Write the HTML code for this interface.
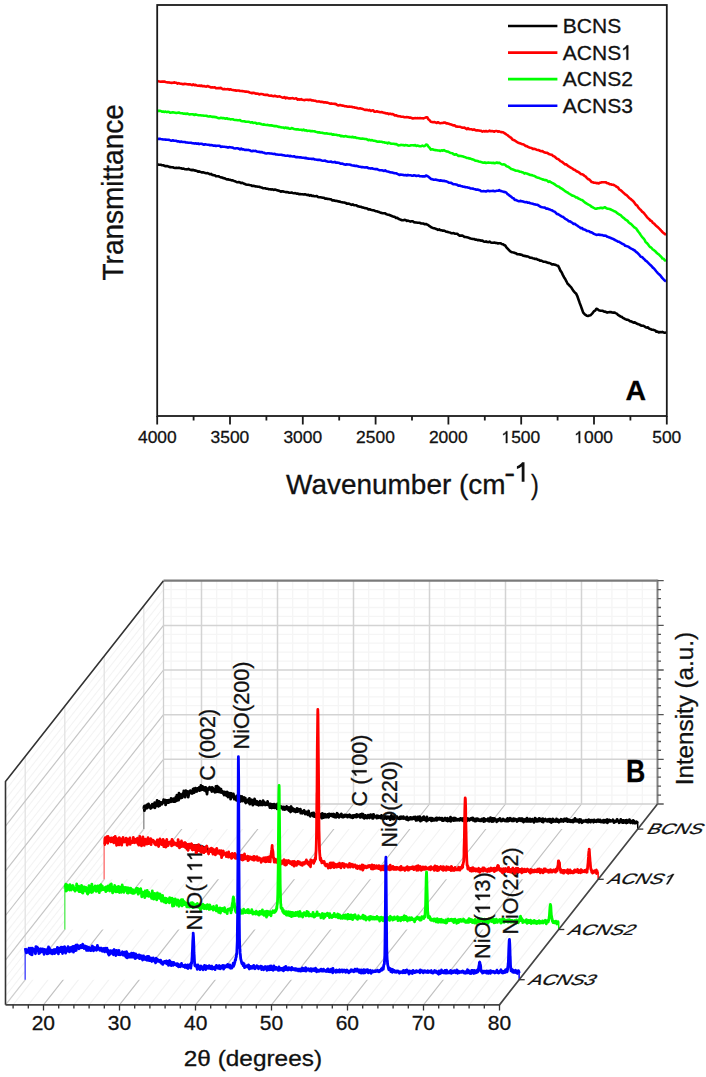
<!DOCTYPE html>
<html><head><meta charset="utf-8"><style>
html,body{margin:0;padding:0;background:#fff;}
svg{display:block;font-family:"Liberation Sans", sans-serif;}
text{stroke:#111;stroke-width:0.3px;}
</style></head><body>
<svg width="706" height="1077" viewBox="0 0 706 1077">
<rect x="0" y="0" width="706" height="1077" fill="#fff"/>
<polyline fill="none" stroke="#000" stroke-width="2.6" stroke-linejoin="round" points="157.2,164.3 158.4,164.6 159.6,164.7 160.8,164.8 162.0,165.2 163.2,165.3 164.4,165.8 165.6,166.3 166.8,166.1 168.0,166.3 169.2,166.9 170.4,167.1 171.6,167.3 172.8,167.2 174.0,167.7 175.2,168.0 176.4,167.7 177.6,168.0 178.8,167.8 180.0,168.1 181.2,168.2 182.4,168.7 183.6,168.6 184.8,169.2 186.0,169.3 187.2,169.4 188.4,168.9 189.6,169.6 190.8,169.9 192.0,170.1 193.2,169.9 194.4,170.4 195.6,170.6 196.8,170.9 198.0,171.6 199.2,171.4 200.4,171.9 201.6,172.4 202.8,172.2 204.0,172.6 205.2,172.9 206.4,173.2 207.6,173.1 208.8,173.7 210.0,174.3 211.2,173.9 212.4,174.9 213.6,175.1 214.8,175.2 216.0,176.3 217.2,176.3 218.4,176.2 219.6,176.9 220.8,177.4 222.0,177.5 223.2,178.1 224.4,178.3 225.6,178.8 226.8,179.4 228.0,179.2 229.2,179.8 230.4,179.9 231.6,180.4 232.8,180.4 234.0,180.9 235.2,181.3 236.4,181.9 237.6,182.3 238.8,182.0 240.0,182.4 241.2,183.1 242.4,182.8 243.6,183.5 244.8,183.9 246.0,184.5 247.2,184.7 248.4,184.7 249.6,185.0 250.8,185.2 252.0,185.9 253.2,185.7 254.4,186.0 255.6,186.4 256.8,186.5 258.0,186.8 259.2,186.8 260.4,187.3 261.6,187.5 262.8,188.1 264.0,188.2 265.2,188.3 266.4,188.7 267.6,188.7 268.8,189.3 270.0,189.2 271.2,189.6 272.4,189.3 273.6,189.9 274.8,189.6 276.0,189.8 277.2,190.4 278.4,190.5 279.6,191.0 280.8,191.7 282.0,191.2 283.2,191.4 284.4,191.8 285.6,192.1 286.8,192.1 288.0,192.3 289.2,192.7 290.4,192.8 291.6,192.6 292.8,193.0 294.0,193.2 295.2,193.1 296.4,193.6 297.6,193.5 298.8,194.1 300.0,194.1 301.2,194.2 302.4,194.2 303.6,194.5 304.8,194.2 306.0,194.6 307.2,195.1 308.4,194.7 309.6,195.6 310.8,195.1 312.0,195.9 313.2,195.7 314.4,196.3 315.6,196.3 316.8,196.0 318.0,197.0 319.2,197.3 320.4,197.2 321.6,197.5 322.8,197.8 324.0,197.8 325.2,198.6 326.4,198.5 327.6,198.9 328.8,199.0 330.0,199.3 331.2,199.4 332.4,200.4 333.6,200.3 334.8,200.8 336.0,200.9 337.2,201.0 338.4,201.4 339.6,201.6 340.8,202.0 342.0,202.2 343.2,202.5 344.4,202.5 345.6,202.9 346.8,203.8 348.0,203.5 349.2,203.7 350.4,204.3 351.6,204.9 352.8,204.4 354.0,205.1 355.2,205.3 356.4,205.3 357.6,206.3 358.8,206.4 360.0,206.8 361.2,206.9 362.4,207.5 363.6,207.6 364.8,208.1 366.0,208.2 367.2,208.5 368.4,209.4 369.6,209.3 370.8,209.8 372.0,210.1 373.2,210.3 374.4,210.6 375.6,211.2 376.8,211.3 378.0,211.7 379.2,212.1 380.4,212.7 381.6,212.9 382.8,213.2 384.0,213.3 385.2,213.4 386.4,214.3 387.6,214.6 388.8,214.7 390.0,215.2 391.2,215.7 392.4,216.2 393.6,216.8 394.8,216.9 396.0,218.0 397.2,217.8 398.4,218.8 399.6,219.3 400.8,219.7 402.0,220.2 403.2,220.3 404.4,219.9 405.6,220.0 406.8,220.9 408.0,220.6 409.2,221.1 410.4,221.6 411.6,221.2 412.8,221.3 414.0,222.2 415.2,222.4 416.4,222.5 417.6,222.8 418.8,222.8 420.0,222.9 421.2,223.5 422.4,223.5 423.6,223.6 424.8,224.3 426.0,224.0 427.2,224.6 428.4,225.2 429.6,226.2 430.8,227.0 432.0,227.6 433.2,228.2 434.4,228.2 435.6,228.8 436.8,229.2 438.0,229.9 439.2,229.4 440.4,230.3 441.6,230.3 442.8,230.7 444.0,230.6 445.2,231.2 446.4,231.8 447.6,231.9 448.8,232.3 450.0,232.5 451.2,233.2 452.4,233.2 453.6,233.0 454.8,233.7 456.0,233.7 457.2,233.7 458.4,234.8 459.6,235.6 460.8,235.6 462.0,235.6 463.2,236.0 464.4,236.9 465.6,237.0 466.8,237.3 468.0,237.6 469.2,237.9 470.4,238.5 471.6,238.7 472.8,239.0 474.0,239.0 475.2,239.6 476.4,239.5 477.6,240.2 478.8,239.9 480.0,240.4 481.2,240.6 482.4,240.5 483.6,241.5 484.8,241.7 486.0,241.4 487.2,242.0 488.4,242.1 489.6,241.6 490.8,242.5 492.0,242.7 493.2,242.8 494.4,242.6 495.6,242.9 496.8,243.0 498.0,243.4 499.2,243.2 500.4,243.2 501.6,243.9 502.8,244.2 504.0,245.0 505.2,245.5 506.4,247.3 507.6,248.6 508.8,249.9 510.0,251.2 511.2,251.9 512.4,252.3 513.6,252.5 514.8,252.9 516.0,253.3 517.2,254.1 518.4,254.2 519.6,254.4 520.8,254.6 522.0,254.9 523.2,255.8 524.4,255.9 525.6,256.1 526.8,256.4 528.0,256.5 529.2,257.2 530.4,257.7 531.6,257.8 532.8,258.2 534.0,258.5 535.2,259.0 536.4,258.9 537.6,259.6 538.8,259.8 540.0,260.6 541.2,260.6 542.4,261.2 543.6,261.8 544.8,261.7 546.0,262.0 547.2,262.6 548.4,262.9 549.6,263.0 550.8,263.7 552.0,264.5 553.2,264.3 554.4,264.6 555.6,264.8 556.8,265.5 558.0,265.7 559.2,267.9 560.4,270.6 561.6,272.2 562.8,274.9 564.0,277.2 565.2,279.0 566.4,281.3 567.6,283.8 568.8,284.8 570.0,286.2 571.2,287.4 572.4,289.3 573.6,291.1 574.8,292.4 576.0,293.4 577.2,295.8 578.4,299.2 579.6,302.7 580.8,305.9 582.0,309.3 583.2,312.6 584.4,313.9 585.6,314.9 586.8,315.8 588.0,316.0 589.2,315.6 590.4,315.3 591.6,314.1 592.8,312.8 594.0,311.2 595.2,310.6 596.4,308.8 597.6,309.3 598.8,310.2 600.0,310.6 601.2,310.7 602.4,310.7 603.6,311.4 604.8,311.6 606.0,312.0 607.2,312.6 608.4,312.2 609.6,312.1 610.8,312.1 612.0,312.5 613.2,312.6 614.4,312.5 615.6,313.1 616.8,313.6 618.0,314.9 619.2,315.6 620.4,316.4 621.6,316.8 622.8,317.8 624.0,318.4 625.2,319.1 626.4,319.6 627.6,319.8 628.8,320.2 630.0,321.2 631.2,321.4 632.4,322.0 633.6,322.6 634.8,322.4 636.0,323.1 637.2,323.8 638.4,324.3 639.6,324.6 640.8,325.4 642.0,325.6 643.2,325.7 644.4,326.3 645.6,327.2 646.8,327.6 648.0,327.4 649.2,328.7 650.4,329.0 651.6,329.6 652.8,329.7 654.0,330.1 655.2,330.4 656.4,331.8 657.6,331.6 658.8,332.5 660.0,332.0 661.2,332.3 662.4,331.9 663.6,332.4 664.8,332.8 666.0,332.3"/>
<polyline fill="none" stroke="#0000ff" stroke-width="2.6" stroke-linejoin="round" points="157.2,139.0 158.4,138.9 159.6,138.7 160.8,139.0 162.0,139.2 163.2,139.5 164.4,139.5 165.6,139.6 166.8,139.8 168.0,139.8 169.2,139.9 170.4,140.4 171.6,140.8 172.8,140.3 174.0,140.8 175.2,140.8 176.4,140.9 177.6,141.5 178.8,141.3 180.0,142.0 181.2,141.6 182.4,142.0 183.6,142.0 184.8,142.0 186.0,142.5 187.2,142.5 188.4,142.8 189.6,142.8 190.8,142.7 192.0,143.1 193.2,143.3 194.4,143.6 195.6,143.3 196.8,143.7 198.0,143.4 199.2,144.1 200.4,143.8 201.6,143.8 202.8,144.3 204.0,144.8 205.2,144.2 206.4,144.5 207.6,144.7 208.8,144.8 210.0,145.3 211.2,145.1 212.4,145.3 213.6,145.7 214.8,145.5 216.0,146.0 217.2,145.7 218.4,145.8 219.6,145.8 220.8,146.9 222.0,146.5 223.2,146.7 224.4,146.8 225.6,147.0 226.8,147.1 228.0,147.7 229.2,147.1 230.4,147.2 231.6,147.5 232.8,147.6 234.0,148.3 235.2,148.5 236.4,148.2 237.6,148.3 238.8,148.7 240.0,149.4 241.2,148.5 242.4,149.5 243.6,149.3 244.8,150.0 246.0,149.7 247.2,150.0 248.4,149.9 249.6,150.2 250.8,151.0 252.0,151.1 253.2,150.9 254.4,151.0 255.6,150.9 256.8,151.5 258.0,151.8 259.2,151.9 260.4,152.1 261.6,152.0 262.8,152.5 264.0,152.7 265.2,153.2 266.4,153.5 267.6,153.2 268.8,153.2 270.0,153.5 271.2,153.5 272.4,153.7 273.6,154.0 274.8,153.9 276.0,154.5 277.2,154.5 278.4,154.7 279.6,154.8 280.8,154.8 282.0,154.9 283.2,155.3 284.4,155.4 285.6,155.7 286.8,155.8 288.0,155.6 289.2,156.1 290.4,155.9 291.6,156.3 292.8,156.5 294.0,156.2 295.2,156.9 296.4,157.1 297.6,157.1 298.8,157.2 300.0,157.4 301.2,157.4 302.4,157.7 303.6,157.8 304.8,158.1 306.0,157.9 307.2,158.5 308.4,158.6 309.6,158.7 310.8,158.7 312.0,159.1 313.2,158.7 314.4,159.4 315.6,159.5 316.8,159.7 318.0,159.9 319.2,159.8 320.4,160.1 321.6,160.5 322.8,160.7 324.0,160.8 325.2,160.6 326.4,161.3 327.6,161.6 328.8,161.8 330.0,161.8 331.2,161.5 332.4,162.3 333.6,162.3 334.8,161.9 336.0,162.8 337.2,162.5 338.4,162.7 339.6,163.1 340.8,163.8 342.0,163.5 343.2,163.9 344.4,164.5 345.6,164.6 346.8,164.4 348.0,164.5 349.2,164.5 350.4,164.8 351.6,165.3 352.8,165.5 354.0,165.6 355.2,166.0 356.4,165.8 357.6,166.2 358.8,166.6 360.0,166.8 361.2,167.1 362.4,167.1 363.6,167.2 364.8,167.5 366.0,167.4 367.2,167.4 368.4,168.2 369.6,168.3 370.8,168.6 372.0,168.3 373.2,168.8 374.4,169.0 375.6,169.1 376.8,169.0 378.0,169.6 379.2,170.2 380.4,170.2 381.6,170.2 382.8,170.6 384.0,171.0 385.2,170.3 386.4,171.2 387.6,171.5 388.8,171.8 390.0,172.2 391.2,172.4 392.4,172.5 393.6,172.9 394.8,173.3 396.0,173.3 397.2,173.8 398.4,174.4 399.6,175.0 400.8,174.6 402.0,174.7 403.2,174.9 404.4,175.3 405.6,175.0 406.8,175.5 408.0,174.9 409.2,175.2 410.4,175.3 411.6,175.6 412.8,175.8 414.0,175.3 415.2,175.5 416.4,175.9 417.6,175.7 418.8,175.6 420.0,176.3 421.2,176.3 422.4,176.4 423.6,176.2 424.8,176.5 426.0,175.5 427.2,176.0 428.4,176.7 429.6,177.7 430.8,178.9 432.0,179.1 433.2,179.6 434.4,179.7 435.6,179.6 436.8,180.0 438.0,180.1 439.2,180.6 440.4,180.4 441.6,180.6 442.8,180.9 444.0,180.8 445.2,181.3 446.4,181.4 447.6,181.9 448.8,182.6 450.0,182.7 451.2,182.9 452.4,183.7 453.6,184.2 454.8,184.3 456.0,184.5 457.2,184.8 458.4,185.6 459.6,185.5 460.8,186.0 462.0,186.3 463.2,186.7 464.4,186.7 465.6,187.2 466.8,187.2 468.0,187.6 469.2,187.7 470.4,188.5 471.6,188.5 472.8,188.6 474.0,189.0 475.2,189.3 476.4,189.8 477.6,189.5 478.8,189.9 480.0,190.3 481.2,191.3 482.4,191.2 483.6,191.1 484.8,191.2 486.0,191.5 487.2,190.9 488.4,190.8 489.6,191.2 490.8,191.0 492.0,191.0 493.2,190.7 494.4,191.2 495.6,191.1 496.8,190.8 498.0,190.8 499.2,190.1 500.4,191.0 501.6,191.1 502.8,191.6 504.0,191.9 505.2,192.1 506.4,192.7 507.6,194.2 508.8,194.9 510.0,195.9 511.2,196.8 512.4,197.9 513.6,198.3 514.8,199.9 516.0,200.0 517.2,200.6 518.4,201.2 519.6,201.1 520.8,200.9 522.0,201.4 523.2,201.5 524.4,201.9 525.6,202.3 526.8,202.0 528.0,202.8 529.2,202.6 530.4,203.3 531.6,203.5 532.8,203.8 534.0,204.2 535.2,204.4 536.4,204.7 537.6,204.8 538.8,205.6 540.0,206.5 541.2,207.0 542.4,207.3 543.6,207.5 544.8,207.6 546.0,208.6 547.2,208.6 548.4,209.0 549.6,209.4 550.8,209.9 552.0,210.3 553.2,211.1 554.4,211.6 555.6,212.5 556.8,213.9 558.0,214.1 559.2,214.8 560.4,215.7 561.6,216.5 562.8,216.8 564.0,217.8 565.2,218.8 566.4,219.4 567.6,220.1 568.8,221.2 570.0,221.4 571.2,222.2 572.4,222.8 573.6,224.0 574.8,223.8 576.0,224.8 577.2,225.5 578.4,226.5 579.6,227.2 580.8,228.1 582.0,228.0 583.2,229.3 584.4,229.6 585.6,230.0 586.8,230.9 588.0,231.0 589.2,231.2 590.4,232.2 591.6,232.4 592.8,233.1 594.0,233.9 595.2,234.4 596.4,234.9 597.6,234.7 598.8,234.5 600.0,234.9 601.2,235.0 602.4,235.1 603.6,235.7 604.8,235.6 606.0,235.7 607.2,236.8 608.4,237.0 609.6,237.6 610.8,238.0 612.0,238.6 613.2,238.9 614.4,239.8 615.6,240.3 616.8,240.9 618.0,241.6 619.2,241.8 620.4,242.7 621.6,243.4 622.8,244.1 624.0,244.4 625.2,245.8 626.4,246.1 627.6,246.4 628.8,246.9 630.0,247.9 631.2,248.6 632.4,249.1 633.6,250.0 634.8,250.5 636.0,251.8 637.2,252.6 638.4,253.9 639.6,255.2 640.8,256.7 642.0,257.0 643.2,258.2 644.4,259.2 645.6,260.7 646.8,261.4 648.0,262.7 649.2,263.9 650.4,265.0 651.6,266.2 652.8,267.6 654.0,268.5 655.2,270.0 656.4,271.5 657.6,272.9 658.8,274.1 660.0,275.0 661.2,276.6 662.4,278.2 663.6,279.4 664.8,280.6 666.0,281.6"/>
<polyline fill="none" stroke="#00ff00" stroke-width="2.6" stroke-linejoin="round" points="157.2,111.1 158.4,110.9 159.6,110.8 160.8,111.0 162.0,111.7 163.2,111.5 164.4,111.9 165.6,111.6 166.8,112.1 168.0,111.8 169.2,112.0 170.4,112.8 171.6,112.5 172.8,112.3 174.0,112.5 175.2,112.7 176.4,113.0 177.6,112.7 178.8,112.5 180.0,113.0 181.2,113.2 182.4,113.3 183.6,113.7 184.8,113.6 186.0,113.9 187.2,113.5 188.4,114.1 189.6,114.5 190.8,114.3 192.0,114.3 193.2,114.4 194.4,115.0 195.6,114.4 196.8,114.8 198.0,115.1 199.2,115.3 200.4,115.2 201.6,115.5 202.8,115.5 204.0,115.8 205.2,115.8 206.4,115.7 207.6,116.2 208.8,116.5 210.0,116.2 211.2,116.6 212.4,116.9 213.6,116.7 214.8,117.1 216.0,117.0 217.2,117.7 218.4,118.1 219.6,118.2 220.8,117.8 222.0,118.1 223.2,118.1 224.4,118.3 225.6,118.8 226.8,118.2 228.0,119.0 229.2,118.9 230.4,119.4 231.6,119.3 232.8,119.3 234.0,119.7 235.2,120.0 236.4,120.0 237.6,120.3 238.8,120.3 240.0,120.1 241.2,121.0 242.4,121.2 243.6,121.2 244.8,121.4 246.0,121.8 247.2,121.7 248.4,121.8 249.6,122.1 250.8,122.6 252.0,122.2 253.2,123.0 254.4,122.8 255.6,122.8 256.8,123.6 258.0,123.5 259.2,123.4 260.4,123.8 261.6,124.3 262.8,124.6 264.0,124.4 265.2,124.8 266.4,125.0 267.6,124.9 268.8,125.3 270.0,125.4 271.2,125.4 272.4,125.6 273.6,125.9 274.8,126.1 276.0,126.1 277.2,126.3 278.4,126.9 279.6,126.9 280.8,127.2 282.0,127.5 283.2,127.5 284.4,128.1 285.6,127.5 286.8,128.1 288.0,127.9 289.2,128.6 290.4,128.8 291.6,128.0 292.8,128.4 294.0,129.0 295.2,129.2 296.4,129.4 297.6,129.3 298.8,129.6 300.0,129.8 301.2,129.8 302.4,130.3 303.6,129.6 304.8,130.5 306.0,130.2 307.2,130.9 308.4,130.8 309.6,130.8 310.8,131.3 312.0,131.1 313.2,131.3 314.4,131.3 315.6,131.8 316.8,132.1 318.0,132.4 319.2,132.3 320.4,132.8 321.6,132.7 322.8,132.9 324.0,133.2 325.2,133.5 326.4,133.3 327.6,133.6 328.8,133.8 330.0,134.0 331.2,133.9 332.4,134.6 333.6,134.4 334.8,134.8 336.0,134.7 337.2,135.1 338.4,135.3 339.6,135.3 340.8,136.1 342.0,135.9 343.2,136.4 344.4,136.4 345.6,136.1 346.8,136.4 348.0,136.8 349.2,136.9 350.4,137.0 351.6,137.1 352.8,136.9 354.0,137.5 355.2,137.2 356.4,138.0 357.6,138.0 358.8,138.2 360.0,138.5 361.2,138.8 362.4,138.5 363.6,138.7 364.8,139.0 366.0,139.0 367.2,139.4 368.4,140.3 369.6,139.8 370.8,140.4 372.0,140.1 373.2,140.7 374.4,140.7 375.6,141.0 376.8,141.4 378.0,141.8 379.2,141.6 380.4,141.8 381.6,141.7 382.8,142.3 384.0,142.3 385.2,142.8 386.4,142.7 387.6,143.4 388.8,142.6 390.0,143.2 391.2,143.7 392.4,143.7 393.6,143.8 394.8,144.1 396.0,144.0 397.2,144.6 398.4,145.4 399.6,145.3 400.8,144.9 402.0,145.0 403.2,145.1 404.4,145.5 405.6,145.1 406.8,145.2 408.0,145.6 409.2,145.7 410.4,145.4 411.6,145.2 412.8,145.2 414.0,145.4 415.2,145.1 416.4,145.9 417.6,145.6 418.8,145.9 420.0,146.3 421.2,146.2 422.4,145.6 423.6,146.2 424.8,146.0 426.0,144.6 427.2,144.7 428.4,146.6 429.6,147.7 430.8,149.6 432.0,149.2 433.2,149.6 434.4,150.0 435.6,150.1 436.8,150.3 438.0,150.5 439.2,150.5 440.4,151.0 441.6,150.3 442.8,150.7 444.0,150.1 445.2,150.8 446.4,151.4 447.6,151.5 448.8,152.0 450.0,152.7 451.2,153.0 452.4,153.2 453.6,154.3 454.8,154.7 456.0,154.2 457.2,155.0 458.4,155.9 459.6,155.8 460.8,156.0 462.0,156.3 463.2,156.6 464.4,157.0 465.6,157.3 466.8,158.0 468.0,158.0 469.2,158.4 470.4,158.6 471.6,159.2 472.8,159.4 474.0,159.9 475.2,160.6 476.4,160.7 477.6,161.1 478.8,161.5 480.0,161.7 481.2,162.1 482.4,162.4 483.6,162.8 484.8,162.4 486.0,163.0 487.2,162.8 488.4,162.6 489.6,162.7 490.8,162.7 492.0,163.0 493.2,162.8 494.4,163.3 495.6,162.9 496.8,162.5 498.0,163.0 499.2,162.7 500.4,163.5 501.6,164.2 502.8,164.5 504.0,164.3 505.2,164.9 506.4,166.2 507.6,166.5 508.8,167.1 510.0,168.0 511.2,169.0 512.4,169.3 513.6,169.7 514.8,170.3 516.0,170.7 517.2,170.7 518.4,171.0 519.6,171.6 520.8,171.7 522.0,172.3 523.2,172.6 524.4,173.6 525.6,173.1 526.8,173.6 528.0,174.0 529.2,174.5 530.4,175.0 531.6,175.1 532.8,175.5 534.0,175.8 535.2,176.4 536.4,177.3 537.6,177.6 538.8,177.8 540.0,178.4 541.2,178.9 542.4,179.4 543.6,179.6 544.8,180.1 546.0,180.1 547.2,180.7 548.4,181.9 549.6,181.3 550.8,182.2 552.0,182.8 553.2,183.4 554.4,184.1 555.6,185.0 556.8,185.8 558.0,186.5 559.2,186.8 560.4,188.0 561.6,188.5 562.8,189.4 564.0,190.3 565.2,191.2 566.4,192.0 567.6,192.4 568.8,193.5 570.0,194.2 571.2,194.8 572.4,195.6 573.6,195.8 574.8,196.5 576.0,197.4 577.2,197.5 578.4,198.6 579.6,199.0 580.8,199.7 582.0,200.0 583.2,200.9 584.4,201.9 585.6,202.9 586.8,203.7 588.0,204.3 589.2,205.0 590.4,205.7 591.6,206.8 592.8,207.3 594.0,208.0 595.2,208.7 596.4,208.8 597.6,208.3 598.8,208.2 600.0,207.9 601.2,207.8 602.4,208.2 603.6,207.8 604.8,207.2 606.0,208.0 607.2,208.6 608.4,208.7 609.6,209.0 610.8,209.5 612.0,210.1 613.2,210.7 614.4,211.3 615.6,211.7 616.8,212.7 618.0,213.7 619.2,214.5 620.4,214.9 621.6,216.2 622.8,217.3 624.0,218.1 625.2,219.4 626.4,220.1 627.6,220.9 628.8,222.5 630.0,223.3 631.2,224.1 632.4,225.3 633.6,226.6 634.8,227.7 636.0,228.3 637.2,230.1 638.4,231.7 639.6,233.2 640.8,235.1 642.0,236.9 643.2,238.1 644.4,239.5 645.6,241.9 646.8,242.9 648.0,244.3 649.2,246.1 650.4,247.2 651.6,248.0 652.8,249.5 654.0,250.2 655.2,251.2 656.4,252.5 657.6,253.7 658.8,254.4 660.0,255.7 661.2,256.7 662.4,258.5 663.6,258.7 664.8,260.3 666.0,261.0"/>
<polyline fill="none" stroke="#ff0000" stroke-width="2.6" stroke-linejoin="round" points="157.2,81.0 158.4,81.3 159.6,81.5 160.8,81.7 162.0,81.6 163.2,81.5 164.4,81.6 165.6,82.0 166.8,82.2 168.0,82.5 169.2,82.4 170.4,82.7 171.6,82.9 172.8,82.7 174.0,82.4 175.2,82.6 176.4,82.7 177.6,83.6 178.8,83.1 180.0,83.7 181.2,83.7 182.4,84.1 183.6,84.1 184.8,83.9 186.0,84.0 187.2,84.2 188.4,84.4 189.6,84.3 190.8,84.6 192.0,85.1 193.2,84.4 194.4,85.1 195.6,84.9 196.8,85.4 198.0,85.7 199.2,85.6 200.4,86.0 201.6,85.5 202.8,86.3 204.0,86.1 205.2,86.5 206.4,86.6 207.6,86.0 208.8,86.6 210.0,87.0 211.2,87.5 212.4,87.3 213.6,87.5 214.8,87.2 216.0,88.1 217.2,88.3 218.4,88.0 219.6,88.1 220.8,87.9 222.0,88.7 223.2,89.3 224.4,88.9 225.6,89.2 226.8,89.2 228.0,89.0 229.2,89.7 230.4,89.3 231.6,89.7 232.8,90.0 234.0,90.3 235.2,90.4 236.4,90.6 237.6,90.5 238.8,90.5 240.0,91.0 241.2,91.0 242.4,91.1 243.6,91.3 244.8,91.6 246.0,91.5 247.2,91.8 248.4,91.9 249.6,92.5 250.8,92.8 252.0,93.3 253.2,92.7 254.4,93.0 255.6,93.6 256.8,93.5 258.0,93.7 259.2,94.4 260.4,94.0 261.6,94.0 262.8,94.2 264.0,94.8 265.2,94.9 266.4,94.7 267.6,94.9 268.8,95.5 270.0,95.7 271.2,95.5 272.4,96.0 273.6,96.2 274.8,95.7 276.0,96.3 277.2,96.6 278.4,96.5 279.6,96.3 280.8,96.9 282.0,97.4 283.2,97.7 284.4,97.0 285.6,98.3 286.8,97.5 288.0,98.2 289.2,98.4 290.4,98.4 291.6,98.3 292.8,98.1 294.0,98.7 295.2,98.5 296.4,98.2 297.6,99.7 298.8,99.3 300.0,99.7 301.2,99.1 302.4,99.8 303.6,100.0 304.8,100.1 306.0,99.8 307.2,99.7 308.4,100.1 309.6,99.7 310.8,99.9 312.0,100.5 313.2,100.4 314.4,100.7 315.6,100.8 316.8,101.5 318.0,101.5 319.2,101.4 320.4,101.9 321.6,101.7 322.8,102.0 324.0,102.5 325.2,102.2 326.4,102.6 327.6,102.6 328.8,103.1 330.0,103.7 331.2,103.4 332.4,103.8 333.6,103.7 334.8,103.9 336.0,104.1 337.2,105.0 338.4,105.4 339.6,105.1 340.8,105.1 342.0,105.6 343.2,105.6 344.4,106.1 345.6,106.2 346.8,106.4 348.0,106.7 349.2,106.6 350.4,106.8 351.6,106.7 352.8,107.2 354.0,107.2 355.2,107.7 356.4,107.7 357.6,108.2 358.8,108.5 360.0,108.3 361.2,108.6 362.4,108.8 363.6,109.4 364.8,109.9 366.0,109.9 367.2,109.8 368.4,110.4 369.6,109.9 370.8,110.9 372.0,110.5 373.2,110.2 374.4,111.8 375.6,111.7 376.8,111.3 378.0,111.8 379.2,111.9 380.4,112.2 381.6,112.0 382.8,112.4 384.0,112.9 385.2,113.0 386.4,113.5 387.6,113.4 388.8,114.2 390.0,113.6 391.2,114.2 392.4,114.0 393.6,114.5 394.8,115.5 396.0,115.2 397.2,115.9 398.4,116.1 399.6,116.2 400.8,116.6 402.0,116.7 403.2,116.8 404.4,117.2 405.6,117.3 406.8,117.1 408.0,117.2 409.2,117.6 410.4,117.6 411.6,118.0 412.8,118.5 414.0,118.2 415.2,118.1 416.4,118.2 417.6,118.1 418.8,118.2 420.0,118.1 421.2,118.2 422.4,118.2 423.6,118.4 424.8,117.9 426.0,117.3 427.2,117.2 428.4,119.3 429.6,120.2 430.8,121.7 432.0,122.0 433.2,122.3 434.4,122.0 435.6,122.4 436.8,123.0 438.0,122.2 439.2,122.9 440.4,123.2 441.6,123.0 442.8,123.0 444.0,122.6 445.2,122.6 446.4,123.4 447.6,123.4 448.8,123.8 450.0,124.2 451.2,124.6 452.4,125.0 453.6,125.5 454.8,125.3 456.0,126.5 457.2,126.6 458.4,126.8 459.6,126.8 460.8,127.1 462.0,127.6 463.2,127.8 464.4,127.6 465.6,128.4 466.8,129.2 468.0,128.2 469.2,129.1 470.4,129.2 471.6,129.3 472.8,129.9 474.0,129.4 475.2,130.0 476.4,130.5 477.6,130.3 478.8,130.5 480.0,130.8 481.2,130.9 482.4,131.6 483.6,131.1 484.8,131.5 486.0,131.0 487.2,131.5 488.4,131.3 489.6,130.6 490.8,131.3 492.0,131.0 493.2,131.2 494.4,131.7 495.6,131.0 496.8,131.0 498.0,131.7 499.2,131.3 500.4,132.0 501.6,132.1 502.8,132.2 504.0,132.8 505.2,133.6 506.4,134.5 507.6,135.2 508.8,136.2 510.0,137.1 511.2,137.9 512.4,139.5 513.6,140.0 514.8,140.5 516.0,141.3 517.2,142.2 518.4,142.8 519.6,143.2 520.8,143.6 522.0,144.2 523.2,144.3 524.4,144.9 525.6,145.9 526.8,146.1 528.0,146.8 529.2,147.5 530.4,147.8 531.6,148.0 532.8,148.9 534.0,148.9 535.2,149.0 536.4,149.7 537.6,150.0 538.8,150.1 540.0,150.8 541.2,151.2 542.4,151.1 543.6,152.0 544.8,152.4 546.0,152.8 547.2,152.9 548.4,153.7 549.6,154.2 550.8,154.6 552.0,154.8 553.2,156.1 554.4,156.4 555.6,157.5 556.8,158.7 558.0,159.0 559.2,159.9 560.4,161.1 561.6,161.6 562.8,162.4 564.0,163.4 565.2,164.4 566.4,164.4 567.6,165.6 568.8,166.4 570.0,167.1 571.2,167.8 572.4,168.5 573.6,169.5 574.8,169.9 576.0,170.8 577.2,171.6 578.4,172.0 579.6,172.9 580.8,174.0 582.0,174.3 583.2,174.7 584.4,175.8 585.6,176.5 586.8,177.8 588.0,179.0 589.2,179.5 590.4,180.7 591.6,182.0 592.8,182.2 594.0,182.7 595.2,182.7 596.4,183.1 597.6,183.0 598.8,183.5 600.0,182.7 601.2,182.4 602.4,182.3 603.6,182.2 604.8,182.2 606.0,182.4 607.2,183.3 608.4,183.3 609.6,184.1 610.8,184.2 612.0,184.7 613.2,184.7 614.4,185.4 615.6,185.9 616.8,186.9 618.0,187.5 619.2,189.3 620.4,190.0 621.6,191.0 622.8,192.1 624.0,193.2 625.2,194.4 626.4,195.0 627.6,196.1 628.8,197.5 630.0,198.5 631.2,199.4 632.4,200.4 633.6,201.6 634.8,203.2 636.0,204.9 637.2,205.7 638.4,207.7 639.6,208.9 640.8,209.9 642.0,211.6 643.2,212.4 644.4,213.7 645.6,215.2 646.8,216.8 648.0,218.1 649.2,219.2 650.4,220.5 651.6,221.1 652.8,222.8 654.0,223.5 655.2,224.8 656.4,226.0 657.6,227.0 658.8,228.1 660.0,229.3 661.2,230.7 662.4,232.0 663.6,233.1 664.8,233.8 666.0,235.0"/>
<rect x="157.2" y="5.0" width="509.6" height="411.0" fill="none" stroke="#1a1a1a" stroke-width="1.8"/>
<path d="M157.2 416.0V424.4 M193.6 416.0V420.5 M230.0 416.0V424.4 M266.4 416.0V420.5 M302.8 416.0V424.4 M339.2 416.0V420.5 M375.6 416.0V424.4 M412.0 416.0V420.5 M448.4 416.0V424.4 M484.8 416.0V420.5 M521.2 416.0V424.4 M557.6 416.0V420.5 M594.0 416.0V424.4 M630.4 416.0V420.5 M666.8 416.0V424.4" stroke="#1a1a1a" stroke-width="1.8" fill="none"/>
<g transform="translate(137.97 443.10)"><text font-size="17.4" fill="#111">4000</text></g>
<g transform="translate(210.60 443.10)"><text font-size="17.4" fill="#111">3500</text></g>
<g transform="translate(283.40 443.10)"><text font-size="17.4" fill="#111">3000</text></g>
<g transform="translate(356.11 443.10)"><text font-size="17.4" fill="#111">2500</text></g>
<g transform="translate(428.91 443.10)"><text font-size="17.4" fill="#111">2000</text></g>
<g transform="translate(501.49 443.10)"><path transform="translate(0.00 0) scale(17.4)" d="M0.339 0V-0.688H0.262C0.225 -0.61 0.16 -0.56 0.096 -0.535V-0.455C0.15 -0.475 0.21 -0.51 0.251 -0.545V0Z" fill="#111" stroke="#111" stroke-width="0.0172"/><text x="9.68" font-size="17.4" fill="#111">500</text></g>
<g transform="translate(574.29 443.10)"><path transform="translate(0.00 0) scale(17.4)" d="M0.339 0V-0.688H0.262C0.225 -0.61 0.16 -0.56 0.096 -0.535V-0.455C0.15 -0.475 0.21 -0.51 0.251 -0.545V0Z" fill="#111" stroke="#111" stroke-width="0.0172"/><text x="9.68" font-size="17.4" fill="#111">000</text></g>
<g transform="translate(652.27 443.10)"><text font-size="17.4" fill="#111">500</text></g>
<g transform="translate(286.06 494.30) scale(1.0023 1.0000)"><text font-size="27.9" fill="#111">Wavenumber (cm</text></g>
<g transform="translate(504.13 482.30) scale(1.1704 1.0000)"><text font-size="27.9" fill="#111">-</text></g>
<path d="M521.7 481.8V466.4C520.4 467.6 518.7 468.5 516.9 469.1V466.3C519 465.5 521 463.9 522.1 462.3H524.5V481.8Z" fill="#111"/>
<g transform="translate(531.08 494.30) scale(0.8386 1.0000)"><text font-size="27.9" fill="#111">)</text></g>
<g transform="translate(123.40 280.46) rotate(-90) scale(0.9998 1.0300)"><text font-size="28.0" fill="#111">Transmittance</text></g>
<line x1="508" y1="26.0" x2="557.4" y2="26.0" stroke="#000" stroke-width="2.6"/>
<g transform="translate(562.8 33.2)"><text font-size="21" fill="#111">BCNS</text></g>
<line x1="508" y1="52.6" x2="557.4" y2="52.6" stroke="#ff0000" stroke-width="2.6"/>
<g transform="translate(562.8 59.8)"><text x="0.00" font-size="21" fill="#111">ACNS</text><path transform="translate(58.35 0) scale(21)" d="M0.339 0V-0.688H0.262C0.225 -0.61 0.16 -0.56 0.096 -0.535V-0.455C0.15 -0.475 0.21 -0.51 0.251 -0.545V0Z" fill="#111" stroke="#111" stroke-width="0.0143"/></g>
<line x1="508" y1="79.1" x2="557.4" y2="79.1" stroke="#00ff00" stroke-width="2.6"/>
<g transform="translate(562.8 86.4)"><text font-size="21" fill="#111">ACNS2</text></g>
<line x1="508" y1="105.7" x2="557.4" y2="105.7" stroke="#0000ff" stroke-width="2.6"/>
<g transform="translate(562.8 113.0)"><text font-size="21" fill="#111">ACNS3</text></g>
<g transform="translate(625.59 400.10) scale(1.0073 1.0000)"><text font-size="28.3" font-weight="bold" fill="#000">A</text></g>
<path d="M171.1 580.7V804.0 M186.3 580.7V804.0 M216.7 580.7V804.0 M231.9 580.7V804.0 M247.1 580.7V804.0 M262.3 580.7V804.0 M292.7 580.7V804.0 M307.9 580.7V804.0 M323.1 580.7V804.0 M338.3 580.7V804.0 M368.7 580.7V804.0 M383.9 580.7V804.0 M399.1 580.7V804.0 M414.3 580.7V804.0 M444.7 580.7V804.0 M459.9 580.7V804.0 M475.1 580.7V804.0 M490.3 580.7V804.0 M520.7 580.7V804.0 M535.9 580.7V804.0 M551.1 580.7V804.0 M566.3 580.7V804.0 M596.7 580.7V804.0 M611.9 580.7V804.0 M627.1 580.7V804.0 M642.3 580.7V804.0 M163.5 795.1H657.5 M163.5 786.1H657.5 M163.5 777.2H657.5 M163.5 768.3H657.5 M163.5 750.4H657.5 M163.5 741.5H657.5 M163.5 732.5H657.5 M163.5 723.6H657.5 M163.5 705.7H657.5 M163.5 696.8H657.5 M163.5 687.9H657.5 M163.5 679.0H657.5 M163.5 661.1H657.5 M163.5 652.2H657.5 M163.5 643.2H657.5 M163.5 634.3H657.5 M163.5 616.4H657.5 M163.5 607.5H657.5 M163.5 598.6H657.5 M163.5 589.6H657.5" stroke="#f5f5f5" stroke-width="1.3" fill="none"/>
<path d="M201.5 580.7V804.0 M277.5 580.7V804.0 M353.5 580.7V804.0 M429.5 580.7V804.0 M505.5 580.7V804.0 M581.5 580.7V804.0 M163.5 759.3H657.5 M163.5 714.7H657.5 M163.5 670.0H657.5 M163.5 625.4H657.5" stroke="#d3d3d3" stroke-width="1.5" fill="none"/>
<path d="M163.5 795.1L5.5 995.9 M163.5 786.1L5.5 986.9 M163.5 777.2L5.5 978.0 M163.5 768.3L5.5 969.1 M163.5 750.4L5.5 951.2 M163.5 741.5L5.5 942.3 M163.5 732.5L5.5 933.3 M163.5 723.6L5.5 924.4 M163.5 705.7L5.5 906.5 M163.5 696.8L5.5 897.6 M163.5 687.9L5.5 888.7 M163.5 679.0L5.5 879.8 M163.5 661.1L5.5 861.9 M163.5 652.2L5.5 853.0 M163.5 643.2L5.5 844.0 M163.5 634.3L5.5 835.1 M163.5 616.4L5.5 817.2 M163.5 607.5L5.5 808.3 M163.5 598.6L5.5 799.4 M163.5 589.6L5.5 790.4" stroke="#f4f4f4" stroke-width="1.1" fill="none"/>
<path d="M25.2 979.7L25.2 756.4 M64.8 929.5L64.8 706.2 M104.2 879.3L104.2 656.0 M143.8 829.1L143.8 605.8" stroke="#e2e2e2" stroke-width="1.3" fill="none"/>
<path d="M163.5 759.3L5.5 960.1 M163.5 714.7L5.5 915.5 M163.5 670.0L5.5 870.8 M163.5 625.4L5.5 826.2" stroke="#c6c6c6" stroke-width="1.2" fill="none"/>
<path d="M171.1 804.0L13.1 1004.8 M186.3 804.0L28.3 1004.8 M216.7 804.0L58.7 1004.8 M231.9 804.0L73.9 1004.8 M247.1 804.0L89.1 1004.8 M262.3 804.0L104.3 1004.8 M292.7 804.0L134.7 1004.8 M307.9 804.0L149.9 1004.8 M323.1 804.0L165.1 1004.8 M338.3 804.0L180.3 1004.8 M368.7 804.0L210.7 1004.8 M383.9 804.0L225.9 1004.8 M399.1 804.0L241.1 1004.8 M414.3 804.0L256.3 1004.8 M444.7 804.0L286.7 1004.8 M459.9 804.0L301.9 1004.8 M475.1 804.0L317.1 1004.8 M490.3 804.0L332.3 1004.8 M520.7 804.0L362.7 1004.8 M535.9 804.0L377.9 1004.8 M551.1 804.0L393.1 1004.8 M566.3 804.0L408.3 1004.8 M596.7 804.0L438.7 1004.8 M611.9 804.0L453.9 1004.8 M627.1 804.0L469.1 1004.8 M642.3 804.0L484.3 1004.8" stroke="#f3f3f3" stroke-width="1.2" fill="none"/>
<path d="M201.5 804.0L43.5 1004.8 M277.5 804.0L119.5 1004.8 M353.5 804.0L195.5 1004.8 M429.5 804.0L271.5 1004.8 M505.5 804.0L347.5 1004.8 M581.5 804.0L423.5 1004.8" stroke="#c2c2c2" stroke-width="1.2" fill="none"/>
<path d="M163.5 580.7V804.0H657.5 M163.5 804.0L5.5 1004.8" stroke="#cfcfcf" stroke-width="1.3" fill="none"/>
<polygon fill="#fff" points="143.8,829.1 143.8,808.9 144.1,806.4 144.4,810.7 144.8,805.8 145.1,809.3 145.5,806.7 145.8,805.7 146.1,807.1 146.5,805.9 146.8,804.9 147.2,808.2 147.5,805.3 147.9,805.7 148.2,806.3 148.5,803.8 148.9,805.6 149.2,807.2 149.6,807.0 149.9,806.3 150.2,806.8 150.6,808.5 150.9,805.6 151.3,806.4 151.6,806.2 152.0,807.4 152.3,804.2 152.6,804.9 153.0,805.7 153.3,804.3 153.7,807.0 154.0,803.8 154.4,807.3 154.7,802.7 155.0,807.9 155.4,805.0 155.7,804.8 156.1,803.4 156.4,804.6 156.7,805.7 157.1,800.4 157.4,804.6 157.8,803.7 158.1,804.3 158.5,806.4 158.8,804.1 159.1,801.3 159.5,804.6 159.8,805.6 160.2,802.7 160.5,803.2 160.8,802.4 161.2,802.7 161.5,802.7 161.9,804.2 162.2,802.8 162.6,803.2 162.9,802.0 163.2,802.4 163.6,799.7 163.9,802.4 164.3,802.0 164.6,800.2 165.0,801.1 165.3,800.1 165.6,804.9 166.0,803.1 166.3,800.3 166.7,802.9 167.0,802.7 167.3,800.4 167.7,801.4 168.0,801.2 168.4,800.2 168.7,802.5 169.1,801.4 169.4,800.3 169.7,800.6 170.1,800.3 170.4,801.7 170.8,801.8 171.1,798.3 171.5,798.8 171.8,799.2 172.1,801.4 172.5,800.7 172.8,799.2 173.2,799.6 173.5,801.5 173.8,798.6 174.2,798.7 174.5,798.8 174.9,801.7 175.2,800.4 175.6,799.8 175.9,797.0 176.2,798.3 176.6,800.8 176.9,795.1 177.3,799.3 177.6,797.5 177.9,797.9 178.3,797.6 178.6,800.1 179.0,793.1 179.3,797.5 179.7,797.3 180.0,797.6 180.3,794.7 180.7,798.1 181.0,794.7 181.4,795.8 181.7,794.9 182.1,797.7 182.4,796.3 182.7,794.0 183.1,793.2 183.4,796.2 183.8,790.9 184.1,794.7 184.4,794.5 184.8,792.2 185.1,797.1 185.5,791.5 185.8,790.6 186.2,794.3 186.5,794.0 186.8,794.1 187.2,794.8 187.5,793.7 187.9,791.3 188.2,797.1 188.6,795.2 188.9,794.1 189.2,792.8 189.6,793.0 189.9,792.5 190.3,790.7 190.6,791.1 190.9,792.9 191.3,793.1 191.6,792.0 192.0,793.5 192.3,793.0 192.7,793.1 193.0,789.2 193.3,791.4 193.7,788.6 194.0,792.6 194.4,792.3 194.7,789.3 195.0,789.2 195.4,788.1 195.7,791.3 196.1,788.6 196.4,791.0 196.8,791.4 197.1,789.1 197.4,788.4 197.8,789.1 198.1,790.0 198.5,788.4 198.8,789.9 199.2,787.4 199.5,790.7 199.8,787.1 200.2,790.4 200.5,788.4 200.9,785.5 201.2,788.7 201.5,789.8 201.9,788.4 202.2,787.8 202.6,786.4 202.9,789.6 203.3,787.1 203.6,788.8 203.9,788.4 204.3,790.4 204.6,788.8 205.0,790.5 205.3,787.4 205.7,787.4 206.0,791.3 206.3,789.4 206.7,789.7 207.0,794.1 207.4,790.6 207.7,788.6 208.0,790.0 208.4,789.7 208.7,788.7 209.1,787.6 209.4,788.9 209.8,787.3 210.1,789.3 210.4,789.7 210.8,787.9 211.1,787.6 211.5,787.6 211.8,791.5 212.1,787.3 212.5,788.5 212.8,788.0 213.2,791.0 213.5,790.5 213.9,789.4 214.2,791.3 214.5,791.6 214.9,792.3 215.2,789.5 215.6,790.8 215.9,786.4 216.3,787.2 216.6,791.8 216.9,788.9 217.3,786.1 217.6,788.6 218.0,789.9 218.3,791.1 218.6,791.8 219.0,787.7 219.3,791.7 219.7,788.7 220.0,792.0 220.4,790.1 220.7,792.4 221.0,789.1 221.4,792.5 221.7,791.2 222.1,791.5 222.4,791.7 222.8,792.4 223.1,791.8 223.4,793.8 223.8,794.1 224.1,795.0 224.5,792.0 224.8,792.5 225.1,794.8 225.5,794.0 225.8,794.9 226.2,792.2 226.5,795.6 226.9,794.7 227.2,793.5 227.5,792.0 227.9,797.0 228.2,794.0 228.6,796.4 228.9,795.1 229.2,795.3 229.6,795.3 229.9,793.1 230.3,794.5 230.6,799.2 231.0,796.4 231.3,793.4 231.6,795.7 232.0,794.2 232.3,795.0 232.7,796.2 233.0,797.0 233.4,794.0 233.7,795.6 234.0,796.4 234.4,799.2 234.7,799.0 235.1,797.2 235.4,797.8 235.7,797.9 236.1,799.6 236.4,800.2 236.8,796.0 237.1,797.5 237.5,799.2 237.8,797.0 238.1,796.9 238.5,800.0 238.8,798.1 239.2,800.2 239.5,797.5 239.9,796.1 240.2,801.6 240.5,799.4 240.9,797.7 241.2,798.9 241.6,798.8 241.9,796.4 242.2,801.0 242.6,799.9 242.9,799.6 243.3,797.6 243.6,798.0 244.0,797.4 244.3,798.8 244.6,801.1 245.0,801.8 245.3,798.2 245.7,803.0 246.0,800.6 246.3,801.6 246.7,800.9 247.0,801.8 247.4,799.9 247.7,800.9 248.1,799.8 248.4,802.4 248.7,802.9 249.1,802.7 249.4,798.4 249.8,804.2 250.1,799.8 250.5,800.9 250.8,800.0 251.1,800.0 251.5,803.4 251.8,799.8 252.2,801.3 252.5,801.5 252.8,805.2 253.2,802.2 253.5,800.2 253.9,800.6 254.2,803.2 254.6,799.0 254.9,803.9 255.2,802.8 255.6,803.7 255.9,802.1 256.3,804.3 256.6,801.1 257.0,801.5 257.3,804.6 257.6,803.1 258.0,802.9 258.3,804.0 258.7,805.2 259.0,802.6 259.3,801.9 259.7,804.9 260.0,801.2 260.4,803.2 260.7,804.8 261.1,802.0 261.4,804.9 261.7,804.5 262.1,803.1 262.4,803.0 262.8,805.0 263.1,800.7 263.4,801.3 263.8,803.6 264.1,804.3 264.5,802.4 264.8,803.0 265.2,805.0 265.5,803.5 265.8,804.8 266.2,803.1 266.5,804.6 266.9,804.5 267.2,804.1 267.6,801.4 267.9,804.8 268.2,803.2 268.6,804.5 268.9,805.0 269.3,805.5 269.6,806.1 269.9,807.7 270.3,806.4 270.6,803.8 271.0,804.4 271.3,806.1 271.7,808.0 272.0,804.8 272.3,807.2 272.7,804.4 273.0,806.2 273.4,807.6 273.7,806.8 274.1,804.1 274.4,805.7 274.7,807.8 275.1,807.3 275.4,805.2 275.8,805.9 276.1,804.8 276.4,806.2 276.8,806.6 277.1,808.8 277.5,804.0 277.8,806.8 278.2,808.3 278.5,808.4 278.8,808.4 279.2,805.6 279.5,806.4 279.9,807.3 280.2,806.7 280.5,806.7 280.9,806.4 281.2,807.8 281.6,807.2 281.9,807.7 282.3,807.0 282.6,807.1 282.9,809.4 283.3,807.7 283.6,808.2 284.0,807.0 284.3,808.1 284.7,809.6 285.0,808.4 285.3,807.8 285.7,808.0 286.0,808.3 286.4,808.0 286.7,806.4 287.0,809.2 287.4,807.9 287.7,809.4 288.1,807.5 288.4,809.0 288.8,810.5 289.1,807.5 289.4,807.6 289.8,810.1 290.1,810.4 290.5,812.0 290.8,808.1 291.2,806.5 291.5,811.4 291.8,809.3 292.2,810.7 292.5,808.1 292.9,809.7 293.2,809.9 293.5,810.1 293.9,809.1 294.2,811.3 294.6,811.0 294.9,809.6 295.3,810.7 295.6,812.0 295.9,810.9 296.3,811.5 296.6,810.1 297.0,808.4 297.3,811.7 297.6,811.6 298.0,808.9 298.3,811.2 298.7,810.9 299.0,809.5 299.4,810.2 299.7,810.7 300.0,810.8 300.4,809.2 300.7,813.2 301.1,810.8 301.4,812.0 301.8,812.1 302.1,813.1 302.4,813.2 302.8,812.1 303.1,812.8 303.5,811.0 303.8,812.6 304.1,810.5 304.5,812.5 304.8,811.4 305.2,814.1 305.5,812.4 305.9,813.8 306.2,813.5 306.5,811.9 306.9,812.6 307.2,813.0 307.6,812.3 307.9,814.9 308.3,813.1 308.6,811.0 308.9,814.0 309.3,813.7 309.6,813.7 310.0,815.6 310.3,816.2 310.6,813.8 311.0,815.0 311.3,814.5 311.7,814.8 312.0,813.3 312.4,813.1 312.7,814.7 313.0,815.7 313.4,816.3 313.7,812.8 314.1,816.0 314.4,814.7 314.7,816.5 315.1,815.8 315.4,814.3 315.8,814.4 316.1,817.1 316.5,814.7 316.8,816.1 317.1,816.9 317.5,816.5 317.8,816.1 318.2,816.2 318.5,814.4 318.9,817.5 319.2,815.2 319.5,814.8 319.9,817.1 320.2,814.2 320.6,815.0 320.9,814.4 321.2,816.4 321.6,816.1 321.9,818.2 322.3,813.4 322.6,814.0 323.0,813.9 323.3,814.3 323.6,817.7 324.0,816.0 324.3,816.6 324.7,816.2 325.0,814.2 325.4,817.2 325.7,814.7 326.0,817.2 326.4,816.1 326.7,815.1 327.1,816.7 327.4,815.7 327.7,814.3 328.1,816.6 328.4,817.2 328.8,817.0 329.1,813.8 329.5,813.8 329.8,815.6 330.1,815.6 330.5,815.0 330.8,815.6 331.2,815.2 331.5,815.7 331.8,814.2 332.2,816.2 332.5,815.7 332.9,815.1 333.2,814.2 333.6,816.7 333.9,814.2 334.2,814.9 334.6,817.1 334.9,816.2 335.3,815.6 335.6,816.7 336.0,817.4 336.3,816.4 336.6,814.1 337.0,813.2 337.3,814.1 337.7,814.0 338.0,816.5 338.3,814.9 338.7,815.0 339.0,817.4 339.4,815.4 339.7,816.3 340.1,815.6 340.4,816.1 340.7,814.5 341.1,815.6 341.4,813.8 341.8,816.8 342.1,817.1 342.5,816.4 342.8,815.7 343.1,816.5 343.5,817.1 343.8,815.9 344.2,815.1 344.5,815.0 344.8,816.5 345.2,816.2 345.5,815.2 345.9,815.0 346.2,816.2 346.6,816.6 346.9,815.9 347.2,816.2 347.6,817.1 347.9,815.1 348.3,815.8 348.6,816.4 348.9,816.1 349.3,815.5 349.6,814.8 350.0,817.0 350.3,816.9 350.7,816.7 351.0,817.3 351.3,815.8 351.7,816.5 352.0,816.7 352.4,815.8 352.7,817.8 353.1,815.4 353.4,817.5 353.7,815.7 354.1,815.4 354.4,815.9 354.8,816.3 355.1,816.4 355.4,815.2 355.8,817.0 356.1,817.0 356.5,817.0 356.8,814.3 357.2,815.1 357.5,815.0 357.8,816.5 358.2,815.5 358.5,815.3 358.9,816.2 359.2,814.9 359.6,815.3 359.9,816.8 360.2,817.4 360.6,814.4 360.9,816.9 361.3,816.5 361.6,814.7 361.9,814.0 362.3,816.4 362.6,817.3 363.0,814.1 363.3,814.6 363.7,816.6 364.0,815.8 364.3,818.3 364.7,817.0 365.0,816.6 365.4,815.4 365.7,816.6 366.0,816.7 366.4,817.8 366.7,817.4 367.1,818.0 367.4,816.0 367.8,816.1 368.1,815.2 368.4,815.4 368.8,816.8 369.1,816.2 369.5,818.0 369.8,816.7 370.2,816.0 370.5,814.7 370.8,815.7 371.2,817.0 371.5,816.3 371.9,817.0 372.2,815.0 372.5,818.3 372.9,816.7 373.2,818.4 373.6,814.4 373.9,816.4 374.3,815.6 374.6,817.0 374.9,816.9 375.3,816.5 375.6,816.9 376.0,817.3 376.3,816.8 376.7,818.1 377.0,815.6 377.3,817.5 377.7,817.6 378.0,817.7 378.4,816.4 378.7,816.0 379.0,817.0 379.4,816.4 379.7,816.4 380.1,817.7 380.4,816.1 380.8,818.1 381.1,816.3 381.4,815.4 381.8,818.0 382.1,817.7 382.5,816.4 382.8,818.6 383.1,818.9 383.5,815.8 383.8,816.2 384.2,817.8 384.5,818.5 384.9,817.9 385.2,817.5 385.5,817.9 385.9,816.5 386.2,816.7 386.6,818.6 386.9,817.1 387.3,817.6 387.6,816.8 387.9,817.7 388.3,818.2 388.6,817.1 389.0,816.7 389.3,817.7 389.6,817.6 390.0,817.4 390.3,819.7 390.7,817.6 391.0,817.4 391.4,815.3 391.7,818.3 392.0,817.2 392.4,817.3 392.7,818.2 393.1,819.0 393.4,816.7 393.8,819.1 394.1,818.6 394.4,816.6 394.8,815.6 395.1,816.2 395.5,817.4 395.8,817.2 396.1,817.3 396.5,817.1 396.8,816.6 397.2,816.8 397.5,818.4 397.9,817.8 398.2,817.8 398.5,818.5 398.9,818.1 399.2,818.3 399.6,818.8 399.9,818.8 400.2,816.9 400.6,818.4 400.9,818.2 401.3,816.8 401.6,817.0 402.0,818.5 402.3,817.2 402.6,817.5 403.0,818.0 403.3,816.6 403.7,818.6 404.0,817.7 404.4,818.0 404.7,818.0 405.0,818.4 405.4,817.7 405.7,818.2 406.1,819.1 406.4,819.5 406.7,818.8 407.1,816.9 407.4,818.5 407.8,818.6 408.1,820.1 408.5,819.4 408.8,819.4 409.1,818.6 409.5,819.3 409.8,817.6 410.2,817.5 410.5,817.4 410.9,819.1 411.2,817.7 411.5,818.4 411.9,818.4 412.2,818.0 412.6,819.0 412.9,818.7 413.2,818.5 413.6,817.1 413.9,818.4 414.3,818.2 414.6,817.8 415.0,818.9 415.3,816.8 415.6,819.0 416.0,820.5 416.3,817.3 416.7,818.6 417.0,819.0 417.3,819.6 417.7,820.1 418.0,816.8 418.4,818.6 418.7,819.1 419.1,819.0 419.4,819.6 419.7,816.7 420.1,819.9 420.4,821.2 420.8,819.4 421.1,818.6 421.5,819.7 421.8,820.3 422.1,817.9 422.5,817.5 422.8,819.7 423.2,817.1 423.5,819.7 423.8,816.6 424.2,818.5 424.5,819.7 424.9,818.9 425.2,818.9 425.6,820.1 425.9,817.9 426.2,819.2 426.6,821.2 426.9,816.8 427.3,819.0 427.6,819.5 428.0,819.5 428.3,820.1 428.6,819.1 429.0,819.2 429.3,819.4 429.7,818.7 430.0,818.1 430.3,819.1 430.7,819.3 431.0,819.3 431.4,820.8 431.7,818.2 432.1,820.7 432.4,818.8 432.7,818.5 433.1,819.0 433.4,819.1 433.8,819.6 434.1,820.4 434.4,819.3 434.8,819.2 435.1,820.1 435.5,818.5 435.8,818.2 436.2,819.9 436.5,817.9 436.8,820.3 437.2,819.2 437.5,818.2 437.9,818.7 438.2,819.3 438.6,818.2 438.9,818.6 439.2,818.5 439.6,819.4 439.9,818.0 440.3,818.5 440.6,819.0 440.9,819.5 441.3,818.5 441.6,818.2 442.0,818.2 442.3,820.6 442.7,818.7 443.0,820.2 443.3,819.8 443.7,820.5 444.0,819.0 444.4,819.6 444.7,818.5 445.1,818.0 445.4,818.8 445.7,819.4 446.1,819.4 446.4,820.7 446.8,819.7 447.1,818.9 447.4,818.2 447.8,821.1 448.1,818.7 448.5,818.9 448.8,820.0 449.2,818.9 449.5,820.0 449.8,820.8 450.2,820.9 450.5,817.2 450.9,821.3 451.2,819.9 451.5,818.4 451.9,818.9 452.2,820.1 452.6,819.9 452.9,819.9 453.3,818.1 453.6,820.5 453.9,820.5 454.3,818.1 454.6,819.0 455.0,818.1 455.3,820.4 455.7,819.0 456.0,819.2 456.3,818.8 456.7,819.6 457.0,820.2 457.4,819.4 457.7,819.5 458.0,820.1 458.4,819.2 458.7,819.8 459.1,819.3 459.4,820.3 459.8,819.1 460.1,818.7 460.4,818.4 460.8,818.3 461.1,819.2 461.5,820.1 461.8,819.7 462.2,819.8 462.5,818.8 462.8,819.5 463.2,820.8 463.5,818.5 463.9,819.6 464.2,820.2 464.5,818.2 464.9,819.3 465.2,819.4 465.6,818.2 465.9,819.2 466.3,819.6 466.6,818.5 466.9,820.8 467.3,819.7 467.6,818.5 468.0,818.7 468.3,820.0 468.6,819.8 469.0,819.2 469.3,820.4 469.7,819.4 470.0,818.9 470.4,819.6 470.7,818.5 471.0,818.4 471.4,818.7 471.7,818.2 472.1,819.7 472.4,819.5 472.8,817.9 473.1,820.4 473.4,820.2 473.8,819.5 474.1,819.7 474.5,819.6 474.8,821.2 475.1,818.9 475.5,820.9 475.8,821.0 476.2,819.3 476.5,820.4 476.9,818.6 477.2,818.6 477.5,818.9 477.9,819.7 478.2,820.2 478.6,819.3 478.9,820.7 479.3,819.9 479.6,820.4 479.9,820.9 480.3,820.7 480.6,819.6 481.0,820.9 481.3,820.1 481.6,819.5 482.0,818.9 482.3,819.5 482.7,818.9 483.0,819.8 483.4,818.6 483.7,821.5 484.0,818.4 484.4,818.9 484.7,819.6 485.1,821.1 485.4,819.3 485.7,820.5 486.1,819.7 486.4,819.7 486.8,819.7 487.1,820.4 487.5,819.2 487.8,820.6 488.1,818.6 488.5,821.0 488.8,819.3 489.2,820.3 489.5,821.2 489.9,819.0 490.2,820.5 490.5,817.6 490.9,819.7 491.2,818.4 491.6,820.7 491.9,821.6 492.2,819.3 492.6,818.5 492.9,821.4 493.3,818.3 493.6,821.3 494.0,819.2 494.3,819.5 494.6,818.5 495.0,820.2 495.3,819.6 495.7,819.4 496.0,820.5 496.4,820.6 496.7,821.8 497.0,820.9 497.4,819.6 497.7,821.0 498.1,820.6 498.4,819.3 498.7,819.6 499.1,819.1 499.4,820.2 499.8,819.5 500.1,818.5 500.5,819.8 500.8,820.3 501.1,821.1 501.5,819.8 501.8,820.9 502.2,820.5 502.5,820.0 502.8,820.3 503.2,819.0 503.5,819.7 503.9,820.3 504.2,820.5 504.6,820.2 504.9,820.9 505.2,820.2 505.6,820.0 505.9,821.1 506.3,821.1 506.6,820.2 507.0,819.3 507.3,821.0 507.6,818.5 508.0,820.5 508.3,821.0 508.7,820.6 509.0,818.8 509.3,820.6 509.7,818.7 510.0,818.2 510.4,819.4 510.7,819.8 511.1,818.9 511.4,820.0 511.7,820.8 512.1,819.3 512.4,819.8 512.8,819.5 513.1,821.0 513.5,818.7 513.8,820.9 514.1,820.7 514.5,819.0 514.8,820.1 515.2,819.1 515.5,820.0 515.8,819.9 516.2,819.7 516.5,819.4 516.9,821.5 517.2,819.8 517.6,820.2 517.9,820.7 518.2,819.7 518.6,818.8 518.9,820.6 519.3,820.5 519.6,819.0 519.9,818.6 520.3,819.0 520.6,820.5 521.0,820.7 521.3,818.6 521.7,820.9 522.0,820.7 522.3,818.7 522.7,819.5 523.0,819.9 523.4,822.0 523.7,821.8 524.1,820.7 524.4,819.5 524.7,819.8 525.1,819.4 525.4,820.7 525.8,819.3 526.1,821.4 526.4,820.5 526.8,821.2 527.1,818.1 527.5,819.6 527.8,820.3 528.2,821.2 528.5,819.9 528.8,820.2 529.2,821.4 529.5,820.9 529.9,818.8 530.2,819.7 530.6,819.9 530.9,821.5 531.2,820.7 531.6,820.9 531.9,820.4 532.3,819.2 532.6,821.0 532.9,819.6 533.3,820.2 533.6,820.9 534.0,822.3 534.3,820.4 534.7,820.6 535.0,818.2 535.3,819.2 535.7,818.7 536.0,819.8 536.4,821.4 536.7,821.3 537.0,819.9 537.4,820.5 537.7,821.2 538.1,819.5 538.4,819.0 538.8,819.4 539.1,821.2 539.4,818.3 539.8,819.4 540.1,820.5 540.5,819.9 540.8,820.2 541.2,820.4 541.5,819.2 541.8,821.7 542.2,820.7 542.5,821.9 542.9,818.6 543.2,822.1 543.5,819.4 543.9,821.1 544.2,820.6 544.6,819.7 544.9,819.4 545.3,819.1 545.6,819.5 545.9,820.4 546.3,820.4 546.6,821.1 547.0,820.5 547.3,819.6 547.7,821.4 548.0,820.9 548.3,819.7 548.7,819.6 549.0,819.1 549.4,820.8 549.7,821.6 550.0,819.2 550.4,821.8 550.7,820.1 551.1,820.2 551.4,822.6 551.8,820.5 552.1,819.5 552.4,821.2 552.8,818.8 553.1,821.5 553.5,820.1 553.8,820.1 554.1,820.0 554.5,820.4 554.8,820.6 555.2,821.5 555.5,819.9 555.9,821.2 556.2,821.0 556.5,818.9 556.9,820.2 557.2,821.5 557.6,820.3 557.9,821.7 558.3,819.9 558.6,821.1 558.9,822.2 559.3,821.3 559.6,821.6 560.0,820.5 560.3,821.2 560.6,820.1 561.0,819.2 561.3,821.3 561.7,819.4 562.0,819.6 562.4,820.6 562.7,820.7 563.0,820.9 563.4,821.6 563.7,820.5 564.1,820.7 564.4,818.8 564.8,820.2 565.1,820.5 565.4,819.8 565.8,820.6 566.1,820.9 566.5,818.7 566.8,819.8 567.1,820.9 567.5,821.5 567.8,819.4 568.2,820.6 568.5,820.6 568.9,820.0 569.2,821.6 569.5,820.0 569.9,820.5 570.2,821.0 570.6,820.4 570.9,821.8 571.2,821.7 571.6,821.5 571.9,820.5 572.3,821.3 572.6,821.1 573.0,822.1 573.3,820.0 573.6,821.7 574.0,819.8 574.3,821.3 574.7,821.3 575.0,818.5 575.4,821.2 575.7,821.1 576.0,820.6 576.4,821.2 576.7,820.7 577.1,819.8 577.4,821.3 577.7,820.6 578.1,820.3 578.4,820.2 578.8,819.8 579.1,822.4 579.5,822.0 579.8,819.5 580.1,821.5 580.5,821.0 580.8,819.7 581.2,821.3 581.5,821.4 581.9,822.7 582.2,821.0 582.5,821.2 582.9,821.8 583.2,821.8 583.6,820.7 583.9,821.3 584.2,821.3 584.6,820.8 584.9,821.2 585.3,821.4 585.6,821.4 586.0,820.2 586.3,820.6 586.6,821.9 587.0,821.6 587.3,820.3 587.7,821.9 588.0,822.2 588.3,821.5 588.7,819.7 589.0,821.1 589.4,821.6 589.7,821.1 590.1,821.3 590.4,821.4 590.7,822.1 591.1,820.1 591.4,821.2 591.8,821.0 592.1,820.6 592.5,820.7 592.8,820.2 593.1,820.9 593.5,822.2 593.8,821.6 594.2,819.9 594.5,821.2 594.8,821.6 595.2,821.0 595.5,821.5 595.9,821.0 596.2,820.7 596.6,821.8 596.9,820.1 597.2,820.3 597.6,821.4 597.9,821.4 598.3,819.8 598.6,820.0 599.0,821.6 599.3,820.3 599.6,821.4 600.0,819.9 600.3,821.4 600.7,821.6 601.0,822.1 601.3,820.8 601.7,821.8 602.0,821.0 602.4,821.2 602.7,820.9 603.1,822.2 603.4,820.1 603.7,820.9 604.1,822.3 604.4,820.5 604.8,821.0 605.1,820.1 605.4,821.5 605.8,821.9 606.1,820.5 606.5,821.7 606.8,820.4 607.2,819.5 607.5,822.8 607.8,820.6 608.2,820.9 608.5,821.5 608.9,821.4 609.2,819.8 609.6,820.7 609.9,820.2 610.2,821.2 610.6,821.0 610.9,821.2 611.3,820.6 611.6,820.6 611.9,820.6 612.3,820.7 612.6,821.1 613.0,819.8 613.3,820.3 613.7,821.3 614.0,822.6 614.3,822.1 614.7,821.5 615.0,821.9 615.4,821.3 615.7,821.8 616.1,820.7 616.4,821.3 616.7,821.2 617.1,819.4 617.4,820.8 617.8,820.4 618.1,820.9 618.4,821.1 618.8,822.0 619.1,822.8 619.5,820.7 619.8,820.7 620.2,820.7 620.5,822.0 620.8,819.5 621.2,821.9 621.5,820.4 621.9,822.3 622.2,820.7 622.5,822.5 622.9,820.4 623.2,820.6 623.6,822.7 623.9,820.7 624.3,821.9 624.6,821.0 624.9,820.6 625.3,820.5 625.6,821.0 626.0,822.8 626.3,823.1 626.7,820.2 627.0,822.0 627.3,822.0 627.7,822.4 628.0,821.1 628.4,821.7 628.7,821.2 629.0,821.8 629.4,819.7 629.7,821.0 630.1,821.3 630.4,822.8 630.8,822.4 631.1,821.0 631.4,821.1 631.8,821.3 632.1,821.1 632.5,822.2 632.8,823.0 633.2,820.5 633.5,821.2 633.8,820.8 634.2,823.0 634.5,822.7 634.9,821.7 635.2,822.3 635.5,823.1 635.9,823.1 636.2,822.3 636.6,821.8 636.9,822.6 637.3,821.7 637.6,821.3 637.8,829.1"/>
<line x1="143.8" y1="829.1" x2="143.8" y2="808.9" stroke="#999999" stroke-width="1.5"/>
<line x1="637.8" y1="829.1" x2="637.6" y2="821.3" stroke="#000000" stroke-width="1.5"/>
<polyline fill="none" stroke="#000000" stroke-width="2.8" stroke-linejoin="round" points="143.8,808.9 144.1,806.4 144.4,810.7 144.8,805.8 145.1,809.3 145.5,806.7 145.8,805.7 146.1,807.1 146.5,805.9 146.8,804.9 147.2,808.2 147.5,805.3 147.9,805.7 148.2,806.3 148.5,803.8 148.9,805.6 149.2,807.2 149.6,807.0 149.9,806.3 150.2,806.8 150.6,808.5 150.9,805.6 151.3,806.4 151.6,806.2 152.0,807.4 152.3,804.2 152.6,804.9 153.0,805.7 153.3,804.3 153.7,807.0 154.0,803.8 154.4,807.3 154.7,802.7 155.0,807.9 155.4,805.0 155.7,804.8 156.1,803.4 156.4,804.6 156.7,805.7 157.1,800.4 157.4,804.6 157.8,803.7 158.1,804.3 158.5,806.4 158.8,804.1 159.1,801.3 159.5,804.6 159.8,805.6 160.2,802.7 160.5,803.2 160.8,802.4 161.2,802.7 161.5,802.7 161.9,804.2 162.2,802.8 162.6,803.2 162.9,802.0 163.2,802.4 163.6,799.7 163.9,802.4 164.3,802.0 164.6,800.2 165.0,801.1 165.3,800.1 165.6,804.9 166.0,803.1 166.3,800.3 166.7,802.9 167.0,802.7 167.3,800.4 167.7,801.4 168.0,801.2 168.4,800.2 168.7,802.5 169.1,801.4 169.4,800.3 169.7,800.6 170.1,800.3 170.4,801.7 170.8,801.8 171.1,798.3 171.5,798.8 171.8,799.2 172.1,801.4 172.5,800.7 172.8,799.2 173.2,799.6 173.5,801.5 173.8,798.6 174.2,798.7 174.5,798.8 174.9,801.7 175.2,800.4 175.6,799.8 175.9,797.0 176.2,798.3 176.6,800.8 176.9,795.1 177.3,799.3 177.6,797.5 177.9,797.9 178.3,797.6 178.6,800.1 179.0,793.1 179.3,797.5 179.7,797.3 180.0,797.6 180.3,794.7 180.7,798.1 181.0,794.7 181.4,795.8 181.7,794.9 182.1,797.7 182.4,796.3 182.7,794.0 183.1,793.2 183.4,796.2 183.8,790.9 184.1,794.7 184.4,794.5 184.8,792.2 185.1,797.1 185.5,791.5 185.8,790.6 186.2,794.3 186.5,794.0 186.8,794.1 187.2,794.8 187.5,793.7 187.9,791.3 188.2,797.1 188.6,795.2 188.9,794.1 189.2,792.8 189.6,793.0 189.9,792.5 190.3,790.7 190.6,791.1 190.9,792.9 191.3,793.1 191.6,792.0 192.0,793.5 192.3,793.0 192.7,793.1 193.0,789.2 193.3,791.4 193.7,788.6 194.0,792.6 194.4,792.3 194.7,789.3 195.0,789.2 195.4,788.1 195.7,791.3 196.1,788.6 196.4,791.0 196.8,791.4 197.1,789.1 197.4,788.4 197.8,789.1 198.1,790.0 198.5,788.4 198.8,789.9 199.2,787.4 199.5,790.7 199.8,787.1 200.2,790.4 200.5,788.4 200.9,785.5 201.2,788.7 201.5,789.8 201.9,788.4 202.2,787.8 202.6,786.4 202.9,789.6 203.3,787.1 203.6,788.8 203.9,788.4 204.3,790.4 204.6,788.8 205.0,790.5 205.3,787.4 205.7,787.4 206.0,791.3 206.3,789.4 206.7,789.7 207.0,794.1 207.4,790.6 207.7,788.6 208.0,790.0 208.4,789.7 208.7,788.7 209.1,787.6 209.4,788.9 209.8,787.3 210.1,789.3 210.4,789.7 210.8,787.9 211.1,787.6 211.5,787.6 211.8,791.5 212.1,787.3 212.5,788.5 212.8,788.0 213.2,791.0 213.5,790.5 213.9,789.4 214.2,791.3 214.5,791.6 214.9,792.3 215.2,789.5 215.6,790.8 215.9,786.4 216.3,787.2 216.6,791.8 216.9,788.9 217.3,786.1 217.6,788.6 218.0,789.9 218.3,791.1 218.6,791.8 219.0,787.7 219.3,791.7 219.7,788.7 220.0,792.0 220.4,790.1 220.7,792.4 221.0,789.1 221.4,792.5 221.7,791.2 222.1,791.5 222.4,791.7 222.8,792.4 223.1,791.8 223.4,793.8 223.8,794.1 224.1,795.0 224.5,792.0 224.8,792.5 225.1,794.8 225.5,794.0 225.8,794.9 226.2,792.2 226.5,795.6 226.9,794.7 227.2,793.5 227.5,792.0 227.9,797.0 228.2,794.0 228.6,796.4 228.9,795.1 229.2,795.3 229.6,795.3 229.9,793.1 230.3,794.5 230.6,799.2 231.0,796.4 231.3,793.4 231.6,795.7 232.0,794.2 232.3,795.0 232.7,796.2 233.0,797.0 233.4,794.0 233.7,795.6 234.0,796.4 234.4,799.2 234.7,799.0 235.1,797.2 235.4,797.8 235.7,797.9 236.1,799.6 236.4,800.2 236.8,796.0 237.1,797.5 237.5,799.2 237.8,797.0 238.1,796.9 238.5,800.0 238.8,798.1 239.2,800.2 239.5,797.5 239.9,796.1 240.2,801.6 240.5,799.4 240.9,797.7 241.2,798.9 241.6,798.8 241.9,796.4 242.2,801.0 242.6,799.9 242.9,799.6 243.3,797.6 243.6,798.0 244.0,797.4 244.3,798.8 244.6,801.1 245.0,801.8 245.3,798.2 245.7,803.0 246.0,800.6 246.3,801.6 246.7,800.9 247.0,801.8 247.4,799.9 247.7,800.9 248.1,799.8 248.4,802.4 248.7,802.9 249.1,802.7 249.4,798.4 249.8,804.2 250.1,799.8 250.5,800.9 250.8,800.0 251.1,800.0 251.5,803.4 251.8,799.8 252.2,801.3 252.5,801.5 252.8,805.2 253.2,802.2 253.5,800.2 253.9,800.6 254.2,803.2 254.6,799.0 254.9,803.9 255.2,802.8 255.6,803.7 255.9,802.1 256.3,804.3 256.6,801.1 257.0,801.5 257.3,804.6 257.6,803.1 258.0,802.9 258.3,804.0 258.7,805.2 259.0,802.6 259.3,801.9 259.7,804.9 260.0,801.2 260.4,803.2 260.7,804.8 261.1,802.0 261.4,804.9 261.7,804.5 262.1,803.1 262.4,803.0 262.8,805.0 263.1,800.7 263.4,801.3 263.8,803.6 264.1,804.3 264.5,802.4 264.8,803.0 265.2,805.0 265.5,803.5 265.8,804.8 266.2,803.1 266.5,804.6 266.9,804.5 267.2,804.1 267.6,801.4 267.9,804.8 268.2,803.2 268.6,804.5 268.9,805.0 269.3,805.5 269.6,806.1 269.9,807.7 270.3,806.4 270.6,803.8 271.0,804.4 271.3,806.1 271.7,808.0 272.0,804.8 272.3,807.2 272.7,804.4 273.0,806.2 273.4,807.6 273.7,806.8 274.1,804.1 274.4,805.7 274.7,807.8 275.1,807.3 275.4,805.2 275.8,805.9 276.1,804.8 276.4,806.2 276.8,806.6 277.1,808.8 277.5,804.0 277.8,806.8 278.2,808.3 278.5,808.4 278.8,808.4 279.2,805.6 279.5,806.4 279.9,807.3 280.2,806.7 280.5,806.7 280.9,806.4 281.2,807.8 281.6,807.2 281.9,807.7 282.3,807.0 282.6,807.1 282.9,809.4 283.3,807.7 283.6,808.2 284.0,807.0 284.3,808.1 284.7,809.6 285.0,808.4 285.3,807.8 285.7,808.0 286.0,808.3 286.4,808.0 286.7,806.4 287.0,809.2 287.4,807.9 287.7,809.4 288.1,807.5 288.4,809.0 288.8,810.5 289.1,807.5 289.4,807.6 289.8,810.1 290.1,810.4 290.5,812.0 290.8,808.1 291.2,806.5 291.5,811.4 291.8,809.3 292.2,810.7 292.5,808.1 292.9,809.7 293.2,809.9 293.5,810.1 293.9,809.1 294.2,811.3 294.6,811.0 294.9,809.6 295.3,810.7 295.6,812.0 295.9,810.9 296.3,811.5 296.6,810.1 297.0,808.4 297.3,811.7 297.6,811.6 298.0,808.9 298.3,811.2 298.7,810.9 299.0,809.5 299.4,810.2 299.7,810.7 300.0,810.8 300.4,809.2 300.7,813.2 301.1,810.8 301.4,812.0 301.8,812.1 302.1,813.1 302.4,813.2 302.8,812.1 303.1,812.8 303.5,811.0 303.8,812.6 304.1,810.5 304.5,812.5 304.8,811.4 305.2,814.1 305.5,812.4 305.9,813.8 306.2,813.5 306.5,811.9 306.9,812.6 307.2,813.0 307.6,812.3 307.9,814.9 308.3,813.1 308.6,811.0 308.9,814.0 309.3,813.7 309.6,813.7 310.0,815.6 310.3,816.2 310.6,813.8 311.0,815.0 311.3,814.5 311.7,814.8 312.0,813.3 312.4,813.1 312.7,814.7 313.0,815.7 313.4,816.3 313.7,812.8 314.1,816.0 314.4,814.7 314.7,816.5 315.1,815.8 315.4,814.3 315.8,814.4 316.1,817.1 316.5,814.7 316.8,816.1 317.1,816.9 317.5,816.5 317.8,816.1 318.2,816.2 318.5,814.4 318.9,817.5 319.2,815.2 319.5,814.8 319.9,817.1 320.2,814.2 320.6,815.0 320.9,814.4 321.2,816.4 321.6,816.1 321.9,818.2 322.3,813.4 322.6,814.0 323.0,813.9 323.3,814.3 323.6,817.7 324.0,816.0 324.3,816.6 324.7,816.2 325.0,814.2 325.4,817.2 325.7,814.7 326.0,817.2 326.4,816.1 326.7,815.1 327.1,816.7 327.4,815.7 327.7,814.3 328.1,816.6 328.4,817.2 328.8,817.0 329.1,813.8 329.5,813.8 329.8,815.6 330.1,815.6 330.5,815.0 330.8,815.6 331.2,815.2 331.5,815.7 331.8,814.2 332.2,816.2 332.5,815.7 332.9,815.1 333.2,814.2 333.6,816.7 333.9,814.2 334.2,814.9 334.6,817.1 334.9,816.2 335.3,815.6 335.6,816.7 336.0,817.4 336.3,816.4 336.6,814.1 337.0,813.2 337.3,814.1 337.7,814.0 338.0,816.5 338.3,814.9 338.7,815.0 339.0,817.4 339.4,815.4 339.7,816.3 340.1,815.6 340.4,816.1 340.7,814.5 341.1,815.6 341.4,813.8 341.8,816.8 342.1,817.1 342.5,816.4 342.8,815.7 343.1,816.5 343.5,817.1 343.8,815.9 344.2,815.1 344.5,815.0 344.8,816.5 345.2,816.2 345.5,815.2 345.9,815.0 346.2,816.2 346.6,816.6 346.9,815.9 347.2,816.2 347.6,817.1 347.9,815.1 348.3,815.8 348.6,816.4 348.9,816.1 349.3,815.5 349.6,814.8 350.0,817.0 350.3,816.9 350.7,816.7 351.0,817.3 351.3,815.8 351.7,816.5 352.0,816.7 352.4,815.8 352.7,817.8 353.1,815.4 353.4,817.5 353.7,815.7 354.1,815.4 354.4,815.9 354.8,816.3 355.1,816.4 355.4,815.2 355.8,817.0 356.1,817.0 356.5,817.0 356.8,814.3 357.2,815.1 357.5,815.0 357.8,816.5 358.2,815.5 358.5,815.3 358.9,816.2 359.2,814.9 359.6,815.3 359.9,816.8 360.2,817.4 360.6,814.4 360.9,816.9 361.3,816.5 361.6,814.7 361.9,814.0 362.3,816.4 362.6,817.3 363.0,814.1 363.3,814.6 363.7,816.6 364.0,815.8 364.3,818.3 364.7,817.0 365.0,816.6 365.4,815.4 365.7,816.6 366.0,816.7 366.4,817.8 366.7,817.4 367.1,818.0 367.4,816.0 367.8,816.1 368.1,815.2 368.4,815.4 368.8,816.8 369.1,816.2 369.5,818.0 369.8,816.7 370.2,816.0 370.5,814.7 370.8,815.7 371.2,817.0 371.5,816.3 371.9,817.0 372.2,815.0 372.5,818.3 372.9,816.7 373.2,818.4 373.6,814.4 373.9,816.4 374.3,815.6 374.6,817.0 374.9,816.9 375.3,816.5 375.6,816.9 376.0,817.3 376.3,816.8 376.7,818.1 377.0,815.6 377.3,817.5 377.7,817.6 378.0,817.7 378.4,816.4 378.7,816.0 379.0,817.0 379.4,816.4 379.7,816.4 380.1,817.7 380.4,816.1 380.8,818.1 381.1,816.3 381.4,815.4 381.8,818.0 382.1,817.7 382.5,816.4 382.8,818.6 383.1,818.9 383.5,815.8 383.8,816.2 384.2,817.8 384.5,818.5 384.9,817.9 385.2,817.5 385.5,817.9 385.9,816.5 386.2,816.7 386.6,818.6 386.9,817.1 387.3,817.6 387.6,816.8 387.9,817.7 388.3,818.2 388.6,817.1 389.0,816.7 389.3,817.7 389.6,817.6 390.0,817.4 390.3,819.7 390.7,817.6 391.0,817.4 391.4,815.3 391.7,818.3 392.0,817.2 392.4,817.3 392.7,818.2 393.1,819.0 393.4,816.7 393.8,819.1 394.1,818.6 394.4,816.6 394.8,815.6 395.1,816.2 395.5,817.4 395.8,817.2 396.1,817.3 396.5,817.1 396.8,816.6 397.2,816.8 397.5,818.4 397.9,817.8 398.2,817.8 398.5,818.5 398.9,818.1 399.2,818.3 399.6,818.8 399.9,818.8 400.2,816.9 400.6,818.4 400.9,818.2 401.3,816.8 401.6,817.0 402.0,818.5 402.3,817.2 402.6,817.5 403.0,818.0 403.3,816.6 403.7,818.6 404.0,817.7 404.4,818.0 404.7,818.0 405.0,818.4 405.4,817.7 405.7,818.2 406.1,819.1 406.4,819.5 406.7,818.8 407.1,816.9 407.4,818.5 407.8,818.6 408.1,820.1 408.5,819.4 408.8,819.4 409.1,818.6 409.5,819.3 409.8,817.6 410.2,817.5 410.5,817.4 410.9,819.1 411.2,817.7 411.5,818.4 411.9,818.4 412.2,818.0 412.6,819.0 412.9,818.7 413.2,818.5 413.6,817.1 413.9,818.4 414.3,818.2 414.6,817.8 415.0,818.9 415.3,816.8 415.6,819.0 416.0,820.5 416.3,817.3 416.7,818.6 417.0,819.0 417.3,819.6 417.7,820.1 418.0,816.8 418.4,818.6 418.7,819.1 419.1,819.0 419.4,819.6 419.7,816.7 420.1,819.9 420.4,821.2 420.8,819.4 421.1,818.6 421.5,819.7 421.8,820.3 422.1,817.9 422.5,817.5 422.8,819.7 423.2,817.1 423.5,819.7 423.8,816.6 424.2,818.5 424.5,819.7 424.9,818.9 425.2,818.9 425.6,820.1 425.9,817.9 426.2,819.2 426.6,821.2 426.9,816.8 427.3,819.0 427.6,819.5 428.0,819.5 428.3,820.1 428.6,819.1 429.0,819.2 429.3,819.4 429.7,818.7 430.0,818.1 430.3,819.1 430.7,819.3 431.0,819.3 431.4,820.8 431.7,818.2 432.1,820.7 432.4,818.8 432.7,818.5 433.1,819.0 433.4,819.1 433.8,819.6 434.1,820.4 434.4,819.3 434.8,819.2 435.1,820.1 435.5,818.5 435.8,818.2 436.2,819.9 436.5,817.9 436.8,820.3 437.2,819.2 437.5,818.2 437.9,818.7 438.2,819.3 438.6,818.2 438.9,818.6 439.2,818.5 439.6,819.4 439.9,818.0 440.3,818.5 440.6,819.0 440.9,819.5 441.3,818.5 441.6,818.2 442.0,818.2 442.3,820.6 442.7,818.7 443.0,820.2 443.3,819.8 443.7,820.5 444.0,819.0 444.4,819.6 444.7,818.5 445.1,818.0 445.4,818.8 445.7,819.4 446.1,819.4 446.4,820.7 446.8,819.7 447.1,818.9 447.4,818.2 447.8,821.1 448.1,818.7 448.5,818.9 448.8,820.0 449.2,818.9 449.5,820.0 449.8,820.8 450.2,820.9 450.5,817.2 450.9,821.3 451.2,819.9 451.5,818.4 451.9,818.9 452.2,820.1 452.6,819.9 452.9,819.9 453.3,818.1 453.6,820.5 453.9,820.5 454.3,818.1 454.6,819.0 455.0,818.1 455.3,820.4 455.7,819.0 456.0,819.2 456.3,818.8 456.7,819.6 457.0,820.2 457.4,819.4 457.7,819.5 458.0,820.1 458.4,819.2 458.7,819.8 459.1,819.3 459.4,820.3 459.8,819.1 460.1,818.7 460.4,818.4 460.8,818.3 461.1,819.2 461.5,820.1 461.8,819.7 462.2,819.8 462.5,818.8 462.8,819.5 463.2,820.8 463.5,818.5 463.9,819.6 464.2,820.2 464.5,818.2 464.9,819.3 465.2,819.4 465.6,818.2 465.9,819.2 466.3,819.6 466.6,818.5 466.9,820.8 467.3,819.7 467.6,818.5 468.0,818.7 468.3,820.0 468.6,819.8 469.0,819.2 469.3,820.4 469.7,819.4 470.0,818.9 470.4,819.6 470.7,818.5 471.0,818.4 471.4,818.7 471.7,818.2 472.1,819.7 472.4,819.5 472.8,817.9 473.1,820.4 473.4,820.2 473.8,819.5 474.1,819.7 474.5,819.6 474.8,821.2 475.1,818.9 475.5,820.9 475.8,821.0 476.2,819.3 476.5,820.4 476.9,818.6 477.2,818.6 477.5,818.9 477.9,819.7 478.2,820.2 478.6,819.3 478.9,820.7 479.3,819.9 479.6,820.4 479.9,820.9 480.3,820.7 480.6,819.6 481.0,820.9 481.3,820.1 481.6,819.5 482.0,818.9 482.3,819.5 482.7,818.9 483.0,819.8 483.4,818.6 483.7,821.5 484.0,818.4 484.4,818.9 484.7,819.6 485.1,821.1 485.4,819.3 485.7,820.5 486.1,819.7 486.4,819.7 486.8,819.7 487.1,820.4 487.5,819.2 487.8,820.6 488.1,818.6 488.5,821.0 488.8,819.3 489.2,820.3 489.5,821.2 489.9,819.0 490.2,820.5 490.5,817.6 490.9,819.7 491.2,818.4 491.6,820.7 491.9,821.6 492.2,819.3 492.6,818.5 492.9,821.4 493.3,818.3 493.6,821.3 494.0,819.2 494.3,819.5 494.6,818.5 495.0,820.2 495.3,819.6 495.7,819.4 496.0,820.5 496.4,820.6 496.7,821.8 497.0,820.9 497.4,819.6 497.7,821.0 498.1,820.6 498.4,819.3 498.7,819.6 499.1,819.1 499.4,820.2 499.8,819.5 500.1,818.5 500.5,819.8 500.8,820.3 501.1,821.1 501.5,819.8 501.8,820.9 502.2,820.5 502.5,820.0 502.8,820.3 503.2,819.0 503.5,819.7 503.9,820.3 504.2,820.5 504.6,820.2 504.9,820.9 505.2,820.2 505.6,820.0 505.9,821.1 506.3,821.1 506.6,820.2 507.0,819.3 507.3,821.0 507.6,818.5 508.0,820.5 508.3,821.0 508.7,820.6 509.0,818.8 509.3,820.6 509.7,818.7 510.0,818.2 510.4,819.4 510.7,819.8 511.1,818.9 511.4,820.0 511.7,820.8 512.1,819.3 512.4,819.8 512.8,819.5 513.1,821.0 513.5,818.7 513.8,820.9 514.1,820.7 514.5,819.0 514.8,820.1 515.2,819.1 515.5,820.0 515.8,819.9 516.2,819.7 516.5,819.4 516.9,821.5 517.2,819.8 517.6,820.2 517.9,820.7 518.2,819.7 518.6,818.8 518.9,820.6 519.3,820.5 519.6,819.0 519.9,818.6 520.3,819.0 520.6,820.5 521.0,820.7 521.3,818.6 521.7,820.9 522.0,820.7 522.3,818.7 522.7,819.5 523.0,819.9 523.4,822.0 523.7,821.8 524.1,820.7 524.4,819.5 524.7,819.8 525.1,819.4 525.4,820.7 525.8,819.3 526.1,821.4 526.4,820.5 526.8,821.2 527.1,818.1 527.5,819.6 527.8,820.3 528.2,821.2 528.5,819.9 528.8,820.2 529.2,821.4 529.5,820.9 529.9,818.8 530.2,819.7 530.6,819.9 530.9,821.5 531.2,820.7 531.6,820.9 531.9,820.4 532.3,819.2 532.6,821.0 532.9,819.6 533.3,820.2 533.6,820.9 534.0,822.3 534.3,820.4 534.7,820.6 535.0,818.2 535.3,819.2 535.7,818.7 536.0,819.8 536.4,821.4 536.7,821.3 537.0,819.9 537.4,820.5 537.7,821.2 538.1,819.5 538.4,819.0 538.8,819.4 539.1,821.2 539.4,818.3 539.8,819.4 540.1,820.5 540.5,819.9 540.8,820.2 541.2,820.4 541.5,819.2 541.8,821.7 542.2,820.7 542.5,821.9 542.9,818.6 543.2,822.1 543.5,819.4 543.9,821.1 544.2,820.6 544.6,819.7 544.9,819.4 545.3,819.1 545.6,819.5 545.9,820.4 546.3,820.4 546.6,821.1 547.0,820.5 547.3,819.6 547.7,821.4 548.0,820.9 548.3,819.7 548.7,819.6 549.0,819.1 549.4,820.8 549.7,821.6 550.0,819.2 550.4,821.8 550.7,820.1 551.1,820.2 551.4,822.6 551.8,820.5 552.1,819.5 552.4,821.2 552.8,818.8 553.1,821.5 553.5,820.1 553.8,820.1 554.1,820.0 554.5,820.4 554.8,820.6 555.2,821.5 555.5,819.9 555.9,821.2 556.2,821.0 556.5,818.9 556.9,820.2 557.2,821.5 557.6,820.3 557.9,821.7 558.3,819.9 558.6,821.1 558.9,822.2 559.3,821.3 559.6,821.6 560.0,820.5 560.3,821.2 560.6,820.1 561.0,819.2 561.3,821.3 561.7,819.4 562.0,819.6 562.4,820.6 562.7,820.7 563.0,820.9 563.4,821.6 563.7,820.5 564.1,820.7 564.4,818.8 564.8,820.2 565.1,820.5 565.4,819.8 565.8,820.6 566.1,820.9 566.5,818.7 566.8,819.8 567.1,820.9 567.5,821.5 567.8,819.4 568.2,820.6 568.5,820.6 568.9,820.0 569.2,821.6 569.5,820.0 569.9,820.5 570.2,821.0 570.6,820.4 570.9,821.8 571.2,821.7 571.6,821.5 571.9,820.5 572.3,821.3 572.6,821.1 573.0,822.1 573.3,820.0 573.6,821.7 574.0,819.8 574.3,821.3 574.7,821.3 575.0,818.5 575.4,821.2 575.7,821.1 576.0,820.6 576.4,821.2 576.7,820.7 577.1,819.8 577.4,821.3 577.7,820.6 578.1,820.3 578.4,820.2 578.8,819.8 579.1,822.4 579.5,822.0 579.8,819.5 580.1,821.5 580.5,821.0 580.8,819.7 581.2,821.3 581.5,821.4 581.9,822.7 582.2,821.0 582.5,821.2 582.9,821.8 583.2,821.8 583.6,820.7 583.9,821.3 584.2,821.3 584.6,820.8 584.9,821.2 585.3,821.4 585.6,821.4 586.0,820.2 586.3,820.6 586.6,821.9 587.0,821.6 587.3,820.3 587.7,821.9 588.0,822.2 588.3,821.5 588.7,819.7 589.0,821.1 589.4,821.6 589.7,821.1 590.1,821.3 590.4,821.4 590.7,822.1 591.1,820.1 591.4,821.2 591.8,821.0 592.1,820.6 592.5,820.7 592.8,820.2 593.1,820.9 593.5,822.2 593.8,821.6 594.2,819.9 594.5,821.2 594.8,821.6 595.2,821.0 595.5,821.5 595.9,821.0 596.2,820.7 596.6,821.8 596.9,820.1 597.2,820.3 597.6,821.4 597.9,821.4 598.3,819.8 598.6,820.0 599.0,821.6 599.3,820.3 599.6,821.4 600.0,819.9 600.3,821.4 600.7,821.6 601.0,822.1 601.3,820.8 601.7,821.8 602.0,821.0 602.4,821.2 602.7,820.9 603.1,822.2 603.4,820.1 603.7,820.9 604.1,822.3 604.4,820.5 604.8,821.0 605.1,820.1 605.4,821.5 605.8,821.9 606.1,820.5 606.5,821.7 606.8,820.4 607.2,819.5 607.5,822.8 607.8,820.6 608.2,820.9 608.5,821.5 608.9,821.4 609.2,819.8 609.6,820.7 609.9,820.2 610.2,821.2 610.6,821.0 610.9,821.2 611.3,820.6 611.6,820.6 611.9,820.6 612.3,820.7 612.6,821.1 613.0,819.8 613.3,820.3 613.7,821.3 614.0,822.6 614.3,822.1 614.7,821.5 615.0,821.9 615.4,821.3 615.7,821.8 616.1,820.7 616.4,821.3 616.7,821.2 617.1,819.4 617.4,820.8 617.8,820.4 618.1,820.9 618.4,821.1 618.8,822.0 619.1,822.8 619.5,820.7 619.8,820.7 620.2,820.7 620.5,822.0 620.8,819.5 621.2,821.9 621.5,820.4 621.9,822.3 622.2,820.7 622.5,822.5 622.9,820.4 623.2,820.6 623.6,822.7 623.9,820.7 624.3,821.9 624.6,821.0 624.9,820.6 625.3,820.5 625.6,821.0 626.0,822.8 626.3,823.1 626.7,820.2 627.0,822.0 627.3,822.0 627.7,822.4 628.0,821.1 628.4,821.7 628.7,821.2 629.0,821.8 629.4,819.7 629.7,821.0 630.1,821.3 630.4,822.8 630.8,822.4 631.1,821.0 631.4,821.1 631.8,821.3 632.1,821.1 632.5,822.2 632.8,823.0 633.2,820.5 633.5,821.2 633.8,820.8 634.2,823.0 634.5,822.7 634.9,821.7 635.2,822.3 635.5,823.1 635.9,823.1 636.2,822.3 636.6,821.8 636.9,822.6 637.3,821.7 637.6,821.3"/>
<polygon fill="#fff" points="104.2,879.3 104.2,844.5 104.6,844.6 104.9,838.7 105.3,837.6 105.6,838.8 106.0,839.9 106.3,840.0 106.6,839.5 107.0,836.6 107.3,842.8 107.7,843.2 108.0,836.4 108.4,840.5 108.7,838.2 109.0,838.7 109.4,838.1 109.7,838.2 110.1,840.5 110.4,840.9 110.7,841.8 111.1,840.7 111.4,838.0 111.8,838.0 112.1,841.5 112.5,838.8 112.8,841.4 113.1,840.5 113.5,842.0 113.8,842.9 114.2,837.2 114.5,839.1 114.9,842.3 115.2,836.4 115.5,840.4 115.9,837.8 116.2,842.0 116.6,845.4 116.9,843.1 117.2,842.5 117.6,838.9 117.9,839.8 118.3,844.7 118.6,839.9 119.0,844.9 119.3,837.6 119.6,839.2 120.0,839.3 120.3,844.0 120.7,839.2 121.0,842.4 121.3,839.2 121.7,845.1 122.0,840.2 122.4,841.0 122.7,841.5 123.1,837.5 123.4,842.0 123.7,841.4 124.1,840.5 124.4,840.5 124.8,842.0 125.1,841.3 125.5,840.5 125.8,841.1 126.1,838.2 126.5,841.4 126.8,839.6 127.2,845.1 127.5,839.2 127.8,840.2 128.2,842.6 128.5,841.6 128.9,840.6 129.2,841.3 129.6,843.9 129.9,837.9 130.2,844.4 130.6,840.9 130.9,843.0 131.3,841.4 131.6,841.4 132.0,841.3 132.3,842.6 132.6,841.2 133.0,842.2 133.3,837.4 133.7,842.2 134.0,842.5 134.3,842.8 134.7,839.2 135.0,839.8 135.4,841.4 135.7,840.2 136.1,839.6 136.4,842.4 136.7,838.9 137.1,840.4 137.4,838.3 137.8,839.2 138.1,844.1 138.4,839.1 138.8,845.2 139.1,839.7 139.5,842.0 139.8,836.4 140.2,839.5 140.5,843.5 140.8,841.8 141.2,839.3 141.5,845.9 141.9,840.9 142.2,840.4 142.6,843.6 142.9,836.8 143.2,841.2 143.6,844.0 143.9,840.5 144.3,845.3 144.6,842.3 144.9,842.3 145.3,839.1 145.6,841.5 146.0,840.6 146.3,842.0 146.7,841.6 147.0,844.0 147.3,841.0 147.7,841.1 148.0,837.6 148.4,840.9 148.7,843.7 149.1,840.9 149.4,839.4 149.7,842.9 150.1,842.4 150.4,842.4 150.8,838.6 151.1,844.7 151.4,839.9 151.8,841.2 152.1,840.2 152.5,840.9 152.8,841.7 153.2,840.3 153.5,841.3 153.8,841.1 154.2,841.7 154.5,843.5 154.9,842.3 155.2,844.0 155.5,844.9 155.9,841.9 156.2,843.8 156.6,844.9 156.9,842.7 157.3,840.0 157.6,841.9 157.9,845.3 158.3,841.0 158.6,846.5 159.0,843.8 159.3,841.8 159.7,840.7 160.0,838.8 160.3,843.9 160.7,842.2 161.0,843.3 161.4,840.8 161.7,844.7 162.0,842.6 162.4,843.6 162.7,843.9 163.1,839.4 163.4,841.9 163.8,846.7 164.1,842.3 164.4,843.1 164.8,841.1 165.1,844.0 165.5,845.1 165.8,847.1 166.2,846.6 166.5,841.3 166.8,839.5 167.2,843.8 167.5,842.4 167.9,842.2 168.2,845.6 168.5,844.0 168.9,843.5 169.2,843.4 169.6,842.3 169.9,843.1 170.3,842.8 170.6,842.6 170.9,841.4 171.3,842.8 171.6,845.8 172.0,839.4 172.3,844.4 172.6,841.3 173.0,840.6 173.3,843.5 173.7,844.8 174.0,844.5 174.4,842.5 174.7,843.3 175.0,843.8 175.4,843.3 175.7,843.2 176.1,843.6 176.4,845.2 176.8,843.9 177.1,845.6 177.4,845.5 177.8,844.9 178.1,839.7 178.5,846.3 178.8,844.1 179.1,841.8 179.5,847.9 179.8,846.2 180.2,845.9 180.5,843.4 180.9,843.1 181.2,846.6 181.5,841.0 181.9,846.4 182.2,844.4 182.6,845.1 182.9,843.2 183.3,846.3 183.6,846.0 183.9,844.5 184.3,844.7 184.6,842.8 185.0,845.3 185.3,842.9 185.6,847.5 186.0,844.2 186.3,845.2 186.7,846.1 187.0,845.7 187.4,844.7 187.7,844.5 188.0,850.1 188.4,844.8 188.7,844.8 189.1,844.2 189.4,847.0 189.7,845.8 190.1,847.5 190.4,847.7 190.8,845.5 191.1,847.1 191.5,844.0 191.8,848.0 192.1,848.8 192.5,849.7 192.8,845.5 193.2,845.9 193.5,849.7 193.9,848.0 194.2,846.2 194.5,848.8 194.9,846.8 195.2,847.4 195.6,849.9 195.9,845.5 196.2,852.7 196.6,851.5 196.9,847.0 197.3,846.9 197.6,849.3 198.0,847.0 198.3,849.9 198.6,845.0 199.0,850.2 199.3,848.3 199.7,850.8 200.0,848.9 200.4,849.2 200.7,849.1 201.0,848.7 201.4,852.1 201.7,846.4 202.1,851.5 202.4,848.0 202.7,851.4 203.1,850.0 203.4,850.9 203.8,852.6 204.1,851.3 204.5,847.6 204.8,848.8 205.1,848.6 205.5,851.4 205.8,848.2 206.2,850.2 206.5,849.6 206.8,846.2 207.2,850.1 207.5,849.3 207.9,849.0 208.2,852.4 208.6,854.0 208.9,848.9 209.2,850.0 209.6,851.6 209.9,850.5 210.3,849.9 210.6,851.6 211.0,851.3 211.3,848.1 211.6,851.5 212.0,852.1 212.3,848.6 212.7,851.4 213.0,854.0 213.3,851.4 213.7,853.2 214.0,849.6 214.4,850.1 214.7,850.4 215.1,850.4 215.4,854.8 215.7,851.3 216.1,849.3 216.4,851.4 216.8,848.3 217.1,853.3 217.5,851.7 217.8,850.9 218.1,853.0 218.5,852.8 218.8,851.9 219.2,851.7 219.5,850.6 219.8,854.0 220.2,851.8 220.5,851.0 220.9,852.3 221.2,850.7 221.6,857.7 221.9,855.3 222.2,856.0 222.6,853.4 222.9,851.9 223.3,851.0 223.6,854.8 223.9,853.1 224.3,853.8 224.6,853.0 225.0,853.5 225.3,853.8 225.7,854.1 226.0,854.5 226.3,856.5 226.7,852.7 227.0,856.4 227.4,854.5 227.7,855.1 228.1,852.7 228.4,857.2 228.7,852.0 229.1,854.3 229.4,854.1 229.8,854.2 230.1,855.0 230.4,856.1 230.8,857.2 231.1,856.3 231.5,858.4 231.8,858.2 232.2,853.5 232.5,855.9 232.8,855.6 233.2,856.0 233.5,854.3 233.9,854.7 234.2,857.0 234.6,857.0 234.9,853.4 235.2,858.1 235.6,854.4 235.9,858.4 236.3,857.3 236.6,855.2 236.9,856.0 237.3,858.1 237.6,854.7 238.0,857.9 238.3,857.4 238.7,859.2 239.0,856.9 239.3,856.3 239.7,855.9 240.0,856.0 240.4,858.8 240.7,855.5 241.0,858.8 241.4,859.4 241.7,858.7 242.1,855.1 242.4,858.6 242.8,860.0 243.1,857.0 243.4,859.6 243.8,855.2 244.1,856.1 244.5,853.9 244.8,857.8 245.2,858.9 245.5,857.1 245.8,856.7 246.2,857.5 246.5,857.5 246.9,857.1 247.2,857.8 247.5,856.2 247.9,860.6 248.2,856.6 248.6,860.2 248.9,856.6 249.3,857.6 249.6,856.9 249.9,858.4 250.3,856.9 250.6,857.2 251.0,859.0 251.3,858.0 251.7,859.3 252.0,858.7 252.3,857.2 252.7,859.5 253.0,858.3 253.4,859.5 253.7,860.1 254.0,856.3 254.4,860.1 254.7,859.4 255.1,857.8 255.4,857.1 255.8,859.2 256.1,859.1 256.4,857.9 256.8,859.2 257.1,856.7 257.5,860.3 257.8,857.7 258.1,858.0 258.5,860.3 258.8,859.9 259.2,857.8 259.5,859.2 259.9,859.5 260.2,858.7 260.5,859.6 260.9,858.7 261.2,862.3 261.6,860.0 261.9,861.2 262.3,859.1 262.6,860.2 262.9,858.7 263.3,860.8 263.6,857.9 264.0,859.9 264.3,861.3 264.6,860.9 265.0,861.1 265.3,857.6 265.7,861.8 266.0,860.5 266.4,858.7 266.7,861.5 267.0,860.4 267.4,857.4 267.7,860.3 268.1,861.0 268.4,859.0 268.8,861.6 269.1,857.0 269.2,859.0 269.4,858.3 269.7,861.6 269.8,857.9 270.1,858.3 270.2,861.8 270.5,856.3 270.7,856.5 270.8,857.7 271.1,853.8 271.2,854.9 271.5,850.9 271.7,849.7 271.8,848.8 272.2,845.4 272.2,849.7 272.5,849.1 272.7,850.7 272.9,851.0 273.2,854.9 273.2,856.1 273.5,857.9 273.7,858.6 273.9,859.4 274.2,862.1 274.2,860.4 274.6,861.4 274.7,861.4 274.9,860.9 275.2,859.1 275.2,859.6 275.6,862.0 275.9,861.4 276.3,861.3 276.6,861.7 277.0,861.3 277.3,862.7 277.6,861.0 278.0,858.6 278.3,861.2 278.7,861.5 279.0,861.1 279.4,861.6 279.7,859.5 280.0,860.2 280.4,862.8 280.7,861.4 281.1,863.4 281.4,862.9 281.7,863.8 282.1,862.6 282.4,860.9 282.8,862.8 283.1,861.1 283.5,861.4 283.8,862.8 284.1,859.6 284.5,864.6 284.8,863.7 285.2,860.7 285.5,865.1 285.9,861.4 286.2,860.6 286.5,864.6 286.9,863.2 287.2,863.1 287.6,860.8 287.9,862.8 288.2,862.3 288.6,860.5 288.9,861.9 289.3,861.4 289.6,861.6 290.0,863.4 290.3,861.6 290.6,862.1 291.0,863.9 291.3,862.5 291.7,863.9 292.0,861.6 292.3,864.8 292.7,863.2 293.0,861.5 293.4,864.6 293.7,862.5 294.1,866.2 294.4,861.4 294.7,863.4 295.1,864.5 295.4,863.4 295.8,864.1 296.1,862.6 296.5,865.3 296.8,864.2 297.1,863.5 297.5,862.4 297.8,861.4 298.2,862.3 298.5,863.7 298.8,862.8 299.2,864.0 299.5,862.0 299.9,863.3 300.2,864.1 300.6,863.8 300.9,864.4 301.2,864.8 301.6,864.6 301.9,863.0 302.3,865.3 302.6,864.2 303.0,862.7 303.3,863.6 303.6,862.8 304.0,863.3 304.3,864.1 304.7,863.5 305.0,862.5 305.3,861.6 305.7,861.8 306.0,863.1 306.4,860.0 306.7,861.3 307.1,862.5 307.4,863.2 307.7,863.1 308.1,863.9 308.4,862.2 308.8,863.6 309.1,865.2 309.4,864.1 309.8,864.1 310.1,864.8 310.5,866.8 310.8,859.8 311.2,860.1 311.5,860.6 311.8,861.7 312.2,861.1 312.5,861.2 312.9,860.9 313.2,860.5 313.6,863.4 313.9,862.0 314.2,861.0 314.6,861.4 314.9,859.4 315.2,858.5 315.3,857.8 315.6,859.3 315.7,856.1 315.9,852.8 316.1,850.7 316.3,843.6 316.5,834.5 316.6,825.2 316.9,793.2 317.0,792.1 317.3,747.2 317.4,739.5 317.7,715.2 317.8,709.4 318.0,715.3 318.2,736.9 318.3,749.1 318.7,792.5 318.7,795.9 319.0,830.3 319.1,833.2 319.4,846.1 319.5,850.2 319.7,853.3 320.0,856.7 320.1,858.7 320.4,860.1 320.4,859.6 320.7,857.9 321.1,860.7 321.4,860.5 321.8,862.8 322.1,862.1 322.4,861.1 322.8,862.5 323.1,862.0 323.5,862.5 323.8,862.2 324.2,861.5 324.5,862.9 324.8,864.6 325.2,864.3 325.5,865.6 325.9,865.9 326.2,865.0 326.5,865.1 326.9,864.1 327.2,865.7 327.6,864.9 327.9,865.1 328.3,868.1 328.6,864.8 328.9,866.0 329.3,865.5 329.6,864.4 330.0,863.1 330.3,863.0 330.7,867.8 331.0,865.5 331.3,864.8 331.7,865.4 332.0,862.8 332.4,864.1 332.7,864.3 333.0,866.8 333.4,862.8 333.7,865.4 334.1,867.6 334.4,865.8 334.8,865.2 335.1,864.1 335.4,866.5 335.8,866.7 336.1,865.6 336.5,866.4 336.8,867.1 337.2,866.4 337.5,864.2 337.8,864.9 338.2,864.8 338.5,866.6 338.9,866.1 339.2,865.9 339.5,863.1 339.9,866.6 340.2,865.6 340.6,864.6 340.9,867.8 341.3,864.2 341.6,866.6 341.9,866.2 342.3,863.5 342.6,865.5 343.0,865.8 343.3,865.8 343.6,865.0 344.0,863.8 344.3,867.5 344.7,864.9 345.0,864.5 345.4,866.0 345.7,864.7 346.0,864.6 346.4,865.0 346.7,864.8 347.1,865.7 347.4,865.6 347.8,867.0 348.1,865.1 348.4,867.0 348.8,866.3 349.1,865.4 349.5,863.5 349.8,864.2 350.1,863.8 350.5,867.0 350.8,865.3 351.2,865.9 351.5,865.1 351.9,864.3 352.2,865.8 352.5,864.7 352.9,864.6 353.2,867.1 353.6,865.7 353.9,865.0 354.3,865.3 354.6,865.6 354.9,864.9 355.3,866.4 355.6,866.2 356.0,867.2 356.3,868.0 356.6,866.1 357.0,865.7 357.3,867.8 357.7,868.6 358.0,866.7 358.4,866.8 358.7,867.6 359.0,866.8 359.4,866.1 359.7,865.9 360.1,866.9 360.4,869.1 360.7,867.2 361.1,866.7 361.4,866.3 361.8,867.1 362.1,865.0 362.5,869.5 362.8,870.1 363.1,866.9 363.5,865.3 363.8,867.3 364.2,868.1 364.5,867.4 364.9,866.6 365.2,866.8 365.5,866.1 365.9,866.9 366.2,866.9 366.6,867.8 366.9,866.9 367.2,866.5 367.6,866.6 367.9,867.2 368.3,865.6 368.6,866.7 369.0,866.7 369.3,865.8 369.6,866.1 370.0,865.6 370.3,867.1 370.7,867.4 371.0,867.2 371.4,868.8 371.7,868.7 372.0,864.8 372.4,866.6 372.7,867.6 373.1,869.0 373.4,867.1 373.7,868.9 374.1,865.5 374.4,867.3 374.8,868.4 375.1,867.0 375.5,867.1 375.8,867.7 376.1,865.9 376.5,865.7 376.8,868.1 377.2,867.7 377.5,867.7 377.8,866.5 378.2,866.2 378.5,868.7 378.9,865.6 379.2,867.7 379.6,865.8 379.9,867.0 380.2,867.7 380.6,869.4 380.9,870.0 381.3,869.7 381.6,868.2 382.0,866.3 382.3,866.9 382.6,868.8 383.0,867.8 383.3,869.8 383.7,866.0 384.0,867.8 384.3,868.8 384.7,866.9 385.0,866.0 385.4,870.0 385.7,867.9 386.1,868.1 386.4,867.4 386.7,867.1 387.1,867.2 387.4,867.8 387.8,866.8 388.1,869.4 388.5,867.9 388.8,866.7 389.1,868.4 389.5,868.9 389.8,869.8 390.2,865.2 390.5,868.3 390.8,868.9 391.2,869.2 391.5,867.6 391.9,868.4 392.2,867.1 392.6,868.4 392.9,866.3 393.2,868.5 393.6,869.4 393.9,868.1 394.3,868.6 394.6,868.5 394.9,867.4 395.3,869.4 395.6,868.3 396.0,869.3 396.3,867.3 396.7,869.3 397.0,868.7 397.3,868.5 397.7,867.5 398.0,868.1 398.4,868.1 398.7,868.2 399.1,869.1 399.4,869.7 399.7,868.8 400.1,867.3 400.4,866.9 400.8,870.0 401.1,866.4 401.4,867.5 401.8,869.5 402.1,868.1 402.5,868.3 402.8,869.5 403.2,868.1 403.5,869.2 403.8,867.9 404.2,868.4 404.5,868.7 404.9,870.5 405.2,869.3 405.6,869.7 405.9,867.7 406.2,868.8 406.6,868.4 406.9,868.0 407.3,866.7 407.6,869.3 407.9,870.0 408.3,867.5 408.6,870.2 409.0,867.6 409.3,869.4 409.7,867.9 410.0,868.8 410.3,867.5 410.7,867.7 411.0,868.7 411.4,867.8 411.7,867.2 412.0,867.5 412.4,868.9 412.7,868.0 413.1,866.8 413.4,868.2 413.8,867.9 414.1,869.7 414.4,867.3 414.8,866.9 415.1,868.7 415.5,867.8 415.8,868.9 416.2,867.4 416.5,866.1 416.8,870.3 417.2,868.8 417.5,867.2 417.9,866.7 418.2,865.6 418.5,870.1 418.9,868.6 419.2,867.9 419.6,868.6 419.9,867.1 420.3,866.4 420.6,867.2 420.9,867.3 421.3,870.4 421.6,868.2 422.0,868.7 422.3,869.6 422.7,868.6 423.0,866.9 423.3,869.3 423.7,867.9 424.0,867.5 424.4,868.8 424.7,867.2 425.0,869.4 425.4,868.0 425.7,867.0 426.1,868.1 426.4,867.6 426.8,868.7 427.1,868.5 427.4,868.4 427.8,868.7 428.1,868.2 428.5,869.3 428.8,867.6 429.1,867.9 429.5,867.8 429.8,867.1 430.2,869.6 430.5,869.8 430.9,866.6 431.2,868.8 431.5,868.9 431.9,867.9 432.2,869.0 432.6,868.6 432.9,868.5 433.3,868.8 433.6,867.9 433.9,866.9 434.3,870.3 434.6,869.8 435.0,865.8 435.3,867.4 435.6,868.7 436.0,868.7 436.3,870.0 436.7,868.6 437.0,866.5 437.4,870.6 437.7,866.9 438.0,867.7 438.4,869.1 438.7,870.2 439.1,867.4 439.4,869.4 439.8,867.6 440.1,868.7 440.4,868.2 440.8,866.5 441.1,866.9 441.5,867.8 441.8,867.1 442.1,869.7 442.5,867.2 442.8,867.5 443.2,870.4 443.5,866.7 443.9,867.2 444.2,867.4 444.5,868.7 444.9,868.3 445.2,868.9 445.6,870.0 445.9,869.5 446.2,870.3 446.6,866.7 446.9,868.5 447.3,868.5 447.6,869.4 448.0,868.2 448.3,868.3 448.6,867.1 449.0,868.9 449.3,869.6 449.7,869.2 450.0,869.0 450.4,868.4 450.7,869.5 451.0,870.6 451.4,866.5 451.7,866.8 452.1,867.7 452.4,868.3 452.7,869.5 453.1,870.4 453.4,868.8 453.8,870.1 454.1,870.4 454.5,869.6 454.8,869.9 455.1,867.4 455.5,868.8 455.8,868.7 456.2,869.4 456.5,869.9 456.9,869.3 457.2,869.8 457.5,869.0 457.9,869.4 458.2,869.1 458.6,867.2 458.9,869.9 459.2,867.6 459.6,868.4 459.9,870.1 460.3,868.4 460.6,867.5 461.0,867.7 461.3,868.5 461.6,868.0 462.0,868.0 462.3,865.4 462.7,867.2 462.7,864.6 463.0,864.4 463.1,864.2 463.3,862.6 463.5,862.2 463.7,861.1 464.0,854.3 464.0,849.9 464.4,837.4 464.4,835.3 464.7,816.4 464.8,809.8 465.1,799.7 465.2,797.9 465.4,799.0 465.7,808.9 465.7,815.8 466.1,833.5 466.1,834.7 466.4,849.5 466.5,852.9 466.8,860.4 467.0,863.0 467.1,865.5 467.4,865.4 467.5,865.4 467.8,869.0 467.8,865.9 468.1,866.7 468.5,868.0 468.8,869.1 469.2,869.5 469.5,868.5 469.8,870.1 470.2,870.8 470.5,868.3 470.9,868.3 471.2,869.5 471.6,870.0 471.9,871.2 472.2,868.0 472.6,870.9 472.9,867.7 473.3,870.6 473.6,870.7 474.0,869.5 474.3,868.6 474.6,868.9 475.0,870.2 475.3,870.8 475.7,871.0 476.0,868.8 476.3,869.5 476.7,869.4 477.0,870.4 477.4,871.1 477.7,870.2 478.1,871.2 478.4,869.2 478.7,868.3 479.1,870.9 479.4,870.5 479.8,872.4 480.1,869.7 480.4,869.3 480.8,871.2 481.1,870.8 481.5,870.0 481.8,869.1 482.2,869.7 482.5,870.8 482.8,867.9 483.2,871.2 483.5,871.0 483.9,867.9 484.2,869.6 484.6,870.3 484.9,869.0 485.2,868.9 485.6,870.3 485.9,869.5 486.3,871.1 486.6,870.0 486.9,871.1 487.3,870.7 487.6,871.5 488.0,869.2 488.3,870.6 488.7,870.3 489.0,868.7 489.3,871.0 489.7,871.2 490.0,869.9 490.4,870.3 490.7,869.7 491.1,868.0 491.4,870.6 491.7,869.1 492.1,869.5 492.4,870.4 492.8,868.7 493.1,869.8 493.4,868.8 493.8,869.0 494.1,870.2 494.3,871.6 494.5,868.1 494.8,868.8 494.9,869.9 495.2,870.5 495.5,868.5 495.5,870.7 495.8,869.6 496.1,870.5 496.2,870.2 496.5,870.3 496.7,869.4 496.9,870.2 497.2,869.1 497.3,866.5 497.5,866.1 497.9,866.8 497.9,865.4 498.2,866.7 498.5,865.8 498.6,867.3 498.9,869.4 499.1,868.1 499.3,869.0 499.6,870.3 499.8,870.1 499.9,870.0 500.3,870.8 500.4,870.3 500.6,869.2 501.0,869.6 501.0,869.8 501.3,870.6 501.6,869.2 501.7,871.5 502.0,871.2 502.3,871.5 502.7,872.8 503.0,872.7 503.4,868.9 503.7,870.6 504.0,871.0 504.4,869.3 504.7,871.7 505.1,869.0 505.4,868.7 505.8,869.6 506.1,869.7 506.4,869.4 506.8,870.9 507.1,869.8 507.5,870.3 507.8,870.4 508.2,871.5 508.5,867.7 508.8,871.6 509.2,870.5 509.5,871.7 509.9,870.6 510.2,869.6 510.5,869.6 510.9,871.4 511.2,872.0 511.6,871.4 511.9,869.3 512.3,869.0 512.6,870.3 512.9,868.2 513.3,870.0 513.6,870.7 514.0,870.5 514.3,869.9 514.6,873.3 515.0,869.6 515.3,869.3 515.7,871.0 516.0,868.6 516.4,871.0 516.7,871.1 517.0,870.3 517.4,871.5 517.7,868.4 518.1,868.8 518.4,872.1 518.8,870.7 519.1,871.7 519.4,869.7 519.8,871.1 520.1,870.7 520.5,869.5 520.8,869.5 521.1,871.0 521.5,871.2 521.8,872.8 522.2,869.0 522.5,870.4 522.9,871.1 523.2,871.2 523.5,871.2 523.9,871.9 524.2,870.9 524.6,869.1 524.9,869.9 525.3,870.1 525.6,869.9 525.9,871.7 526.3,871.0 526.6,870.6 527.0,869.4 527.3,869.1 527.6,869.4 528.0,870.3 528.3,870.7 528.7,870.1 529.0,871.8 529.4,871.1 529.7,870.4 530.0,870.4 530.4,873.1 530.7,869.4 531.1,872.3 531.4,871.3 531.7,870.0 532.1,871.6 532.4,870.2 532.8,871.1 533.1,872.0 533.5,870.3 533.8,871.0 534.1,871.7 534.5,871.8 534.8,870.0 535.2,870.1 535.5,871.4 535.9,870.4 536.2,871.7 536.5,870.3 536.9,871.8 537.2,871.9 537.6,869.2 537.9,871.0 538.2,869.9 538.6,871.4 538.9,871.6 539.3,868.9 539.6,869.6 540.0,870.8 540.3,872.9 540.6,870.6 541.0,871.0 541.3,869.7 541.7,870.2 542.0,871.6 542.4,871.2 542.7,871.8 543.0,872.8 543.4,871.0 543.7,871.0 544.1,868.9 544.4,871.3 544.7,871.7 545.1,868.8 545.4,870.8 545.8,870.7 546.1,871.2 546.5,869.9 546.8,871.3 547.1,870.5 547.5,870.7 547.8,871.0 548.2,870.2 548.5,872.3 548.8,870.5 549.2,870.3 549.5,871.3 549.9,872.1 550.2,871.2 550.6,869.7 550.9,870.2 551.2,871.2 551.6,870.8 551.9,872.1 552.3,871.8 552.6,871.5 553.0,870.5 553.3,870.0 553.6,869.9 554.0,871.3 554.3,870.3 554.7,870.5 555.0,869.9 555.3,872.1 555.7,869.9 555.7,872.2 556.0,869.1 556.2,871.5 556.4,871.2 556.7,870.0 556.7,869.5 557.1,870.3 557.2,870.9 557.4,868.0 557.7,866.5 557.7,866.5 558.1,865.1 558.2,863.2 558.4,860.9 558.7,860.9 558.8,861.8 559.1,862.8 559.2,863.6 559.5,862.7 559.7,867.1 559.8,868.2 560.1,868.4 560.2,869.6 560.5,870.7 560.8,869.4 560.8,872.3 561.2,870.9 561.3,870.2 561.5,871.9 561.8,872.3 561.8,871.0 562.2,870.5 562.5,871.2 562.9,872.7 563.2,870.5 563.6,873.2 563.9,872.7 564.2,870.5 564.6,871.1 564.9,870.5 565.3,871.6 565.6,871.8 565.9,871.7 566.3,871.1 566.6,872.5 567.0,870.5 567.3,871.0 567.7,869.7 568.0,871.2 568.3,873.4 568.7,872.6 569.0,871.5 569.4,870.2 569.7,872.5 570.1,869.8 570.4,871.1 570.7,872.8 571.1,871.1 571.4,871.5 571.8,871.8 572.1,871.5 572.4,872.3 572.8,872.9 573.1,872.9 573.5,872.3 573.8,872.7 574.2,870.5 574.5,871.4 574.8,869.8 575.2,870.8 575.5,871.7 575.9,871.5 576.2,871.6 576.6,871.2 576.9,871.9 577.2,871.1 577.6,869.3 577.9,872.0 578.3,870.4 578.6,872.5 578.9,870.5 579.3,871.6 579.6,871.6 580.0,870.5 580.3,871.6 580.7,872.7 581.0,869.6 581.3,872.3 581.7,870.1 582.0,872.0 582.4,870.5 582.7,871.0 583.0,871.7 583.4,871.2 583.7,871.0 584.1,871.4 584.4,870.6 584.8,871.7 585.1,870.1 585.4,870.1 585.8,870.4 586.1,870.5 586.1,869.8 586.5,871.6 586.6,872.3 586.8,870.0 587.1,872.1 587.2,868.8 587.5,869.1 587.6,867.5 587.8,865.1 588.1,862.7 588.2,860.5 588.5,856.9 588.6,854.3 588.9,851.1 589.1,850.2 589.2,849.2 589.5,853.2 589.6,855.2 589.9,858.7 590.1,862.2 590.2,861.8 590.6,867.2 590.6,867.5 590.9,869.4 591.2,869.3 591.3,870.5 591.6,870.1 591.7,872.1 591.9,871.6 592.2,872.4 592.3,871.1 592.6,873.0 593.0,871.2 593.3,871.8 593.7,872.4 594.0,871.5 594.3,871.6 594.7,870.7 595.0,872.3 595.4,872.3 595.7,872.1 596.0,870.7 596.4,870.0 596.7,873.6 597.1,871.3 597.4,871.9 597.8,871.7 598.1,871.8 598.2,879.3"/>
<line x1="104.2" y1="879.3" x2="104.2" y2="844.5" stroke="#ff8080" stroke-width="1.5"/>
<line x1="598.2" y1="879.3" x2="598.1" y2="871.8" stroke="#ff0000" stroke-width="1.5"/>
<polyline fill="none" stroke="#ff0000" stroke-width="2.8" stroke-linejoin="round" points="104.2,844.5 104.6,844.6 104.9,838.7 105.3,837.6 105.6,838.8 106.0,839.9 106.3,840.0 106.6,839.5 107.0,836.6 107.3,842.8 107.7,843.2 108.0,836.4 108.4,840.5 108.7,838.2 109.0,838.7 109.4,838.1 109.7,838.2 110.1,840.5 110.4,840.9 110.7,841.8 111.1,840.7 111.4,838.0 111.8,838.0 112.1,841.5 112.5,838.8 112.8,841.4 113.1,840.5 113.5,842.0 113.8,842.9 114.2,837.2 114.5,839.1 114.9,842.3 115.2,836.4 115.5,840.4 115.9,837.8 116.2,842.0 116.6,845.4 116.9,843.1 117.2,842.5 117.6,838.9 117.9,839.8 118.3,844.7 118.6,839.9 119.0,844.9 119.3,837.6 119.6,839.2 120.0,839.3 120.3,844.0 120.7,839.2 121.0,842.4 121.3,839.2 121.7,845.1 122.0,840.2 122.4,841.0 122.7,841.5 123.1,837.5 123.4,842.0 123.7,841.4 124.1,840.5 124.4,840.5 124.8,842.0 125.1,841.3 125.5,840.5 125.8,841.1 126.1,838.2 126.5,841.4 126.8,839.6 127.2,845.1 127.5,839.2 127.8,840.2 128.2,842.6 128.5,841.6 128.9,840.6 129.2,841.3 129.6,843.9 129.9,837.9 130.2,844.4 130.6,840.9 130.9,843.0 131.3,841.4 131.6,841.4 132.0,841.3 132.3,842.6 132.6,841.2 133.0,842.2 133.3,837.4 133.7,842.2 134.0,842.5 134.3,842.8 134.7,839.2 135.0,839.8 135.4,841.4 135.7,840.2 136.1,839.6 136.4,842.4 136.7,838.9 137.1,840.4 137.4,838.3 137.8,839.2 138.1,844.1 138.4,839.1 138.8,845.2 139.1,839.7 139.5,842.0 139.8,836.4 140.2,839.5 140.5,843.5 140.8,841.8 141.2,839.3 141.5,845.9 141.9,840.9 142.2,840.4 142.6,843.6 142.9,836.8 143.2,841.2 143.6,844.0 143.9,840.5 144.3,845.3 144.6,842.3 144.9,842.3 145.3,839.1 145.6,841.5 146.0,840.6 146.3,842.0 146.7,841.6 147.0,844.0 147.3,841.0 147.7,841.1 148.0,837.6 148.4,840.9 148.7,843.7 149.1,840.9 149.4,839.4 149.7,842.9 150.1,842.4 150.4,842.4 150.8,838.6 151.1,844.7 151.4,839.9 151.8,841.2 152.1,840.2 152.5,840.9 152.8,841.7 153.2,840.3 153.5,841.3 153.8,841.1 154.2,841.7 154.5,843.5 154.9,842.3 155.2,844.0 155.5,844.9 155.9,841.9 156.2,843.8 156.6,844.9 156.9,842.7 157.3,840.0 157.6,841.9 157.9,845.3 158.3,841.0 158.6,846.5 159.0,843.8 159.3,841.8 159.7,840.7 160.0,838.8 160.3,843.9 160.7,842.2 161.0,843.3 161.4,840.8 161.7,844.7 162.0,842.6 162.4,843.6 162.7,843.9 163.1,839.4 163.4,841.9 163.8,846.7 164.1,842.3 164.4,843.1 164.8,841.1 165.1,844.0 165.5,845.1 165.8,847.1 166.2,846.6 166.5,841.3 166.8,839.5 167.2,843.8 167.5,842.4 167.9,842.2 168.2,845.6 168.5,844.0 168.9,843.5 169.2,843.4 169.6,842.3 169.9,843.1 170.3,842.8 170.6,842.6 170.9,841.4 171.3,842.8 171.6,845.8 172.0,839.4 172.3,844.4 172.6,841.3 173.0,840.6 173.3,843.5 173.7,844.8 174.0,844.5 174.4,842.5 174.7,843.3 175.0,843.8 175.4,843.3 175.7,843.2 176.1,843.6 176.4,845.2 176.8,843.9 177.1,845.6 177.4,845.5 177.8,844.9 178.1,839.7 178.5,846.3 178.8,844.1 179.1,841.8 179.5,847.9 179.8,846.2 180.2,845.9 180.5,843.4 180.9,843.1 181.2,846.6 181.5,841.0 181.9,846.4 182.2,844.4 182.6,845.1 182.9,843.2 183.3,846.3 183.6,846.0 183.9,844.5 184.3,844.7 184.6,842.8 185.0,845.3 185.3,842.9 185.6,847.5 186.0,844.2 186.3,845.2 186.7,846.1 187.0,845.7 187.4,844.7 187.7,844.5 188.0,850.1 188.4,844.8 188.7,844.8 189.1,844.2 189.4,847.0 189.7,845.8 190.1,847.5 190.4,847.7 190.8,845.5 191.1,847.1 191.5,844.0 191.8,848.0 192.1,848.8 192.5,849.7 192.8,845.5 193.2,845.9 193.5,849.7 193.9,848.0 194.2,846.2 194.5,848.8 194.9,846.8 195.2,847.4 195.6,849.9 195.9,845.5 196.2,852.7 196.6,851.5 196.9,847.0 197.3,846.9 197.6,849.3 198.0,847.0 198.3,849.9 198.6,845.0 199.0,850.2 199.3,848.3 199.7,850.8 200.0,848.9 200.4,849.2 200.7,849.1 201.0,848.7 201.4,852.1 201.7,846.4 202.1,851.5 202.4,848.0 202.7,851.4 203.1,850.0 203.4,850.9 203.8,852.6 204.1,851.3 204.5,847.6 204.8,848.8 205.1,848.6 205.5,851.4 205.8,848.2 206.2,850.2 206.5,849.6 206.8,846.2 207.2,850.1 207.5,849.3 207.9,849.0 208.2,852.4 208.6,854.0 208.9,848.9 209.2,850.0 209.6,851.6 209.9,850.5 210.3,849.9 210.6,851.6 211.0,851.3 211.3,848.1 211.6,851.5 212.0,852.1 212.3,848.6 212.7,851.4 213.0,854.0 213.3,851.4 213.7,853.2 214.0,849.6 214.4,850.1 214.7,850.4 215.1,850.4 215.4,854.8 215.7,851.3 216.1,849.3 216.4,851.4 216.8,848.3 217.1,853.3 217.5,851.7 217.8,850.9 218.1,853.0 218.5,852.8 218.8,851.9 219.2,851.7 219.5,850.6 219.8,854.0 220.2,851.8 220.5,851.0 220.9,852.3 221.2,850.7 221.6,857.7 221.9,855.3 222.2,856.0 222.6,853.4 222.9,851.9 223.3,851.0 223.6,854.8 223.9,853.1 224.3,853.8 224.6,853.0 225.0,853.5 225.3,853.8 225.7,854.1 226.0,854.5 226.3,856.5 226.7,852.7 227.0,856.4 227.4,854.5 227.7,855.1 228.1,852.7 228.4,857.2 228.7,852.0 229.1,854.3 229.4,854.1 229.8,854.2 230.1,855.0 230.4,856.1 230.8,857.2 231.1,856.3 231.5,858.4 231.8,858.2 232.2,853.5 232.5,855.9 232.8,855.6 233.2,856.0 233.5,854.3 233.9,854.7 234.2,857.0 234.6,857.0 234.9,853.4 235.2,858.1 235.6,854.4 235.9,858.4 236.3,857.3 236.6,855.2 236.9,856.0 237.3,858.1 237.6,854.7 238.0,857.9 238.3,857.4 238.7,859.2 239.0,856.9 239.3,856.3 239.7,855.9 240.0,856.0 240.4,858.8 240.7,855.5 241.0,858.8 241.4,859.4 241.7,858.7 242.1,855.1 242.4,858.6 242.8,860.0 243.1,857.0 243.4,859.6 243.8,855.2 244.1,856.1 244.5,853.9 244.8,857.8 245.2,858.9 245.5,857.1 245.8,856.7 246.2,857.5 246.5,857.5 246.9,857.1 247.2,857.8 247.5,856.2 247.9,860.6 248.2,856.6 248.6,860.2 248.9,856.6 249.3,857.6 249.6,856.9 249.9,858.4 250.3,856.9 250.6,857.2 251.0,859.0 251.3,858.0 251.7,859.3 252.0,858.7 252.3,857.2 252.7,859.5 253.0,858.3 253.4,859.5 253.7,860.1 254.0,856.3 254.4,860.1 254.7,859.4 255.1,857.8 255.4,857.1 255.8,859.2 256.1,859.1 256.4,857.9 256.8,859.2 257.1,856.7 257.5,860.3 257.8,857.7 258.1,858.0 258.5,860.3 258.8,859.9 259.2,857.8 259.5,859.2 259.9,859.5 260.2,858.7 260.5,859.6 260.9,858.7 261.2,862.3 261.6,860.0 261.9,861.2 262.3,859.1 262.6,860.2 262.9,858.7 263.3,860.8 263.6,857.9 264.0,859.9 264.3,861.3 264.6,860.9 265.0,861.1 265.3,857.6 265.7,861.8 266.0,860.5 266.4,858.7 266.7,861.5 267.0,860.4 267.4,857.4 267.7,860.3 268.1,861.0 268.4,859.0 268.8,861.6 269.1,857.0 269.2,859.0 269.4,858.3 269.7,861.6 269.8,857.9 270.1,858.3 270.2,861.8 270.5,856.3 270.7,856.5 270.8,857.7 271.1,853.8 271.2,854.9 271.5,850.9 271.7,849.7 271.8,848.8 272.2,845.4 272.2,849.7 272.5,849.1 272.7,850.7 272.9,851.0 273.2,854.9 273.2,856.1 273.5,857.9 273.7,858.6 273.9,859.4 274.2,862.1 274.2,860.4 274.6,861.4 274.7,861.4 274.9,860.9 275.2,859.1 275.2,859.6 275.6,862.0 275.9,861.4 276.3,861.3 276.6,861.7 277.0,861.3 277.3,862.7 277.6,861.0 278.0,858.6 278.3,861.2 278.7,861.5 279.0,861.1 279.4,861.6 279.7,859.5 280.0,860.2 280.4,862.8 280.7,861.4 281.1,863.4 281.4,862.9 281.7,863.8 282.1,862.6 282.4,860.9 282.8,862.8 283.1,861.1 283.5,861.4 283.8,862.8 284.1,859.6 284.5,864.6 284.8,863.7 285.2,860.7 285.5,865.1 285.9,861.4 286.2,860.6 286.5,864.6 286.9,863.2 287.2,863.1 287.6,860.8 287.9,862.8 288.2,862.3 288.6,860.5 288.9,861.9 289.3,861.4 289.6,861.6 290.0,863.4 290.3,861.6 290.6,862.1 291.0,863.9 291.3,862.5 291.7,863.9 292.0,861.6 292.3,864.8 292.7,863.2 293.0,861.5 293.4,864.6 293.7,862.5 294.1,866.2 294.4,861.4 294.7,863.4 295.1,864.5 295.4,863.4 295.8,864.1 296.1,862.6 296.5,865.3 296.8,864.2 297.1,863.5 297.5,862.4 297.8,861.4 298.2,862.3 298.5,863.7 298.8,862.8 299.2,864.0 299.5,862.0 299.9,863.3 300.2,864.1 300.6,863.8 300.9,864.4 301.2,864.8 301.6,864.6 301.9,863.0 302.3,865.3 302.6,864.2 303.0,862.7 303.3,863.6 303.6,862.8 304.0,863.3 304.3,864.1 304.7,863.5 305.0,862.5 305.3,861.6 305.7,861.8 306.0,863.1 306.4,860.0 306.7,861.3 307.1,862.5 307.4,863.2 307.7,863.1 308.1,863.9 308.4,862.2 308.8,863.6 309.1,865.2 309.4,864.1 309.8,864.1 310.1,864.8 310.5,866.8 310.8,859.8 311.2,860.1 311.5,860.6 311.8,861.7 312.2,861.1 312.5,861.2 312.9,860.9 313.2,860.5 313.6,863.4 313.9,862.0 314.2,861.0 314.6,861.4 314.9,859.4 315.2,858.5 315.3,857.8 315.6,859.3 315.7,856.1 315.9,852.8 316.1,850.7 316.3,843.6 316.5,834.5 316.6,825.2 316.9,793.2 317.0,792.1 317.3,747.2 317.4,739.5 317.7,715.2 317.8,709.4 318.0,715.3 318.2,736.9 318.3,749.1 318.7,792.5 318.7,795.9 319.0,830.3 319.1,833.2 319.4,846.1 319.5,850.2 319.7,853.3 320.0,856.7 320.1,858.7 320.4,860.1 320.4,859.6 320.7,857.9 321.1,860.7 321.4,860.5 321.8,862.8 322.1,862.1 322.4,861.1 322.8,862.5 323.1,862.0 323.5,862.5 323.8,862.2 324.2,861.5 324.5,862.9 324.8,864.6 325.2,864.3 325.5,865.6 325.9,865.9 326.2,865.0 326.5,865.1 326.9,864.1 327.2,865.7 327.6,864.9 327.9,865.1 328.3,868.1 328.6,864.8 328.9,866.0 329.3,865.5 329.6,864.4 330.0,863.1 330.3,863.0 330.7,867.8 331.0,865.5 331.3,864.8 331.7,865.4 332.0,862.8 332.4,864.1 332.7,864.3 333.0,866.8 333.4,862.8 333.7,865.4 334.1,867.6 334.4,865.8 334.8,865.2 335.1,864.1 335.4,866.5 335.8,866.7 336.1,865.6 336.5,866.4 336.8,867.1 337.2,866.4 337.5,864.2 337.8,864.9 338.2,864.8 338.5,866.6 338.9,866.1 339.2,865.9 339.5,863.1 339.9,866.6 340.2,865.6 340.6,864.6 340.9,867.8 341.3,864.2 341.6,866.6 341.9,866.2 342.3,863.5 342.6,865.5 343.0,865.8 343.3,865.8 343.6,865.0 344.0,863.8 344.3,867.5 344.7,864.9 345.0,864.5 345.4,866.0 345.7,864.7 346.0,864.6 346.4,865.0 346.7,864.8 347.1,865.7 347.4,865.6 347.8,867.0 348.1,865.1 348.4,867.0 348.8,866.3 349.1,865.4 349.5,863.5 349.8,864.2 350.1,863.8 350.5,867.0 350.8,865.3 351.2,865.9 351.5,865.1 351.9,864.3 352.2,865.8 352.5,864.7 352.9,864.6 353.2,867.1 353.6,865.7 353.9,865.0 354.3,865.3 354.6,865.6 354.9,864.9 355.3,866.4 355.6,866.2 356.0,867.2 356.3,868.0 356.6,866.1 357.0,865.7 357.3,867.8 357.7,868.6 358.0,866.7 358.4,866.8 358.7,867.6 359.0,866.8 359.4,866.1 359.7,865.9 360.1,866.9 360.4,869.1 360.7,867.2 361.1,866.7 361.4,866.3 361.8,867.1 362.1,865.0 362.5,869.5 362.8,870.1 363.1,866.9 363.5,865.3 363.8,867.3 364.2,868.1 364.5,867.4 364.9,866.6 365.2,866.8 365.5,866.1 365.9,866.9 366.2,866.9 366.6,867.8 366.9,866.9 367.2,866.5 367.6,866.6 367.9,867.2 368.3,865.6 368.6,866.7 369.0,866.7 369.3,865.8 369.6,866.1 370.0,865.6 370.3,867.1 370.7,867.4 371.0,867.2 371.4,868.8 371.7,868.7 372.0,864.8 372.4,866.6 372.7,867.6 373.1,869.0 373.4,867.1 373.7,868.9 374.1,865.5 374.4,867.3 374.8,868.4 375.1,867.0 375.5,867.1 375.8,867.7 376.1,865.9 376.5,865.7 376.8,868.1 377.2,867.7 377.5,867.7 377.8,866.5 378.2,866.2 378.5,868.7 378.9,865.6 379.2,867.7 379.6,865.8 379.9,867.0 380.2,867.7 380.6,869.4 380.9,870.0 381.3,869.7 381.6,868.2 382.0,866.3 382.3,866.9 382.6,868.8 383.0,867.8 383.3,869.8 383.7,866.0 384.0,867.8 384.3,868.8 384.7,866.9 385.0,866.0 385.4,870.0 385.7,867.9 386.1,868.1 386.4,867.4 386.7,867.1 387.1,867.2 387.4,867.8 387.8,866.8 388.1,869.4 388.5,867.9 388.8,866.7 389.1,868.4 389.5,868.9 389.8,869.8 390.2,865.2 390.5,868.3 390.8,868.9 391.2,869.2 391.5,867.6 391.9,868.4 392.2,867.1 392.6,868.4 392.9,866.3 393.2,868.5 393.6,869.4 393.9,868.1 394.3,868.6 394.6,868.5 394.9,867.4 395.3,869.4 395.6,868.3 396.0,869.3 396.3,867.3 396.7,869.3 397.0,868.7 397.3,868.5 397.7,867.5 398.0,868.1 398.4,868.1 398.7,868.2 399.1,869.1 399.4,869.7 399.7,868.8 400.1,867.3 400.4,866.9 400.8,870.0 401.1,866.4 401.4,867.5 401.8,869.5 402.1,868.1 402.5,868.3 402.8,869.5 403.2,868.1 403.5,869.2 403.8,867.9 404.2,868.4 404.5,868.7 404.9,870.5 405.2,869.3 405.6,869.7 405.9,867.7 406.2,868.8 406.6,868.4 406.9,868.0 407.3,866.7 407.6,869.3 407.9,870.0 408.3,867.5 408.6,870.2 409.0,867.6 409.3,869.4 409.7,867.9 410.0,868.8 410.3,867.5 410.7,867.7 411.0,868.7 411.4,867.8 411.7,867.2 412.0,867.5 412.4,868.9 412.7,868.0 413.1,866.8 413.4,868.2 413.8,867.9 414.1,869.7 414.4,867.3 414.8,866.9 415.1,868.7 415.5,867.8 415.8,868.9 416.2,867.4 416.5,866.1 416.8,870.3 417.2,868.8 417.5,867.2 417.9,866.7 418.2,865.6 418.5,870.1 418.9,868.6 419.2,867.9 419.6,868.6 419.9,867.1 420.3,866.4 420.6,867.2 420.9,867.3 421.3,870.4 421.6,868.2 422.0,868.7 422.3,869.6 422.7,868.6 423.0,866.9 423.3,869.3 423.7,867.9 424.0,867.5 424.4,868.8 424.7,867.2 425.0,869.4 425.4,868.0 425.7,867.0 426.1,868.1 426.4,867.6 426.8,868.7 427.1,868.5 427.4,868.4 427.8,868.7 428.1,868.2 428.5,869.3 428.8,867.6 429.1,867.9 429.5,867.8 429.8,867.1 430.2,869.6 430.5,869.8 430.9,866.6 431.2,868.8 431.5,868.9 431.9,867.9 432.2,869.0 432.6,868.6 432.9,868.5 433.3,868.8 433.6,867.9 433.9,866.9 434.3,870.3 434.6,869.8 435.0,865.8 435.3,867.4 435.6,868.7 436.0,868.7 436.3,870.0 436.7,868.6 437.0,866.5 437.4,870.6 437.7,866.9 438.0,867.7 438.4,869.1 438.7,870.2 439.1,867.4 439.4,869.4 439.8,867.6 440.1,868.7 440.4,868.2 440.8,866.5 441.1,866.9 441.5,867.8 441.8,867.1 442.1,869.7 442.5,867.2 442.8,867.5 443.2,870.4 443.5,866.7 443.9,867.2 444.2,867.4 444.5,868.7 444.9,868.3 445.2,868.9 445.6,870.0 445.9,869.5 446.2,870.3 446.6,866.7 446.9,868.5 447.3,868.5 447.6,869.4 448.0,868.2 448.3,868.3 448.6,867.1 449.0,868.9 449.3,869.6 449.7,869.2 450.0,869.0 450.4,868.4 450.7,869.5 451.0,870.6 451.4,866.5 451.7,866.8 452.1,867.7 452.4,868.3 452.7,869.5 453.1,870.4 453.4,868.8 453.8,870.1 454.1,870.4 454.5,869.6 454.8,869.9 455.1,867.4 455.5,868.8 455.8,868.7 456.2,869.4 456.5,869.9 456.9,869.3 457.2,869.8 457.5,869.0 457.9,869.4 458.2,869.1 458.6,867.2 458.9,869.9 459.2,867.6 459.6,868.4 459.9,870.1 460.3,868.4 460.6,867.5 461.0,867.7 461.3,868.5 461.6,868.0 462.0,868.0 462.3,865.4 462.7,867.2 462.7,864.6 463.0,864.4 463.1,864.2 463.3,862.6 463.5,862.2 463.7,861.1 464.0,854.3 464.0,849.9 464.4,837.4 464.4,835.3 464.7,816.4 464.8,809.8 465.1,799.7 465.2,797.9 465.4,799.0 465.7,808.9 465.7,815.8 466.1,833.5 466.1,834.7 466.4,849.5 466.5,852.9 466.8,860.4 467.0,863.0 467.1,865.5 467.4,865.4 467.5,865.4 467.8,869.0 467.8,865.9 468.1,866.7 468.5,868.0 468.8,869.1 469.2,869.5 469.5,868.5 469.8,870.1 470.2,870.8 470.5,868.3 470.9,868.3 471.2,869.5 471.6,870.0 471.9,871.2 472.2,868.0 472.6,870.9 472.9,867.7 473.3,870.6 473.6,870.7 474.0,869.5 474.3,868.6 474.6,868.9 475.0,870.2 475.3,870.8 475.7,871.0 476.0,868.8 476.3,869.5 476.7,869.4 477.0,870.4 477.4,871.1 477.7,870.2 478.1,871.2 478.4,869.2 478.7,868.3 479.1,870.9 479.4,870.5 479.8,872.4 480.1,869.7 480.4,869.3 480.8,871.2 481.1,870.8 481.5,870.0 481.8,869.1 482.2,869.7 482.5,870.8 482.8,867.9 483.2,871.2 483.5,871.0 483.9,867.9 484.2,869.6 484.6,870.3 484.9,869.0 485.2,868.9 485.6,870.3 485.9,869.5 486.3,871.1 486.6,870.0 486.9,871.1 487.3,870.7 487.6,871.5 488.0,869.2 488.3,870.6 488.7,870.3 489.0,868.7 489.3,871.0 489.7,871.2 490.0,869.9 490.4,870.3 490.7,869.7 491.1,868.0 491.4,870.6 491.7,869.1 492.1,869.5 492.4,870.4 492.8,868.7 493.1,869.8 493.4,868.8 493.8,869.0 494.1,870.2 494.3,871.6 494.5,868.1 494.8,868.8 494.9,869.9 495.2,870.5 495.5,868.5 495.5,870.7 495.8,869.6 496.1,870.5 496.2,870.2 496.5,870.3 496.7,869.4 496.9,870.2 497.2,869.1 497.3,866.5 497.5,866.1 497.9,866.8 497.9,865.4 498.2,866.7 498.5,865.8 498.6,867.3 498.9,869.4 499.1,868.1 499.3,869.0 499.6,870.3 499.8,870.1 499.9,870.0 500.3,870.8 500.4,870.3 500.6,869.2 501.0,869.6 501.0,869.8 501.3,870.6 501.6,869.2 501.7,871.5 502.0,871.2 502.3,871.5 502.7,872.8 503.0,872.7 503.4,868.9 503.7,870.6 504.0,871.0 504.4,869.3 504.7,871.7 505.1,869.0 505.4,868.7 505.8,869.6 506.1,869.7 506.4,869.4 506.8,870.9 507.1,869.8 507.5,870.3 507.8,870.4 508.2,871.5 508.5,867.7 508.8,871.6 509.2,870.5 509.5,871.7 509.9,870.6 510.2,869.6 510.5,869.6 510.9,871.4 511.2,872.0 511.6,871.4 511.9,869.3 512.3,869.0 512.6,870.3 512.9,868.2 513.3,870.0 513.6,870.7 514.0,870.5 514.3,869.9 514.6,873.3 515.0,869.6 515.3,869.3 515.7,871.0 516.0,868.6 516.4,871.0 516.7,871.1 517.0,870.3 517.4,871.5 517.7,868.4 518.1,868.8 518.4,872.1 518.8,870.7 519.1,871.7 519.4,869.7 519.8,871.1 520.1,870.7 520.5,869.5 520.8,869.5 521.1,871.0 521.5,871.2 521.8,872.8 522.2,869.0 522.5,870.4 522.9,871.1 523.2,871.2 523.5,871.2 523.9,871.9 524.2,870.9 524.6,869.1 524.9,869.9 525.3,870.1 525.6,869.9 525.9,871.7 526.3,871.0 526.6,870.6 527.0,869.4 527.3,869.1 527.6,869.4 528.0,870.3 528.3,870.7 528.7,870.1 529.0,871.8 529.4,871.1 529.7,870.4 530.0,870.4 530.4,873.1 530.7,869.4 531.1,872.3 531.4,871.3 531.7,870.0 532.1,871.6 532.4,870.2 532.8,871.1 533.1,872.0 533.5,870.3 533.8,871.0 534.1,871.7 534.5,871.8 534.8,870.0 535.2,870.1 535.5,871.4 535.9,870.4 536.2,871.7 536.5,870.3 536.9,871.8 537.2,871.9 537.6,869.2 537.9,871.0 538.2,869.9 538.6,871.4 538.9,871.6 539.3,868.9 539.6,869.6 540.0,870.8 540.3,872.9 540.6,870.6 541.0,871.0 541.3,869.7 541.7,870.2 542.0,871.6 542.4,871.2 542.7,871.8 543.0,872.8 543.4,871.0 543.7,871.0 544.1,868.9 544.4,871.3 544.7,871.7 545.1,868.8 545.4,870.8 545.8,870.7 546.1,871.2 546.5,869.9 546.8,871.3 547.1,870.5 547.5,870.7 547.8,871.0 548.2,870.2 548.5,872.3 548.8,870.5 549.2,870.3 549.5,871.3 549.9,872.1 550.2,871.2 550.6,869.7 550.9,870.2 551.2,871.2 551.6,870.8 551.9,872.1 552.3,871.8 552.6,871.5 553.0,870.5 553.3,870.0 553.6,869.9 554.0,871.3 554.3,870.3 554.7,870.5 555.0,869.9 555.3,872.1 555.7,869.9 555.7,872.2 556.0,869.1 556.2,871.5 556.4,871.2 556.7,870.0 556.7,869.5 557.1,870.3 557.2,870.9 557.4,868.0 557.7,866.5 557.7,866.5 558.1,865.1 558.2,863.2 558.4,860.9 558.7,860.9 558.8,861.8 559.1,862.8 559.2,863.6 559.5,862.7 559.7,867.1 559.8,868.2 560.1,868.4 560.2,869.6 560.5,870.7 560.8,869.4 560.8,872.3 561.2,870.9 561.3,870.2 561.5,871.9 561.8,872.3 561.8,871.0 562.2,870.5 562.5,871.2 562.9,872.7 563.2,870.5 563.6,873.2 563.9,872.7 564.2,870.5 564.6,871.1 564.9,870.5 565.3,871.6 565.6,871.8 565.9,871.7 566.3,871.1 566.6,872.5 567.0,870.5 567.3,871.0 567.7,869.7 568.0,871.2 568.3,873.4 568.7,872.6 569.0,871.5 569.4,870.2 569.7,872.5 570.1,869.8 570.4,871.1 570.7,872.8 571.1,871.1 571.4,871.5 571.8,871.8 572.1,871.5 572.4,872.3 572.8,872.9 573.1,872.9 573.5,872.3 573.8,872.7 574.2,870.5 574.5,871.4 574.8,869.8 575.2,870.8 575.5,871.7 575.9,871.5 576.2,871.6 576.6,871.2 576.9,871.9 577.2,871.1 577.6,869.3 577.9,872.0 578.3,870.4 578.6,872.5 578.9,870.5 579.3,871.6 579.6,871.6 580.0,870.5 580.3,871.6 580.7,872.7 581.0,869.6 581.3,872.3 581.7,870.1 582.0,872.0 582.4,870.5 582.7,871.0 583.0,871.7 583.4,871.2 583.7,871.0 584.1,871.4 584.4,870.6 584.8,871.7 585.1,870.1 585.4,870.1 585.8,870.4 586.1,870.5 586.1,869.8 586.5,871.6 586.6,872.3 586.8,870.0 587.1,872.1 587.2,868.8 587.5,869.1 587.6,867.5 587.8,865.1 588.1,862.7 588.2,860.5 588.5,856.9 588.6,854.3 588.9,851.1 589.1,850.2 589.2,849.2 589.5,853.2 589.6,855.2 589.9,858.7 590.1,862.2 590.2,861.8 590.6,867.2 590.6,867.5 590.9,869.4 591.2,869.3 591.3,870.5 591.6,870.1 591.7,872.1 591.9,871.6 592.2,872.4 592.3,871.1 592.6,873.0 593.0,871.2 593.3,871.8 593.7,872.4 594.0,871.5 594.3,871.6 594.7,870.7 595.0,872.3 595.4,872.3 595.7,872.1 596.0,870.7 596.4,870.0 596.7,873.6 597.1,871.3 597.4,871.9 597.8,871.7 598.1,871.8"/>
<polygon fill="#fff" points="64.8,929.5 64.8,888.8 65.1,887.5 65.4,885.2 65.8,884.2 66.1,891.1 66.5,888.6 66.8,890.3 67.1,885.0 67.5,888.0 67.8,887.2 68.2,888.1 68.5,887.1 68.9,885.6 69.2,885.8 69.5,890.0 69.9,884.6 70.2,889.3 70.6,886.5 70.9,885.8 71.2,890.0 71.6,887.3 71.9,888.0 72.3,888.4 72.6,887.3 73.0,885.5 73.3,886.4 73.6,887.3 74.0,889.7 74.3,888.7 74.7,889.1 75.0,891.1 75.4,889.4 75.7,890.0 76.0,889.0 76.4,886.7 76.7,883.9 77.1,889.5 77.4,890.0 77.7,888.7 78.1,888.7 78.4,886.4 78.8,886.3 79.1,891.6 79.5,888.3 79.8,889.9 80.1,887.6 80.5,891.6 80.8,891.1 81.2,890.4 81.5,885.5 81.8,889.6 82.2,892.6 82.5,891.2 82.9,893.2 83.2,886.9 83.6,887.3 83.9,890.9 84.2,886.9 84.6,889.1 84.9,890.8 85.3,890.5 85.6,889.8 86.0,887.5 86.3,891.3 86.6,888.1 87.0,889.5 87.3,893.4 87.7,894.0 88.0,887.8 88.3,889.1 88.7,892.7 89.0,885.6 89.4,888.0 89.7,888.7 90.1,889.3 90.4,887.8 90.7,888.6 91.1,888.6 91.4,892.5 91.8,884.1 92.1,888.8 92.5,892.2 92.8,888.6 93.1,889.2 93.5,888.2 93.8,887.3 94.2,890.4 94.5,889.6 94.8,890.2 95.2,886.0 95.5,889.8 95.9,887.0 96.2,891.3 96.6,887.9 96.9,886.7 97.2,889.3 97.6,886.0 97.9,889.0 98.3,890.9 98.6,887.4 98.9,887.7 99.3,892.6 99.6,885.6 100.0,889.4 100.3,889.9 100.7,886.4 101.0,884.7 101.3,890.4 101.7,887.9 102.0,887.8 102.4,886.0 102.7,889.7 103.1,889.0 103.4,889.5 103.7,889.2 104.1,888.8 104.4,888.1 104.8,888.7 105.1,890.3 105.4,887.1 105.8,891.7 106.1,886.8 106.5,889.0 106.8,887.2 107.2,890.5 107.5,886.7 107.8,888.1 108.2,885.8 108.5,888.2 108.9,890.3 109.2,889.5 109.6,891.0 109.9,890.5 110.2,884.7 110.6,887.0 110.9,885.6 111.3,883.9 111.6,886.6 111.9,888.3 112.3,890.8 112.6,892.8 113.0,887.3 113.3,887.4 113.7,891.5 114.0,888.8 114.3,889.3 114.7,885.5 115.0,890.6 115.4,887.3 115.7,888.0 116.0,891.9 116.4,887.2 116.7,887.9 117.1,889.7 117.4,890.3 117.8,891.5 118.1,891.1 118.4,886.3 118.8,887.7 119.1,891.2 119.5,892.5 119.8,887.1 120.2,887.3 120.5,890.4 120.8,891.0 121.2,892.4 121.5,889.2 121.9,888.9 122.2,885.0 122.5,890.6 122.9,890.8 123.2,890.5 123.6,887.1 123.9,892.4 124.3,890.3 124.6,888.9 124.9,890.4 125.3,888.4 125.6,887.5 126.0,888.9 126.3,889.5 126.7,890.8 127.0,887.6 127.3,892.8 127.7,889.6 128.0,893.1 128.4,887.9 128.7,891.5 129.0,888.4 129.4,889.2 129.7,892.4 130.1,892.4 130.4,892.2 130.8,888.2 131.1,892.6 131.4,892.4 131.8,891.6 132.1,890.1 132.5,893.3 132.8,889.7 133.1,890.1 133.5,891.7 133.8,893.3 134.2,892.2 134.5,893.1 134.9,891.6 135.2,891.5 135.5,891.9 135.9,889.2 136.2,890.8 136.6,888.1 136.9,891.8 137.3,892.3 137.6,888.4 137.9,891.5 138.3,894.2 138.6,892.0 139.0,890.4 139.3,892.7 139.6,891.9 140.0,889.2 140.3,890.3 140.7,888.7 141.0,891.3 141.4,891.1 141.7,896.8 142.0,892.2 142.4,895.9 142.7,893.3 143.1,893.2 143.4,893.9 143.8,894.2 144.1,892.1 144.4,895.7 144.8,897.6 145.1,890.9 145.5,894.6 145.8,891.9 146.1,894.0 146.5,894.4 146.8,895.8 147.2,890.4 147.5,894.1 147.9,893.7 148.2,895.0 148.5,896.3 148.9,892.3 149.2,893.6 149.6,893.8 149.9,895.7 150.2,894.7 150.6,896.6 150.9,894.5 151.3,896.1 151.6,898.4 152.0,897.5 152.3,890.9 152.6,895.7 153.0,898.5 153.3,896.4 153.7,899.1 154.0,899.1 154.4,896.9 154.7,893.3 155.0,895.4 155.4,898.3 155.7,895.2 156.1,895.2 156.4,894.0 156.7,899.9 157.1,897.6 157.4,892.9 157.8,897.1 158.1,895.8 158.5,895.7 158.8,897.4 159.1,898.1 159.5,895.4 159.8,893.8 160.2,894.6 160.5,898.9 160.9,898.8 161.2,899.7 161.5,901.2 161.9,897.3 162.2,895.6 162.6,895.4 162.9,901.2 163.2,898.2 163.6,899.7 163.9,898.2 164.3,902.2 164.6,898.9 165.0,898.1 165.3,898.8 165.6,900.6 166.0,902.8 166.3,898.3 166.7,899.0 167.0,900.9 167.3,901.9 167.7,900.7 168.0,901.3 168.4,900.6 168.7,900.6 169.1,898.6 169.4,902.9 169.7,897.6 170.1,900.3 170.4,901.0 170.8,899.3 171.1,901.7 171.5,899.9 171.8,901.8 172.1,898.2 172.5,906.2 172.8,900.2 173.2,901.1 173.5,899.4 173.8,905.9 174.2,902.2 174.5,900.9 174.9,902.1 175.2,898.9 175.6,903.4 175.9,899.8 176.2,901.7 176.6,902.5 176.9,905.2 177.3,901.5 177.6,904.2 178.0,899.8 178.3,904.5 178.6,900.7 179.0,906.3 179.3,904.6 179.7,904.4 180.0,904.0 180.3,902.0 180.7,904.1 181.0,901.3 181.4,899.6 181.7,905.0 182.1,905.9 182.4,903.7 182.7,899.6 183.1,904.8 183.4,901.4 183.8,904.0 184.1,901.4 184.4,904.5 184.8,903.1 185.1,903.4 185.5,904.2 185.8,902.9 186.2,904.9 186.5,905.6 186.8,906.8 187.2,903.3 187.5,906.5 187.9,905.6 188.2,906.9 188.6,906.2 188.9,903.8 189.2,905.7 189.6,904.2 189.9,907.0 190.3,904.7 190.6,906.0 190.9,902.8 191.3,905.0 191.6,905.9 192.0,906.5 192.3,902.7 192.7,907.6 193.0,904.9 193.3,903.3 193.7,904.3 194.0,904.4 194.4,906.8 194.7,906.7 195.1,905.6 195.4,905.5 195.7,906.1 196.1,904.4 196.4,906.5 196.8,905.2 197.1,904.0 197.4,903.4 197.8,907.1 198.1,906.5 198.5,907.0 198.8,906.1 199.2,907.5 199.5,905.6 199.8,904.6 200.2,905.7 200.5,909.8 200.9,905.1 201.2,905.3 201.5,908.5 201.9,907.5 202.2,907.9 202.6,906.0 202.9,904.1 203.3,907.5 203.6,904.9 203.9,908.5 204.3,906.1 204.6,908.6 205.0,905.7 205.3,908.3 205.7,906.3 206.0,908.4 206.3,905.4 206.7,908.8 207.0,908.1 207.4,904.6 207.7,906.7 208.0,907.5 208.4,908.2 208.7,907.5 209.1,909.5 209.4,908.3 209.8,904.9 210.1,909.1 210.4,906.3 210.8,906.9 211.1,908.6 211.5,908.5 211.8,907.7 212.2,908.4 212.5,908.6 212.8,908.5 213.2,910.1 213.5,906.3 213.9,909.6 214.2,909.1 214.5,908.5 214.9,909.2 215.2,909.5 215.6,909.2 215.9,910.0 216.3,910.9 216.6,905.7 216.9,908.9 217.3,907.6 217.6,909.4 218.0,910.5 218.3,908.5 218.6,912.3 219.0,908.8 219.3,910.6 219.7,909.3 220.0,907.9 220.4,913.0 220.7,910.6 221.0,909.1 221.4,910.8 221.7,910.9 222.1,908.5 222.4,910.0 222.8,909.3 223.1,908.8 223.4,910.1 223.8,911.1 224.1,908.9 224.5,907.6 224.8,911.8 225.1,909.2 225.5,910.6 225.8,912.0 226.2,911.5 226.5,910.7 226.9,910.5 227.2,913.6 227.5,910.6 227.9,910.6 228.2,909.1 228.6,909.3 228.9,909.9 229.3,910.1 229.6,909.5 229.9,908.7 230.3,909.0 230.4,908.3 230.6,910.4 230.9,910.7 231.0,912.9 231.3,907.8 231.4,910.8 231.6,908.1 231.9,909.9 232.0,905.8 232.3,903.7 232.5,902.8 232.7,904.4 233.0,898.5 233.0,900.4 233.4,897.0 233.5,898.1 233.7,897.8 234.0,900.2 234.0,902.9 234.4,903.2 234.5,904.3 234.7,907.1 235.0,908.1 235.1,907.1 235.4,910.2 235.5,911.4 235.7,907.4 236.0,911.4 236.1,912.4 236.4,911.0 236.5,909.8 236.8,908.7 237.1,908.9 237.5,910.6 237.8,912.2 238.1,911.0 238.5,910.9 238.8,910.8 239.2,912.5 239.5,913.6 239.9,910.0 240.2,911.6 240.5,909.8 240.9,912.0 241.2,913.3 241.6,911.1 241.9,911.6 242.2,911.3 242.6,913.0 242.9,913.2 243.3,911.8 243.6,909.1 244.0,911.3 244.3,910.5 244.6,911.9 245.0,911.3 245.3,912.7 245.7,911.8 246.0,910.7 246.4,911.4 246.7,911.1 247.0,912.3 247.4,912.5 247.7,909.6 248.1,912.7 248.4,909.7 248.7,911.8 249.1,912.9 249.4,911.5 249.8,911.9 250.1,912.1 250.5,912.6 250.8,911.5 251.1,912.5 251.5,912.3 251.8,909.7 252.2,911.9 252.5,912.4 252.8,914.1 253.2,913.9 253.5,912.7 253.9,912.1 254.2,913.0 254.6,912.8 254.9,913.3 255.2,912.2 255.6,914.1 255.9,912.6 256.3,911.1 256.6,912.7 257.0,912.9 257.3,913.9 257.6,913.1 258.0,914.3 258.3,912.4 258.7,913.6 259.0,915.2 259.3,914.6 259.7,911.4 260.0,913.4 260.4,913.6 260.7,913.9 261.1,911.5 261.4,912.8 261.7,913.9 262.1,913.1 262.4,909.8 262.8,914.4 263.1,912.5 263.5,913.2 263.8,912.0 264.1,915.3 264.5,914.2 264.8,913.2 265.2,911.5 265.5,913.5 265.8,912.5 266.2,913.6 266.5,917.1 266.9,911.1 267.2,915.9 267.6,914.6 267.9,911.5 268.2,912.4 268.6,913.8 268.9,914.1 269.3,914.0 269.6,914.5 269.9,913.9 270.3,911.7 270.6,913.4 271.0,915.8 271.3,913.6 271.7,912.7 272.0,912.8 272.3,912.7 272.7,911.7 273.0,910.8 273.4,912.4 273.7,911.6 274.1,912.5 274.4,912.2 274.7,912.3 275.1,911.5 275.4,910.3 275.8,911.3 276.1,909.5 276.4,909.9 276.8,906.5 276.8,908.7 277.1,904.8 277.2,905.2 277.5,902.0 277.5,902.3 277.8,894.0 277.9,887.3 278.2,868.5 278.3,852.2 278.5,830.5 278.7,809.7 278.8,795.5 279.1,785.5 279.2,788.6 279.4,810.3 279.5,817.1 279.8,853.1 279.9,855.0 280.2,884.9 280.2,884.3 280.6,901.4 280.6,902.9 280.9,904.4 281.0,907.7 281.2,908.1 281.4,907.5 281.6,907.8 281.9,909.3 282.3,908.4 282.6,911.3 282.9,911.7 283.3,909.8 283.6,912.8 284.0,912.8 284.3,913.5 284.7,913.4 285.0,913.7 285.3,913.8 285.7,911.6 286.0,914.3 286.4,915.0 286.7,911.7 287.0,913.3 287.4,912.3 287.7,915.1 288.1,912.5 288.4,912.7 288.8,911.7 289.1,912.0 289.4,915.7 289.8,912.5 290.1,912.2 290.5,912.1 290.8,916.2 291.2,913.4 291.5,916.7 291.8,912.5 292.2,913.4 292.5,913.3 292.9,912.5 293.2,914.8 293.5,915.9 293.9,914.8 294.2,914.1 294.6,913.3 294.9,915.1 295.3,915.6 295.6,912.5 295.9,915.3 296.3,913.6 296.6,913.3 297.0,915.3 297.3,914.1 297.7,912.1 298.0,912.0 298.3,912.3 298.7,912.9 299.0,916.4 299.4,913.3 299.7,912.3 300.0,911.5 300.4,916.0 300.7,914.5 301.1,913.5 301.4,914.9 301.8,916.0 302.1,915.3 302.4,914.4 302.8,917.0 303.1,913.3 303.5,914.7 303.8,914.3 304.1,912.6 304.5,914.5 304.8,913.1 305.2,914.8 305.5,914.6 305.9,915.9 306.2,914.8 306.5,915.2 306.9,911.4 307.2,914.6 307.6,915.4 307.9,913.6 308.3,912.1 308.6,914.7 308.9,916.1 309.3,915.3 309.6,914.2 310.0,915.9 310.3,915.3 310.6,914.7 311.0,914.7 311.3,914.9 311.7,915.4 312.0,916.0 312.4,914.8 312.7,916.2 313.0,912.3 313.4,914.5 313.7,915.4 314.1,917.1 314.4,914.8 314.8,916.7 315.1,915.9 315.4,914.5 315.8,914.0 316.1,915.6 316.5,914.5 316.8,915.0 317.1,911.9 317.5,915.4 317.8,914.7 318.2,915.3 318.5,914.9 318.9,914.8 319.2,914.3 319.5,914.6 319.9,915.3 320.2,915.3 320.6,915.3 320.9,917.8 321.2,914.8 321.6,915.9 321.9,914.3 322.3,913.5 322.6,916.0 323.0,915.6 323.3,913.8 323.6,918.3 324.0,914.1 324.3,914.9 324.7,914.2 325.0,917.0 325.4,914.4 325.7,914.1 326.0,914.1 326.4,914.3 326.7,915.4 327.1,915.5 327.4,913.1 327.7,915.5 328.1,915.3 328.4,914.3 328.8,914.5 329.1,914.9 329.5,917.5 329.8,913.7 330.1,916.5 330.5,917.0 330.8,916.7 331.2,917.3 331.5,917.3 331.9,917.5 332.2,915.5 332.5,916.4 332.9,915.1 333.2,916.7 333.6,916.0 333.9,915.7 334.2,913.3 334.6,915.8 334.9,915.1 335.3,915.3 335.6,916.9 336.0,915.3 336.3,916.0 336.6,914.9 337.0,915.3 337.3,916.9 337.7,914.0 338.0,914.3 338.3,917.9 338.7,916.1 339.0,914.7 339.4,914.8 339.7,914.9 340.1,917.0 340.4,915.6 340.7,918.4 341.1,916.3 341.4,916.4 341.8,916.8 342.1,916.5 342.5,916.7 342.8,918.4 343.1,915.9 343.5,915.2 343.8,916.5 344.2,915.9 344.5,917.1 344.8,917.6 345.2,918.4 345.5,914.9 345.9,917.4 346.2,916.8 346.6,917.9 346.9,916.2 347.2,916.5 347.6,919.0 347.9,914.3 348.3,917.6 348.6,916.7 349.0,918.7 349.3,915.1 349.6,917.5 350.0,915.9 350.3,916.1 350.7,918.7 351.0,914.9 351.3,918.8 351.7,917.5 352.0,917.5 352.4,917.7 352.7,919.5 353.1,915.5 353.4,918.5 353.7,916.7 354.1,915.3 354.4,915.9 354.8,915.2 355.1,914.7 355.4,916.0 355.8,917.2 356.1,918.1 356.5,918.5 356.8,917.7 357.2,918.5 357.5,919.4 357.8,918.1 358.2,917.1 358.5,915.7 358.9,917.9 359.2,917.5 359.6,918.1 359.9,917.9 360.2,918.4 360.6,917.2 360.9,917.8 361.3,918.0 361.6,917.2 361.9,916.6 362.3,917.1 362.6,917.5 363.0,915.1 363.3,918.7 363.7,917.6 364.0,919.1 364.3,916.2 364.7,915.9 365.0,916.2 365.4,916.7 365.7,917.2 366.1,920.1 366.4,918.5 366.7,918.9 367.1,918.7 367.4,918.4 367.8,917.6 368.1,917.5 368.4,918.5 368.8,917.6 369.1,916.9 369.5,920.1 369.8,916.9 370.2,916.4 370.5,917.6 370.8,916.7 371.2,917.5 371.5,917.4 371.9,917.0 372.2,919.0 372.5,917.3 372.9,918.3 373.2,917.1 373.6,918.3 373.9,918.2 374.3,919.1 374.6,918.6 374.9,917.4 375.3,918.0 375.6,917.5 376.0,919.1 376.3,918.2 376.7,917.7 377.0,916.4 377.3,918.8 377.7,917.1 378.0,917.7 378.4,919.3 378.7,918.0 379.0,917.8 379.4,918.1 379.7,921.0 380.1,919.0 380.4,917.3 380.8,918.2 381.1,918.7 381.4,917.2 381.8,917.4 382.1,920.1 382.5,917.7 382.8,918.4 383.2,920.9 383.5,917.6 383.8,917.8 384.2,919.7 384.5,918.3 384.9,919.1 385.2,919.2 385.5,918.8 385.9,919.0 386.2,919.6 386.6,919.7 386.9,917.8 387.3,917.3 387.6,917.9 387.9,919.4 388.3,918.8 388.6,917.8 389.0,918.9 389.3,919.8 389.6,920.4 390.0,917.0 390.3,916.3 390.7,918.9 391.0,918.9 391.4,918.0 391.7,918.9 392.0,917.6 392.4,918.9 392.7,920.1 393.1,917.6 393.4,917.8 393.8,918.2 394.1,919.5 394.4,916.9 394.8,918.1 395.1,919.1 395.5,917.8 395.8,918.5 396.1,918.6 396.5,918.7 396.8,918.2 397.2,917.9 397.5,916.6 397.9,920.7 398.2,917.5 398.5,917.4 398.9,919.1 399.2,917.7 399.6,919.7 399.9,918.9 400.3,920.4 400.6,920.9 400.9,920.2 401.3,917.4 401.6,918.0 402.0,919.4 402.3,917.5 402.6,918.8 403.0,917.3 403.3,919.8 403.7,920.0 404.0,916.5 404.4,915.7 404.7,917.5 405.0,917.0 405.4,918.9 405.7,919.6 406.1,916.5 406.4,919.2 406.7,919.6 407.1,917.4 407.4,921.0 407.8,918.0 408.1,919.5 408.5,918.8 408.8,918.5 409.1,918.5 409.5,917.7 409.8,920.1 410.2,919.5 410.5,918.6 410.9,918.3 411.2,919.6 411.5,917.6 411.9,919.6 412.2,918.8 412.6,919.1 412.9,919.8 413.2,919.0 413.6,919.2 413.9,919.7 414.3,919.4 414.6,921.8 415.0,919.4 415.3,918.6 415.6,919.1 416.0,919.4 416.3,918.1 416.7,917.4 417.0,918.8 417.4,917.0 417.7,918.0 418.0,918.6 418.4,918.6 418.7,917.9 419.1,919.5 419.4,917.7 419.7,918.6 420.1,920.2 420.4,919.9 420.8,919.8 421.1,920.1 421.5,918.2 421.8,916.7 422.1,917.3 422.5,917.6 422.8,918.1 423.2,917.0 423.5,918.0 423.8,918.5 424.2,916.9 424.2,917.1 424.5,916.5 424.6,915.7 424.9,917.0 425.0,916.8 425.2,910.6 425.4,910.2 425.6,904.8 425.8,895.6 425.9,891.6 426.1,882.7 426.2,878.0 426.5,872.0 426.6,873.0 426.9,882.0 426.9,884.1 427.3,897.5 427.3,899.1 427.6,908.4 427.6,910.6 428.0,913.6 428.0,914.7 428.3,917.5 428.4,916.9 428.6,915.6 428.8,917.3 429.0,917.8 429.3,917.5 429.7,916.5 430.0,918.4 430.3,919.6 430.7,919.2 431.0,919.4 431.4,920.4 431.7,919.0 432.1,920.2 432.4,919.5 432.7,919.8 433.1,919.7 433.4,920.5 433.8,921.0 434.1,918.8 434.5,919.1 434.8,920.9 435.1,920.8 435.5,919.1 435.8,921.1 436.2,921.9 436.5,920.5 436.8,919.7 437.2,918.6 437.5,921.9 437.9,919.6 438.2,922.3 438.6,921.9 438.9,919.7 439.2,921.2 439.6,921.9 439.9,919.3 440.3,920.3 440.6,922.0 440.9,919.7 441.3,919.3 441.6,922.2 442.0,920.3 442.3,919.9 442.7,922.1 443.0,920.1 443.3,920.6 443.7,921.5 444.0,922.4 444.4,921.5 444.7,921.9 445.1,920.9 445.4,922.7 445.7,920.0 446.1,923.0 446.4,920.7 446.8,922.7 447.1,921.7 447.4,920.8 447.8,919.1 448.1,919.0 448.5,919.7 448.8,919.9 449.2,920.5 449.5,920.5 449.8,920.8 450.2,919.6 450.5,919.4 450.9,920.2 451.2,919.4 451.6,919.2 451.9,920.2 452.2,920.7 452.6,921.4 452.9,919.8 453.3,921.0 453.6,919.5 453.9,922.6 454.3,919.6 454.6,920.8 455.0,919.2 455.3,920.6 455.7,921.6 456.0,920.7 456.3,920.4 456.7,923.4 457.0,920.4 457.4,920.7 457.7,920.0 458.0,920.0 458.4,922.7 458.7,919.7 459.1,922.0 459.4,921.5 459.8,919.8 460.1,919.4 460.4,920.8 460.8,920.4 461.1,919.8 461.5,921.3 461.8,921.4 462.2,919.9 462.5,920.4 462.8,920.0 463.2,919.9 463.5,919.0 463.9,921.3 464.2,919.7 464.5,920.4 464.9,920.7 465.2,921.6 465.6,922.4 465.9,921.8 466.3,921.5 466.6,922.4 466.9,922.4 467.3,920.5 467.6,920.7 468.0,920.1 468.3,921.4 468.7,922.4 469.0,918.7 469.3,919.9 469.7,919.8 470.0,920.5 470.4,919.5 470.7,919.3 471.0,921.5 471.4,920.5 471.7,920.0 472.1,919.9 472.4,922.7 472.8,921.3 473.1,920.5 473.4,921.5 473.8,921.0 474.1,921.2 474.5,923.0 474.8,920.9 475.1,919.3 475.5,920.3 475.8,921.9 476.2,923.2 476.5,921.3 476.9,922.4 477.2,920.6 477.5,922.2 477.9,921.4 478.2,920.6 478.6,918.5 478.9,919.5 479.3,921.6 479.6,921.1 479.9,920.5 480.3,920.6 480.6,920.3 481.0,920.9 481.3,919.0 481.6,920.7 482.0,920.1 482.3,919.1 482.7,919.5 483.0,921.7 483.4,921.2 483.7,921.0 484.0,920.5 484.4,921.0 484.7,919.1 485.1,922.1 485.4,920.2 485.8,920.0 486.1,919.7 486.4,921.8 486.8,920.1 487.1,920.5 487.5,919.7 487.8,920.2 488.1,923.0 488.5,919.1 488.8,919.9 489.2,921.1 489.5,920.7 489.9,921.2 490.2,920.8 490.5,920.4 490.9,919.2 491.2,920.8 491.6,918.9 491.9,921.6 492.2,919.0 492.6,920.4 492.9,920.5 493.3,918.9 493.6,921.3 494.0,922.9 494.3,921.1 494.6,921.2 495.0,922.6 495.3,921.9 495.7,919.5 496.0,921.4 496.4,919.1 496.7,921.6 497.0,922.2 497.4,922.4 497.7,920.6 498.1,920.6 498.4,920.4 498.7,920.5 499.1,920.7 499.4,919.7 499.8,921.2 500.1,919.7 500.5,921.6 500.8,923.1 501.1,921.7 501.5,921.3 501.8,920.3 502.2,919.7 502.5,918.9 502.9,922.0 503.2,920.6 503.5,921.0 503.9,919.1 504.2,922.4 504.6,919.7 504.9,920.2 505.2,921.2 505.6,920.3 505.9,921.4 506.3,921.0 506.6,921.5 507.0,920.3 507.3,921.6 507.6,921.4 508.0,919.9 508.3,922.2 508.7,921.4 509.0,920.5 509.3,919.6 509.7,920.9 510.0,920.1 510.4,921.7 510.7,922.2 511.1,922.2 511.4,920.3 511.7,921.5 512.1,921.0 512.4,920.5 512.8,921.4 513.1,922.1 513.5,922.2 513.8,921.1 514.1,921.9 514.5,920.7 514.8,920.5 515.2,920.6 515.5,921.7 515.8,920.3 516.2,923.0 516.5,919.9 516.9,921.4 517.1,921.6 517.2,920.9 517.6,920.9 517.7,922.3 517.9,920.9 518.2,921.7 518.3,922.8 518.6,920.4 518.9,921.4 518.9,920.2 519.3,919.9 519.5,920.5 519.6,918.8 520.0,920.6 520.1,916.8 520.3,916.8 520.6,916.2 520.8,917.8 521.0,918.2 521.3,918.5 521.4,918.3 521.7,918.5 522.0,920.9 522.0,919.7 522.3,919.3 522.6,921.7 522.7,922.7 523.0,920.7 523.2,920.7 523.4,920.3 523.7,921.5 523.8,921.2 524.1,921.9 524.4,921.1 524.4,921.1 524.7,921.5 525.1,921.9 525.4,922.1 525.8,921.9 526.1,921.0 526.4,919.6 526.8,921.5 527.1,923.3 527.5,922.5 527.8,922.2 528.2,922.5 528.5,920.3 528.8,920.3 529.2,922.7 529.5,921.9 529.9,921.4 530.2,921.7 530.6,920.2 530.9,921.8 531.2,923.5 531.6,923.3 531.9,922.1 532.3,922.0 532.6,921.9 532.9,921.2 533.3,922.5 533.6,920.7 534.0,923.1 534.3,920.3 534.7,921.4 535.0,922.8 535.3,922.8 535.7,921.4 536.0,923.3 536.4,923.5 536.7,923.0 537.1,923.3 537.4,921.4 537.7,921.5 538.1,922.2 538.4,922.7 538.8,921.7 539.1,920.7 539.4,923.1 539.8,923.2 540.1,922.0 540.5,921.6 540.8,922.5 541.2,922.2 541.5,922.9 541.8,921.9 542.2,922.6 542.5,920.9 542.9,922.6 543.2,922.9 543.5,922.6 543.9,921.2 544.2,921.2 544.6,920.9 544.9,921.6 545.3,920.3 545.6,921.5 545.9,922.6 546.3,923.9 546.6,921.6 547.0,921.8 547.3,921.0 547.3,920.7 547.7,921.1 547.9,922.2 548.0,922.0 548.3,921.9 548.4,921.1 548.7,920.1 548.9,919.8 549.0,918.5 549.4,915.4 549.4,915.6 549.7,911.1 549.9,908.4 550.0,906.9 550.4,904.3 550.4,904.8 550.7,905.4 550.9,907.7 551.1,911.5 551.4,915.9 551.4,915.2 551.8,918.1 551.9,918.7 552.1,918.6 552.4,921.3 552.4,920.3 552.8,921.0 552.9,921.0 553.1,922.6 553.4,921.1 553.5,922.0 553.8,922.5 554.2,922.7 554.5,922.4 554.8,921.7 555.2,922.8 555.5,922.4 555.9,921.2 556.2,922.5 556.5,922.0 556.9,924.1 557.2,921.9 557.6,923.4 557.9,921.6 558.3,923.7 558.6,923.6 558.8,929.5"/>
<line x1="64.8" y1="929.5" x2="64.8" y2="888.8" stroke="#66ee66" stroke-width="1.5"/>
<line x1="558.8" y1="929.5" x2="558.6" y2="923.6" stroke="#00ff00" stroke-width="1.5"/>
<polyline fill="none" stroke="#00ff00" stroke-width="2.8" stroke-linejoin="round" points="64.8,888.8 65.1,887.5 65.4,885.2 65.8,884.2 66.1,891.1 66.5,888.6 66.8,890.3 67.1,885.0 67.5,888.0 67.8,887.2 68.2,888.1 68.5,887.1 68.9,885.6 69.2,885.8 69.5,890.0 69.9,884.6 70.2,889.3 70.6,886.5 70.9,885.8 71.2,890.0 71.6,887.3 71.9,888.0 72.3,888.4 72.6,887.3 73.0,885.5 73.3,886.4 73.6,887.3 74.0,889.7 74.3,888.7 74.7,889.1 75.0,891.1 75.4,889.4 75.7,890.0 76.0,889.0 76.4,886.7 76.7,883.9 77.1,889.5 77.4,890.0 77.7,888.7 78.1,888.7 78.4,886.4 78.8,886.3 79.1,891.6 79.5,888.3 79.8,889.9 80.1,887.6 80.5,891.6 80.8,891.1 81.2,890.4 81.5,885.5 81.8,889.6 82.2,892.6 82.5,891.2 82.9,893.2 83.2,886.9 83.6,887.3 83.9,890.9 84.2,886.9 84.6,889.1 84.9,890.8 85.3,890.5 85.6,889.8 86.0,887.5 86.3,891.3 86.6,888.1 87.0,889.5 87.3,893.4 87.7,894.0 88.0,887.8 88.3,889.1 88.7,892.7 89.0,885.6 89.4,888.0 89.7,888.7 90.1,889.3 90.4,887.8 90.7,888.6 91.1,888.6 91.4,892.5 91.8,884.1 92.1,888.8 92.5,892.2 92.8,888.6 93.1,889.2 93.5,888.2 93.8,887.3 94.2,890.4 94.5,889.6 94.8,890.2 95.2,886.0 95.5,889.8 95.9,887.0 96.2,891.3 96.6,887.9 96.9,886.7 97.2,889.3 97.6,886.0 97.9,889.0 98.3,890.9 98.6,887.4 98.9,887.7 99.3,892.6 99.6,885.6 100.0,889.4 100.3,889.9 100.7,886.4 101.0,884.7 101.3,890.4 101.7,887.9 102.0,887.8 102.4,886.0 102.7,889.7 103.1,889.0 103.4,889.5 103.7,889.2 104.1,888.8 104.4,888.1 104.8,888.7 105.1,890.3 105.4,887.1 105.8,891.7 106.1,886.8 106.5,889.0 106.8,887.2 107.2,890.5 107.5,886.7 107.8,888.1 108.2,885.8 108.5,888.2 108.9,890.3 109.2,889.5 109.6,891.0 109.9,890.5 110.2,884.7 110.6,887.0 110.9,885.6 111.3,883.9 111.6,886.6 111.9,888.3 112.3,890.8 112.6,892.8 113.0,887.3 113.3,887.4 113.7,891.5 114.0,888.8 114.3,889.3 114.7,885.5 115.0,890.6 115.4,887.3 115.7,888.0 116.0,891.9 116.4,887.2 116.7,887.9 117.1,889.7 117.4,890.3 117.8,891.5 118.1,891.1 118.4,886.3 118.8,887.7 119.1,891.2 119.5,892.5 119.8,887.1 120.2,887.3 120.5,890.4 120.8,891.0 121.2,892.4 121.5,889.2 121.9,888.9 122.2,885.0 122.5,890.6 122.9,890.8 123.2,890.5 123.6,887.1 123.9,892.4 124.3,890.3 124.6,888.9 124.9,890.4 125.3,888.4 125.6,887.5 126.0,888.9 126.3,889.5 126.7,890.8 127.0,887.6 127.3,892.8 127.7,889.6 128.0,893.1 128.4,887.9 128.7,891.5 129.0,888.4 129.4,889.2 129.7,892.4 130.1,892.4 130.4,892.2 130.8,888.2 131.1,892.6 131.4,892.4 131.8,891.6 132.1,890.1 132.5,893.3 132.8,889.7 133.1,890.1 133.5,891.7 133.8,893.3 134.2,892.2 134.5,893.1 134.9,891.6 135.2,891.5 135.5,891.9 135.9,889.2 136.2,890.8 136.6,888.1 136.9,891.8 137.3,892.3 137.6,888.4 137.9,891.5 138.3,894.2 138.6,892.0 139.0,890.4 139.3,892.7 139.6,891.9 140.0,889.2 140.3,890.3 140.7,888.7 141.0,891.3 141.4,891.1 141.7,896.8 142.0,892.2 142.4,895.9 142.7,893.3 143.1,893.2 143.4,893.9 143.8,894.2 144.1,892.1 144.4,895.7 144.8,897.6 145.1,890.9 145.5,894.6 145.8,891.9 146.1,894.0 146.5,894.4 146.8,895.8 147.2,890.4 147.5,894.1 147.9,893.7 148.2,895.0 148.5,896.3 148.9,892.3 149.2,893.6 149.6,893.8 149.9,895.7 150.2,894.7 150.6,896.6 150.9,894.5 151.3,896.1 151.6,898.4 152.0,897.5 152.3,890.9 152.6,895.7 153.0,898.5 153.3,896.4 153.7,899.1 154.0,899.1 154.4,896.9 154.7,893.3 155.0,895.4 155.4,898.3 155.7,895.2 156.1,895.2 156.4,894.0 156.7,899.9 157.1,897.6 157.4,892.9 157.8,897.1 158.1,895.8 158.5,895.7 158.8,897.4 159.1,898.1 159.5,895.4 159.8,893.8 160.2,894.6 160.5,898.9 160.9,898.8 161.2,899.7 161.5,901.2 161.9,897.3 162.2,895.6 162.6,895.4 162.9,901.2 163.2,898.2 163.6,899.7 163.9,898.2 164.3,902.2 164.6,898.9 165.0,898.1 165.3,898.8 165.6,900.6 166.0,902.8 166.3,898.3 166.7,899.0 167.0,900.9 167.3,901.9 167.7,900.7 168.0,901.3 168.4,900.6 168.7,900.6 169.1,898.6 169.4,902.9 169.7,897.6 170.1,900.3 170.4,901.0 170.8,899.3 171.1,901.7 171.5,899.9 171.8,901.8 172.1,898.2 172.5,906.2 172.8,900.2 173.2,901.1 173.5,899.4 173.8,905.9 174.2,902.2 174.5,900.9 174.9,902.1 175.2,898.9 175.6,903.4 175.9,899.8 176.2,901.7 176.6,902.5 176.9,905.2 177.3,901.5 177.6,904.2 178.0,899.8 178.3,904.5 178.6,900.7 179.0,906.3 179.3,904.6 179.7,904.4 180.0,904.0 180.3,902.0 180.7,904.1 181.0,901.3 181.4,899.6 181.7,905.0 182.1,905.9 182.4,903.7 182.7,899.6 183.1,904.8 183.4,901.4 183.8,904.0 184.1,901.4 184.4,904.5 184.8,903.1 185.1,903.4 185.5,904.2 185.8,902.9 186.2,904.9 186.5,905.6 186.8,906.8 187.2,903.3 187.5,906.5 187.9,905.6 188.2,906.9 188.6,906.2 188.9,903.8 189.2,905.7 189.6,904.2 189.9,907.0 190.3,904.7 190.6,906.0 190.9,902.8 191.3,905.0 191.6,905.9 192.0,906.5 192.3,902.7 192.7,907.6 193.0,904.9 193.3,903.3 193.7,904.3 194.0,904.4 194.4,906.8 194.7,906.7 195.1,905.6 195.4,905.5 195.7,906.1 196.1,904.4 196.4,906.5 196.8,905.2 197.1,904.0 197.4,903.4 197.8,907.1 198.1,906.5 198.5,907.0 198.8,906.1 199.2,907.5 199.5,905.6 199.8,904.6 200.2,905.7 200.5,909.8 200.9,905.1 201.2,905.3 201.5,908.5 201.9,907.5 202.2,907.9 202.6,906.0 202.9,904.1 203.3,907.5 203.6,904.9 203.9,908.5 204.3,906.1 204.6,908.6 205.0,905.7 205.3,908.3 205.7,906.3 206.0,908.4 206.3,905.4 206.7,908.8 207.0,908.1 207.4,904.6 207.7,906.7 208.0,907.5 208.4,908.2 208.7,907.5 209.1,909.5 209.4,908.3 209.8,904.9 210.1,909.1 210.4,906.3 210.8,906.9 211.1,908.6 211.5,908.5 211.8,907.7 212.2,908.4 212.5,908.6 212.8,908.5 213.2,910.1 213.5,906.3 213.9,909.6 214.2,909.1 214.5,908.5 214.9,909.2 215.2,909.5 215.6,909.2 215.9,910.0 216.3,910.9 216.6,905.7 216.9,908.9 217.3,907.6 217.6,909.4 218.0,910.5 218.3,908.5 218.6,912.3 219.0,908.8 219.3,910.6 219.7,909.3 220.0,907.9 220.4,913.0 220.7,910.6 221.0,909.1 221.4,910.8 221.7,910.9 222.1,908.5 222.4,910.0 222.8,909.3 223.1,908.8 223.4,910.1 223.8,911.1 224.1,908.9 224.5,907.6 224.8,911.8 225.1,909.2 225.5,910.6 225.8,912.0 226.2,911.5 226.5,910.7 226.9,910.5 227.2,913.6 227.5,910.6 227.9,910.6 228.2,909.1 228.6,909.3 228.9,909.9 229.3,910.1 229.6,909.5 229.9,908.7 230.3,909.0 230.4,908.3 230.6,910.4 230.9,910.7 231.0,912.9 231.3,907.8 231.4,910.8 231.6,908.1 231.9,909.9 232.0,905.8 232.3,903.7 232.5,902.8 232.7,904.4 233.0,898.5 233.0,900.4 233.4,897.0 233.5,898.1 233.7,897.8 234.0,900.2 234.0,902.9 234.4,903.2 234.5,904.3 234.7,907.1 235.0,908.1 235.1,907.1 235.4,910.2 235.5,911.4 235.7,907.4 236.0,911.4 236.1,912.4 236.4,911.0 236.5,909.8 236.8,908.7 237.1,908.9 237.5,910.6 237.8,912.2 238.1,911.0 238.5,910.9 238.8,910.8 239.2,912.5 239.5,913.6 239.9,910.0 240.2,911.6 240.5,909.8 240.9,912.0 241.2,913.3 241.6,911.1 241.9,911.6 242.2,911.3 242.6,913.0 242.9,913.2 243.3,911.8 243.6,909.1 244.0,911.3 244.3,910.5 244.6,911.9 245.0,911.3 245.3,912.7 245.7,911.8 246.0,910.7 246.4,911.4 246.7,911.1 247.0,912.3 247.4,912.5 247.7,909.6 248.1,912.7 248.4,909.7 248.7,911.8 249.1,912.9 249.4,911.5 249.8,911.9 250.1,912.1 250.5,912.6 250.8,911.5 251.1,912.5 251.5,912.3 251.8,909.7 252.2,911.9 252.5,912.4 252.8,914.1 253.2,913.9 253.5,912.7 253.9,912.1 254.2,913.0 254.6,912.8 254.9,913.3 255.2,912.2 255.6,914.1 255.9,912.6 256.3,911.1 256.6,912.7 257.0,912.9 257.3,913.9 257.6,913.1 258.0,914.3 258.3,912.4 258.7,913.6 259.0,915.2 259.3,914.6 259.7,911.4 260.0,913.4 260.4,913.6 260.7,913.9 261.1,911.5 261.4,912.8 261.7,913.9 262.1,913.1 262.4,909.8 262.8,914.4 263.1,912.5 263.5,913.2 263.8,912.0 264.1,915.3 264.5,914.2 264.8,913.2 265.2,911.5 265.5,913.5 265.8,912.5 266.2,913.6 266.5,917.1 266.9,911.1 267.2,915.9 267.6,914.6 267.9,911.5 268.2,912.4 268.6,913.8 268.9,914.1 269.3,914.0 269.6,914.5 269.9,913.9 270.3,911.7 270.6,913.4 271.0,915.8 271.3,913.6 271.7,912.7 272.0,912.8 272.3,912.7 272.7,911.7 273.0,910.8 273.4,912.4 273.7,911.6 274.1,912.5 274.4,912.2 274.7,912.3 275.1,911.5 275.4,910.3 275.8,911.3 276.1,909.5 276.4,909.9 276.8,906.5 276.8,908.7 277.1,904.8 277.2,905.2 277.5,902.0 277.5,902.3 277.8,894.0 277.9,887.3 278.2,868.5 278.3,852.2 278.5,830.5 278.7,809.7 278.8,795.5 279.1,785.5 279.2,788.6 279.4,810.3 279.5,817.1 279.8,853.1 279.9,855.0 280.2,884.9 280.2,884.3 280.6,901.4 280.6,902.9 280.9,904.4 281.0,907.7 281.2,908.1 281.4,907.5 281.6,907.8 281.9,909.3 282.3,908.4 282.6,911.3 282.9,911.7 283.3,909.8 283.6,912.8 284.0,912.8 284.3,913.5 284.7,913.4 285.0,913.7 285.3,913.8 285.7,911.6 286.0,914.3 286.4,915.0 286.7,911.7 287.0,913.3 287.4,912.3 287.7,915.1 288.1,912.5 288.4,912.7 288.8,911.7 289.1,912.0 289.4,915.7 289.8,912.5 290.1,912.2 290.5,912.1 290.8,916.2 291.2,913.4 291.5,916.7 291.8,912.5 292.2,913.4 292.5,913.3 292.9,912.5 293.2,914.8 293.5,915.9 293.9,914.8 294.2,914.1 294.6,913.3 294.9,915.1 295.3,915.6 295.6,912.5 295.9,915.3 296.3,913.6 296.6,913.3 297.0,915.3 297.3,914.1 297.7,912.1 298.0,912.0 298.3,912.3 298.7,912.9 299.0,916.4 299.4,913.3 299.7,912.3 300.0,911.5 300.4,916.0 300.7,914.5 301.1,913.5 301.4,914.9 301.8,916.0 302.1,915.3 302.4,914.4 302.8,917.0 303.1,913.3 303.5,914.7 303.8,914.3 304.1,912.6 304.5,914.5 304.8,913.1 305.2,914.8 305.5,914.6 305.9,915.9 306.2,914.8 306.5,915.2 306.9,911.4 307.2,914.6 307.6,915.4 307.9,913.6 308.3,912.1 308.6,914.7 308.9,916.1 309.3,915.3 309.6,914.2 310.0,915.9 310.3,915.3 310.6,914.7 311.0,914.7 311.3,914.9 311.7,915.4 312.0,916.0 312.4,914.8 312.7,916.2 313.0,912.3 313.4,914.5 313.7,915.4 314.1,917.1 314.4,914.8 314.8,916.7 315.1,915.9 315.4,914.5 315.8,914.0 316.1,915.6 316.5,914.5 316.8,915.0 317.1,911.9 317.5,915.4 317.8,914.7 318.2,915.3 318.5,914.9 318.9,914.8 319.2,914.3 319.5,914.6 319.9,915.3 320.2,915.3 320.6,915.3 320.9,917.8 321.2,914.8 321.6,915.9 321.9,914.3 322.3,913.5 322.6,916.0 323.0,915.6 323.3,913.8 323.6,918.3 324.0,914.1 324.3,914.9 324.7,914.2 325.0,917.0 325.4,914.4 325.7,914.1 326.0,914.1 326.4,914.3 326.7,915.4 327.1,915.5 327.4,913.1 327.7,915.5 328.1,915.3 328.4,914.3 328.8,914.5 329.1,914.9 329.5,917.5 329.8,913.7 330.1,916.5 330.5,917.0 330.8,916.7 331.2,917.3 331.5,917.3 331.9,917.5 332.2,915.5 332.5,916.4 332.9,915.1 333.2,916.7 333.6,916.0 333.9,915.7 334.2,913.3 334.6,915.8 334.9,915.1 335.3,915.3 335.6,916.9 336.0,915.3 336.3,916.0 336.6,914.9 337.0,915.3 337.3,916.9 337.7,914.0 338.0,914.3 338.3,917.9 338.7,916.1 339.0,914.7 339.4,914.8 339.7,914.9 340.1,917.0 340.4,915.6 340.7,918.4 341.1,916.3 341.4,916.4 341.8,916.8 342.1,916.5 342.5,916.7 342.8,918.4 343.1,915.9 343.5,915.2 343.8,916.5 344.2,915.9 344.5,917.1 344.8,917.6 345.2,918.4 345.5,914.9 345.9,917.4 346.2,916.8 346.6,917.9 346.9,916.2 347.2,916.5 347.6,919.0 347.9,914.3 348.3,917.6 348.6,916.7 349.0,918.7 349.3,915.1 349.6,917.5 350.0,915.9 350.3,916.1 350.7,918.7 351.0,914.9 351.3,918.8 351.7,917.5 352.0,917.5 352.4,917.7 352.7,919.5 353.1,915.5 353.4,918.5 353.7,916.7 354.1,915.3 354.4,915.9 354.8,915.2 355.1,914.7 355.4,916.0 355.8,917.2 356.1,918.1 356.5,918.5 356.8,917.7 357.2,918.5 357.5,919.4 357.8,918.1 358.2,917.1 358.5,915.7 358.9,917.9 359.2,917.5 359.6,918.1 359.9,917.9 360.2,918.4 360.6,917.2 360.9,917.8 361.3,918.0 361.6,917.2 361.9,916.6 362.3,917.1 362.6,917.5 363.0,915.1 363.3,918.7 363.7,917.6 364.0,919.1 364.3,916.2 364.7,915.9 365.0,916.2 365.4,916.7 365.7,917.2 366.1,920.1 366.4,918.5 366.7,918.9 367.1,918.7 367.4,918.4 367.8,917.6 368.1,917.5 368.4,918.5 368.8,917.6 369.1,916.9 369.5,920.1 369.8,916.9 370.2,916.4 370.5,917.6 370.8,916.7 371.2,917.5 371.5,917.4 371.9,917.0 372.2,919.0 372.5,917.3 372.9,918.3 373.2,917.1 373.6,918.3 373.9,918.2 374.3,919.1 374.6,918.6 374.9,917.4 375.3,918.0 375.6,917.5 376.0,919.1 376.3,918.2 376.7,917.7 377.0,916.4 377.3,918.8 377.7,917.1 378.0,917.7 378.4,919.3 378.7,918.0 379.0,917.8 379.4,918.1 379.7,921.0 380.1,919.0 380.4,917.3 380.8,918.2 381.1,918.7 381.4,917.2 381.8,917.4 382.1,920.1 382.5,917.7 382.8,918.4 383.2,920.9 383.5,917.6 383.8,917.8 384.2,919.7 384.5,918.3 384.9,919.1 385.2,919.2 385.5,918.8 385.9,919.0 386.2,919.6 386.6,919.7 386.9,917.8 387.3,917.3 387.6,917.9 387.9,919.4 388.3,918.8 388.6,917.8 389.0,918.9 389.3,919.8 389.6,920.4 390.0,917.0 390.3,916.3 390.7,918.9 391.0,918.9 391.4,918.0 391.7,918.9 392.0,917.6 392.4,918.9 392.7,920.1 393.1,917.6 393.4,917.8 393.8,918.2 394.1,919.5 394.4,916.9 394.8,918.1 395.1,919.1 395.5,917.8 395.8,918.5 396.1,918.6 396.5,918.7 396.8,918.2 397.2,917.9 397.5,916.6 397.9,920.7 398.2,917.5 398.5,917.4 398.9,919.1 399.2,917.7 399.6,919.7 399.9,918.9 400.3,920.4 400.6,920.9 400.9,920.2 401.3,917.4 401.6,918.0 402.0,919.4 402.3,917.5 402.6,918.8 403.0,917.3 403.3,919.8 403.7,920.0 404.0,916.5 404.4,915.7 404.7,917.5 405.0,917.0 405.4,918.9 405.7,919.6 406.1,916.5 406.4,919.2 406.7,919.6 407.1,917.4 407.4,921.0 407.8,918.0 408.1,919.5 408.5,918.8 408.8,918.5 409.1,918.5 409.5,917.7 409.8,920.1 410.2,919.5 410.5,918.6 410.9,918.3 411.2,919.6 411.5,917.6 411.9,919.6 412.2,918.8 412.6,919.1 412.9,919.8 413.2,919.0 413.6,919.2 413.9,919.7 414.3,919.4 414.6,921.8 415.0,919.4 415.3,918.6 415.6,919.1 416.0,919.4 416.3,918.1 416.7,917.4 417.0,918.8 417.4,917.0 417.7,918.0 418.0,918.6 418.4,918.6 418.7,917.9 419.1,919.5 419.4,917.7 419.7,918.6 420.1,920.2 420.4,919.9 420.8,919.8 421.1,920.1 421.5,918.2 421.8,916.7 422.1,917.3 422.5,917.6 422.8,918.1 423.2,917.0 423.5,918.0 423.8,918.5 424.2,916.9 424.2,917.1 424.5,916.5 424.6,915.7 424.9,917.0 425.0,916.8 425.2,910.6 425.4,910.2 425.6,904.8 425.8,895.6 425.9,891.6 426.1,882.7 426.2,878.0 426.5,872.0 426.6,873.0 426.9,882.0 426.9,884.1 427.3,897.5 427.3,899.1 427.6,908.4 427.6,910.6 428.0,913.6 428.0,914.7 428.3,917.5 428.4,916.9 428.6,915.6 428.8,917.3 429.0,917.8 429.3,917.5 429.7,916.5 430.0,918.4 430.3,919.6 430.7,919.2 431.0,919.4 431.4,920.4 431.7,919.0 432.1,920.2 432.4,919.5 432.7,919.8 433.1,919.7 433.4,920.5 433.8,921.0 434.1,918.8 434.5,919.1 434.8,920.9 435.1,920.8 435.5,919.1 435.8,921.1 436.2,921.9 436.5,920.5 436.8,919.7 437.2,918.6 437.5,921.9 437.9,919.6 438.2,922.3 438.6,921.9 438.9,919.7 439.2,921.2 439.6,921.9 439.9,919.3 440.3,920.3 440.6,922.0 440.9,919.7 441.3,919.3 441.6,922.2 442.0,920.3 442.3,919.9 442.7,922.1 443.0,920.1 443.3,920.6 443.7,921.5 444.0,922.4 444.4,921.5 444.7,921.9 445.1,920.9 445.4,922.7 445.7,920.0 446.1,923.0 446.4,920.7 446.8,922.7 447.1,921.7 447.4,920.8 447.8,919.1 448.1,919.0 448.5,919.7 448.8,919.9 449.2,920.5 449.5,920.5 449.8,920.8 450.2,919.6 450.5,919.4 450.9,920.2 451.2,919.4 451.6,919.2 451.9,920.2 452.2,920.7 452.6,921.4 452.9,919.8 453.3,921.0 453.6,919.5 453.9,922.6 454.3,919.6 454.6,920.8 455.0,919.2 455.3,920.6 455.7,921.6 456.0,920.7 456.3,920.4 456.7,923.4 457.0,920.4 457.4,920.7 457.7,920.0 458.0,920.0 458.4,922.7 458.7,919.7 459.1,922.0 459.4,921.5 459.8,919.8 460.1,919.4 460.4,920.8 460.8,920.4 461.1,919.8 461.5,921.3 461.8,921.4 462.2,919.9 462.5,920.4 462.8,920.0 463.2,919.9 463.5,919.0 463.9,921.3 464.2,919.7 464.5,920.4 464.9,920.7 465.2,921.6 465.6,922.4 465.9,921.8 466.3,921.5 466.6,922.4 466.9,922.4 467.3,920.5 467.6,920.7 468.0,920.1 468.3,921.4 468.7,922.4 469.0,918.7 469.3,919.9 469.7,919.8 470.0,920.5 470.4,919.5 470.7,919.3 471.0,921.5 471.4,920.5 471.7,920.0 472.1,919.9 472.4,922.7 472.8,921.3 473.1,920.5 473.4,921.5 473.8,921.0 474.1,921.2 474.5,923.0 474.8,920.9 475.1,919.3 475.5,920.3 475.8,921.9 476.2,923.2 476.5,921.3 476.9,922.4 477.2,920.6 477.5,922.2 477.9,921.4 478.2,920.6 478.6,918.5 478.9,919.5 479.3,921.6 479.6,921.1 479.9,920.5 480.3,920.6 480.6,920.3 481.0,920.9 481.3,919.0 481.6,920.7 482.0,920.1 482.3,919.1 482.7,919.5 483.0,921.7 483.4,921.2 483.7,921.0 484.0,920.5 484.4,921.0 484.7,919.1 485.1,922.1 485.4,920.2 485.8,920.0 486.1,919.7 486.4,921.8 486.8,920.1 487.1,920.5 487.5,919.7 487.8,920.2 488.1,923.0 488.5,919.1 488.8,919.9 489.2,921.1 489.5,920.7 489.9,921.2 490.2,920.8 490.5,920.4 490.9,919.2 491.2,920.8 491.6,918.9 491.9,921.6 492.2,919.0 492.6,920.4 492.9,920.5 493.3,918.9 493.6,921.3 494.0,922.9 494.3,921.1 494.6,921.2 495.0,922.6 495.3,921.9 495.7,919.5 496.0,921.4 496.4,919.1 496.7,921.6 497.0,922.2 497.4,922.4 497.7,920.6 498.1,920.6 498.4,920.4 498.7,920.5 499.1,920.7 499.4,919.7 499.8,921.2 500.1,919.7 500.5,921.6 500.8,923.1 501.1,921.7 501.5,921.3 501.8,920.3 502.2,919.7 502.5,918.9 502.9,922.0 503.2,920.6 503.5,921.0 503.9,919.1 504.2,922.4 504.6,919.7 504.9,920.2 505.2,921.2 505.6,920.3 505.9,921.4 506.3,921.0 506.6,921.5 507.0,920.3 507.3,921.6 507.6,921.4 508.0,919.9 508.3,922.2 508.7,921.4 509.0,920.5 509.3,919.6 509.7,920.9 510.0,920.1 510.4,921.7 510.7,922.2 511.1,922.2 511.4,920.3 511.7,921.5 512.1,921.0 512.4,920.5 512.8,921.4 513.1,922.1 513.5,922.2 513.8,921.1 514.1,921.9 514.5,920.7 514.8,920.5 515.2,920.6 515.5,921.7 515.8,920.3 516.2,923.0 516.5,919.9 516.9,921.4 517.1,921.6 517.2,920.9 517.6,920.9 517.7,922.3 517.9,920.9 518.2,921.7 518.3,922.8 518.6,920.4 518.9,921.4 518.9,920.2 519.3,919.9 519.5,920.5 519.6,918.8 520.0,920.6 520.1,916.8 520.3,916.8 520.6,916.2 520.8,917.8 521.0,918.2 521.3,918.5 521.4,918.3 521.7,918.5 522.0,920.9 522.0,919.7 522.3,919.3 522.6,921.7 522.7,922.7 523.0,920.7 523.2,920.7 523.4,920.3 523.7,921.5 523.8,921.2 524.1,921.9 524.4,921.1 524.4,921.1 524.7,921.5 525.1,921.9 525.4,922.1 525.8,921.9 526.1,921.0 526.4,919.6 526.8,921.5 527.1,923.3 527.5,922.5 527.8,922.2 528.2,922.5 528.5,920.3 528.8,920.3 529.2,922.7 529.5,921.9 529.9,921.4 530.2,921.7 530.6,920.2 530.9,921.8 531.2,923.5 531.6,923.3 531.9,922.1 532.3,922.0 532.6,921.9 532.9,921.2 533.3,922.5 533.6,920.7 534.0,923.1 534.3,920.3 534.7,921.4 535.0,922.8 535.3,922.8 535.7,921.4 536.0,923.3 536.4,923.5 536.7,923.0 537.1,923.3 537.4,921.4 537.7,921.5 538.1,922.2 538.4,922.7 538.8,921.7 539.1,920.7 539.4,923.1 539.8,923.2 540.1,922.0 540.5,921.6 540.8,922.5 541.2,922.2 541.5,922.9 541.8,921.9 542.2,922.6 542.5,920.9 542.9,922.6 543.2,922.9 543.5,922.6 543.9,921.2 544.2,921.2 544.6,920.9 544.9,921.6 545.3,920.3 545.6,921.5 545.9,922.6 546.3,923.9 546.6,921.6 547.0,921.8 547.3,921.0 547.3,920.7 547.7,921.1 547.9,922.2 548.0,922.0 548.3,921.9 548.4,921.1 548.7,920.1 548.9,919.8 549.0,918.5 549.4,915.4 549.4,915.6 549.7,911.1 549.9,908.4 550.0,906.9 550.4,904.3 550.4,904.8 550.7,905.4 550.9,907.7 551.1,911.5 551.4,915.9 551.4,915.2 551.8,918.1 551.9,918.7 552.1,918.6 552.4,921.3 552.4,920.3 552.8,921.0 552.9,921.0 553.1,922.6 553.4,921.1 553.5,922.0 553.8,922.5 554.2,922.7 554.5,922.4 554.8,921.7 555.2,922.8 555.5,922.4 555.9,921.2 556.2,922.5 556.5,922.0 556.9,924.1 557.2,921.9 557.6,923.4 557.9,921.6 558.3,923.7 558.6,923.6"/>
<polygon fill="#fff" points="25.2,979.7 25.2,948.1 25.6,949.5 25.9,951.1 26.3,952.8 26.6,949.6 27.0,950.0 27.3,951.3 27.6,951.1 28.0,952.2 28.3,951.0 28.7,950.7 29.0,948.1 29.4,952.1 29.7,952.5 30.0,953.9 30.4,953.9 30.7,953.1 31.1,948.1 31.4,954.6 31.7,949.8 32.1,954.8 32.4,948.2 32.8,950.7 33.1,950.8 33.5,949.0 33.8,949.7 34.1,950.4 34.5,950.6 34.8,950.8 35.2,953.3 35.5,953.7 35.9,946.6 36.2,950.2 36.5,948.9 36.9,950.8 37.2,947.1 37.6,950.6 37.9,948.2 38.2,950.3 38.6,951.6 38.9,953.6 39.3,950.8 39.6,953.2 40.0,951.7 40.3,949.0 40.6,951.2 41.0,949.0 41.3,950.3 41.7,951.9 42.0,950.8 42.3,951.1 42.7,949.0 43.0,949.5 43.4,950.9 43.7,951.4 44.1,954.3 44.4,951.4 44.7,949.5 45.1,952.1 45.4,951.8 45.8,951.6 46.1,950.4 46.5,951.8 46.8,950.7 47.1,953.9 47.5,949.0 47.8,949.1 48.2,953.5 48.5,947.0 48.8,951.4 49.2,947.7 49.5,952.9 49.9,950.1 50.2,949.5 50.6,953.0 50.9,950.6 51.2,951.5 51.6,950.6 51.9,950.2 52.3,953.9 52.6,950.9 53.0,950.7 53.3,952.4 53.6,949.8 54.0,949.5 54.3,950.6 54.7,953.6 55.0,950.9 55.3,949.7 55.7,950.5 56.0,952.2 56.4,950.5 56.7,949.3 57.1,951.7 57.4,947.3 57.7,952.8 58.1,949.7 58.4,953.9 58.8,949.3 59.1,950.0 59.4,948.1 59.8,950.9 60.1,949.2 60.5,948.9 60.8,951.6 61.2,947.1 61.5,949.8 61.8,949.5 62.2,949.8 62.5,953.5 62.9,948.0 63.2,947.3 63.6,952.0 63.9,950.5 64.2,946.9 64.6,946.7 64.9,949.4 65.3,951.2 65.6,953.1 65.9,949.0 66.3,952.2 66.6,949.6 67.0,949.7 67.3,948.1 67.7,950.7 68.0,946.7 68.3,950.4 68.7,948.1 69.0,948.4 69.4,951.9 69.7,950.6 70.1,947.6 70.4,948.4 70.7,949.7 71.1,947.5 71.4,951.1 71.8,950.4 72.1,947.0 72.4,948.9 72.8,950.0 73.1,946.3 73.5,952.1 73.8,949.3 74.2,946.9 74.5,947.2 74.8,946.3 75.2,946.8 75.5,950.7 75.9,945.2 76.2,950.3 76.5,946.1 76.9,945.3 77.2,944.9 77.6,948.2 77.9,948.2 78.3,945.9 78.6,947.4 78.9,948.8 79.3,946.4 79.6,948.1 80.0,947.6 80.3,947.6 80.7,945.3 81.0,947.8 81.3,946.2 81.7,946.6 82.0,947.6 82.4,945.9 82.7,944.2 83.0,946.8 83.4,946.6 83.7,947.6 84.1,948.5 84.4,948.0 84.8,945.8 85.1,946.5 85.4,947.8 85.8,948.1 86.1,946.4 86.5,950.4 86.8,947.6 87.2,948.1 87.5,946.8 87.8,947.4 88.2,950.3 88.5,947.3 88.9,950.3 89.2,948.3 89.5,950.1 89.9,947.8 90.2,949.2 90.6,948.8 90.9,950.7 91.3,948.4 91.6,949.6 91.9,947.5 92.3,946.0 92.6,947.1 93.0,948.6 93.3,946.8 93.6,950.8 94.0,949.0 94.3,949.3 94.7,947.8 95.0,949.8 95.4,948.5 95.7,947.6 96.0,948.0 96.4,949.3 96.7,950.2 97.1,948.8 97.4,945.5 97.8,947.8 98.1,948.6 98.4,947.5 98.8,949.1 99.1,949.2 99.5,949.9 99.8,950.4 100.1,948.3 100.5,948.2 100.8,950.2 101.2,949.1 101.5,948.1 101.9,951.0 102.2,951.2 102.5,949.1 102.9,949.6 103.2,949.1 103.6,949.6 103.9,948.3 104.3,948.8 104.6,951.9 104.9,951.6 105.3,949.4 105.6,948.3 106.0,950.1 106.3,948.6 106.6,950.8 107.0,948.2 107.3,952.1 107.7,951.4 108.0,950.1 108.4,954.0 108.7,951.6 109.0,955.1 109.4,952.6 109.7,951.7 110.1,954.2 110.4,950.7 110.7,950.7 111.1,950.8 111.4,952.6 111.8,953.0 112.1,951.1 112.5,950.7 112.8,950.7 113.1,954.1 113.5,954.7 113.8,951.2 114.2,949.5 114.5,953.8 114.9,950.6 115.2,952.8 115.5,951.6 115.9,955.5 116.2,954.3 116.6,950.4 116.9,952.4 117.2,954.0 117.6,951.9 117.9,952.3 118.3,951.5 118.6,954.6 119.0,950.3 119.3,953.9 119.6,954.1 120.0,954.8 120.3,954.4 120.7,954.2 121.0,953.2 121.4,954.2 121.7,953.4 122.0,952.7 122.4,951.8 122.7,953.2 123.1,955.1 123.4,954.6 123.7,954.6 124.1,955.2 124.4,952.2 124.8,954.9 125.1,954.4 125.5,954.6 125.8,956.7 126.1,957.1 126.5,951.6 126.8,952.7 127.2,957.9 127.5,956.5 127.8,954.1 128.2,953.9 128.5,955.9 128.9,955.6 129.2,957.2 129.6,957.1 129.9,954.1 130.2,956.6 130.6,956.2 130.9,954.9 131.3,957.2 131.6,953.2 132.0,957.2 132.3,956.6 132.6,955.2 133.0,954.8 133.3,957.2 133.7,953.1 134.0,957.0 134.3,954.7 134.7,954.9 135.0,958.5 135.4,958.5 135.7,953.9 136.1,958.2 136.4,955.8 136.7,955.4 137.1,956.1 137.4,956.3 137.8,957.3 138.1,955.2 138.5,956.5 138.8,957.9 139.1,955.0 139.5,958.7 139.8,956.7 140.2,958.3 140.5,955.6 140.8,956.6 141.2,958.3 141.5,958.7 141.9,955.8 142.2,959.1 142.6,960.0 142.9,956.2 143.2,958.7 143.6,956.0 143.9,957.2 144.3,957.0 144.6,959.4 144.9,958.3 145.3,959.4 145.6,957.2 146.0,957.7 146.3,959.8 146.7,958.8 147.0,960.3 147.3,956.5 147.7,958.6 148.0,959.4 148.4,960.1 148.7,956.4 149.1,960.0 149.4,960.7 149.7,960.7 150.1,958.0 150.4,958.1 150.8,959.7 151.1,958.1 151.4,959.8 151.8,961.5 152.1,960.7 152.5,959.0 152.8,960.9 153.2,957.8 153.5,959.2 153.8,959.7 154.2,959.0 154.5,960.9 154.9,961.8 155.2,960.6 155.6,962.9 155.9,960.1 156.2,958.2 156.6,961.2 156.9,960.9 157.3,960.5 157.6,961.3 157.9,959.6 158.3,960.3 158.6,960.0 159.0,960.4 159.3,961.8 159.7,961.3 160.0,960.4 160.3,962.1 160.7,960.2 161.0,962.1 161.4,963.2 161.7,962.0 162.0,961.9 162.4,962.0 162.7,964.4 163.1,963.3 163.4,963.2 163.8,963.0 164.1,961.7 164.4,961.3 164.8,961.3 165.1,962.9 165.5,962.1 165.8,961.5 166.2,963.4 166.5,960.9 166.8,963.6 167.2,964.0 167.5,963.9 167.9,961.3 168.2,962.2 168.5,965.4 168.9,963.7 169.2,962.3 169.6,960.5 169.9,962.7 170.3,962.4 170.6,964.9 170.9,962.3 171.3,965.7 171.6,962.2 172.0,963.8 172.3,963.0 172.7,964.3 173.0,964.6 173.3,965.2 173.7,962.5 174.0,964.3 174.4,964.0 174.7,964.5 175.0,963.5 175.4,964.0 175.7,963.9 176.1,963.9 176.4,964.2 176.8,965.6 177.1,963.6 177.4,963.6 177.8,965.0 178.1,964.0 178.5,966.8 178.8,965.3 179.1,964.9 179.5,965.4 179.8,966.4 180.2,966.7 180.5,964.5 180.9,964.3 181.2,965.5 181.5,963.4 181.9,966.0 182.2,965.7 182.6,966.3 182.9,966.2 183.3,966.6 183.6,966.4 183.9,965.4 184.3,966.6 184.6,965.6 185.0,967.5 185.3,965.0 185.6,965.6 186.0,965.8 186.3,967.0 186.7,965.5 187.0,967.9 187.4,965.8 187.7,964.9 188.0,968.5 188.4,965.9 188.7,965.8 189.1,965.6 189.4,965.8 189.8,964.8 190.1,965.5 190.4,966.5 190.8,968.2 190.8,967.1 191.1,966.0 191.2,962.9 191.5,963.7 191.6,963.6 191.8,961.2 192.0,958.2 192.1,957.2 192.4,950.3 192.5,949.0 192.8,940.4 192.8,941.0 193.2,934.7 193.2,933.1 193.5,937.1 193.6,939.7 193.9,946.3 194.0,953.0 194.2,955.1 194.4,959.5 194.5,961.1 194.8,965.5 194.9,963.5 195.2,965.0 195.2,966.1 195.6,965.2 195.6,965.5 195.9,965.3 196.2,966.4 196.6,966.8 196.9,967.3 197.3,969.4 197.6,966.8 198.0,964.9 198.3,966.8 198.6,965.8 199.0,966.7 199.3,967.2 199.7,967.3 200.0,969.6 200.4,968.2 200.7,967.1 201.0,966.0 201.4,966.1 201.7,968.1 202.1,968.3 202.4,967.8 202.7,969.0 203.1,969.8 203.4,968.0 203.8,966.9 204.1,967.5 204.5,965.3 204.8,966.1 205.1,968.4 205.5,967.7 205.8,969.6 206.2,965.9 206.5,967.0 206.9,966.6 207.2,966.5 207.5,966.9 207.9,967.7 208.2,968.3 208.6,966.5 208.9,968.1 209.2,965.6 209.6,967.4 209.9,967.1 210.3,968.6 210.6,967.3 211.0,967.6 211.3,967.1 211.6,966.1 212.0,966.3 212.3,969.1 212.7,967.1 213.0,967.3 213.3,968.3 213.7,967.7 214.0,968.6 214.4,968.0 214.7,967.3 215.1,969.6 215.4,968.3 215.7,966.4 216.1,967.1 216.4,965.3 216.8,966.0 217.1,967.7 217.5,967.5 217.8,967.8 218.1,968.4 218.5,968.3 218.8,966.0 219.2,965.5 219.5,966.4 219.8,966.4 220.2,968.8 220.5,967.0 220.9,968.3 221.2,966.1 221.6,966.1 221.9,966.5 222.2,967.5 222.6,966.9 222.9,965.3 223.3,965.9 223.6,969.0 224.0,967.6 224.3,965.6 224.6,965.9 225.0,966.7 225.3,967.4 225.7,966.9 226.0,966.3 226.3,966.3 226.7,965.3 227.0,966.1 227.4,966.7 227.7,964.5 228.1,966.9 228.4,964.9 228.7,967.0 229.1,965.1 229.4,966.2 229.8,964.9 230.1,967.2 230.4,968.2 230.8,966.1 231.1,966.1 231.5,966.1 231.8,968.2 232.2,967.1 232.5,966.2 232.8,966.2 233.2,963.2 233.5,966.4 233.9,964.0 234.2,964.8 234.6,962.9 234.9,962.0 235.2,959.9 235.6,960.2 235.9,957.6 236.3,956.8 236.6,953.4 236.8,954.1 236.9,950.0 237.0,947.8 237.3,940.8 237.3,937.5 237.6,914.2 237.6,908.2 237.9,861.7 238.0,836.2 238.2,793.2 238.3,763.4 238.4,756.7 238.7,779.8 238.7,793.1 239.0,862.7 239.0,867.3 239.3,913.1 239.3,922.5 239.5,938.6 239.7,945.2 239.8,948.8 240.0,949.0 240.1,952.9 240.4,955.0 240.7,958.7 241.1,960.1 241.4,961.5 241.7,963.0 242.1,963.9 242.4,963.9 242.8,962.9 243.1,965.7 243.4,964.5 243.8,963.5 244.1,963.8 244.5,967.7 244.8,967.2 245.2,966.4 245.5,966.3 245.8,966.3 246.2,966.2 246.5,966.4 246.9,965.8 247.2,967.0 247.5,965.7 247.9,966.9 248.2,967.2 248.6,964.8 248.9,967.1 249.3,969.0 249.6,966.5 249.9,966.2 250.3,968.1 250.6,966.4 251.0,967.5 251.3,968.2 251.7,967.1 252.0,967.4 252.3,967.4 252.7,966.2 253.0,968.2 253.4,967.4 253.7,965.4 254.0,966.7 254.4,967.3 254.7,967.5 255.1,968.7 255.4,966.9 255.8,967.1 256.1,967.5 256.4,966.6 256.8,965.7 257.1,967.0 257.5,966.5 257.8,966.2 258.2,968.1 258.5,968.8 258.8,968.1 259.2,967.8 259.5,967.2 259.9,967.2 260.2,966.5 260.5,966.3 260.9,966.1 261.2,967.4 261.6,969.6 261.9,967.3 262.3,966.6 262.6,967.6 262.9,968.8 263.3,968.3 263.6,969.8 264.0,968.0 264.3,969.2 264.6,967.9 265.0,967.8 265.3,966.5 265.7,967.2 266.0,967.8 266.4,968.6 266.7,967.5 267.0,970.3 267.4,966.7 267.7,969.0 268.1,969.0 268.4,967.0 268.8,968.9 269.1,969.8 269.4,968.9 269.8,966.2 270.1,968.6 270.5,969.6 270.8,967.8 271.1,966.0 271.5,969.5 271.8,968.2 272.2,967.6 272.5,968.0 272.9,968.5 273.2,970.3 273.5,968.9 273.9,965.8 274.2,967.5 274.6,968.7 274.9,968.3 275.3,969.4 275.6,968.2 275.9,967.4 276.3,967.3 276.6,968.3 277.0,969.3 277.3,969.5 277.6,969.2 278.0,970.1 278.3,968.7 278.7,970.4 279.0,966.9 279.4,968.1 279.7,968.6 280.0,970.0 280.4,968.3 280.7,969.7 281.1,968.8 281.4,969.9 281.7,968.3 282.1,969.5 282.4,969.1 282.8,968.1 283.1,970.7 283.5,970.8 283.8,969.8 284.1,968.9 284.5,967.1 284.8,968.2 285.2,967.5 285.5,969.6 285.9,966.3 286.2,969.1 286.5,968.9 286.9,967.8 287.2,969.8 287.6,968.5 287.9,970.0 288.2,968.5 288.6,969.9 288.9,967.7 289.3,968.4 289.6,969.4 290.0,969.4 290.3,969.3 290.6,969.4 291.0,969.8 291.3,970.0 291.7,967.3 292.0,969.3 292.4,968.3 292.7,969.5 293.0,968.6 293.4,969.3 293.7,968.7 294.1,969.7 294.4,968.9 294.7,968.7 295.1,970.0 295.4,968.7 295.8,969.4 296.1,970.3 296.5,968.9 296.8,970.0 297.1,969.3 297.5,970.1 297.8,970.6 298.2,969.2 298.5,970.9 298.8,969.7 299.2,969.1 299.5,969.2 299.9,970.7 300.2,970.9 300.6,970.3 300.9,970.1 301.2,971.0 301.6,969.1 301.9,968.7 302.3,968.0 302.6,969.4 303.0,970.7 303.3,969.3 303.6,968.6 304.0,969.6 304.3,970.7 304.7,970.4 305.0,969.6 305.3,970.3 305.7,967.6 306.0,971.2 306.4,969.4 306.7,969.8 307.1,970.1 307.4,968.9 307.7,968.9 308.1,969.5 308.4,968.7 308.8,969.2 309.1,970.3 309.5,969.2 309.8,970.9 310.1,970.1 310.5,970.1 310.8,968.6 311.2,969.8 311.5,971.3 311.8,969.0 312.2,969.1 312.5,969.2 312.9,968.9 313.2,970.2 313.6,970.6 313.9,969.1 314.2,969.3 314.6,970.7 314.9,968.6 315.3,970.2 315.6,968.1 315.9,970.6 316.3,969.0 316.6,971.8 317.0,970.6 317.3,970.0 317.7,970.0 318.0,970.7 318.3,970.2 318.7,971.4 319.0,971.1 319.4,971.1 319.7,970.0 320.1,970.1 320.4,970.1 320.7,970.8 321.1,969.1 321.4,970.4 321.8,971.1 322.1,970.1 322.4,970.7 322.8,969.8 323.1,971.2 323.5,969.1 323.8,970.8 324.2,970.5 324.5,970.2 324.8,970.7 325.2,970.6 325.5,971.3 325.9,970.4 326.2,971.0 326.6,971.0 326.9,971.4 327.2,969.5 327.6,970.4 327.9,968.9 328.3,970.3 328.6,971.6 328.9,969.8 329.3,971.6 329.6,970.5 330.0,971.8 330.3,969.6 330.7,969.4 331.0,971.2 331.3,969.1 331.7,970.5 332.0,970.4 332.4,972.2 332.7,972.7 333.0,968.4 333.4,970.5 333.7,970.4 334.1,971.2 334.4,971.4 334.8,971.1 335.1,970.9 335.4,971.2 335.8,972.3 336.1,970.2 336.5,972.2 336.8,970.1 337.2,971.4 337.5,971.7 337.8,970.8 338.2,971.9 338.5,970.8 338.9,970.2 339.2,970.4 339.5,969.7 339.9,972.0 340.2,970.2 340.6,970.9 340.9,971.1 341.3,971.3 341.6,971.0 341.9,969.9 342.3,970.5 342.6,972.1 343.0,971.0 343.3,970.1 343.7,970.3 344.0,970.5 344.3,970.1 344.7,971.2 345.0,970.3 345.4,970.4 345.7,972.3 346.0,970.4 346.4,970.3 346.7,971.8 347.1,970.0 347.4,970.8 347.8,971.8 348.1,972.0 348.4,971.2 348.8,972.8 349.1,971.5 349.5,972.1 349.8,970.9 350.1,971.9 350.5,971.1 350.8,971.4 351.2,969.8 351.5,970.8 351.9,970.9 352.2,970.0 352.5,971.0 352.9,971.3 353.2,971.0 353.6,971.6 353.9,971.8 354.3,970.5 354.6,970.7 354.9,969.2 355.3,971.1 355.6,970.4 356.0,970.4 356.3,971.1 356.6,970.0 357.0,970.3 357.3,969.0 357.7,970.9 358.0,971.4 358.4,970.0 358.7,970.3 359.0,971.1 359.4,972.5 359.7,970.0 360.1,970.6 360.4,970.2 360.8,972.2 361.1,973.1 361.4,969.8 361.8,970.2 362.1,972.5 362.5,972.7 362.8,971.4 363.1,971.7 363.5,973.0 363.8,969.7 364.2,971.1 364.5,970.7 364.9,972.9 365.2,970.1 365.5,970.1 365.9,971.0 366.2,969.9 366.6,971.8 366.9,971.7 367.2,971.5 367.6,969.7 367.9,970.6 368.3,972.8 368.6,971.7 369.0,970.6 369.3,971.9 369.6,970.6 370.0,970.6 370.3,970.3 370.7,971.8 371.0,973.3 371.4,972.0 371.7,972.5 372.0,971.6 372.4,971.5 372.7,970.7 373.1,971.8 373.4,971.3 373.7,971.8 374.1,971.3 374.4,971.2 374.8,971.4 375.1,971.6 375.5,970.6 375.8,970.9 376.1,971.4 376.5,971.0 376.8,971.2 377.2,971.3 377.5,970.2 377.9,971.2 378.2,971.1 378.5,971.2 378.9,971.9 379.2,970.8 379.6,971.6 379.9,970.5 380.2,970.8 380.6,970.4 380.9,970.1 381.3,969.0 381.6,970.4 382.0,969.3 382.3,969.0 382.6,967.7 383.0,968.9 383.3,969.2 383.7,965.4 384.0,964.5 384.2,963.9 384.3,964.2 384.5,961.7 384.7,957.0 384.8,955.5 385.0,942.2 385.0,942.8 385.3,913.4 385.4,905.7 385.6,876.0 385.7,861.8 385.9,857.2 386.1,866.2 386.1,875.5 386.4,910.1 386.4,914.4 386.7,942.0 386.7,946.1 387.0,956.3 387.1,958.4 387.3,961.1 387.4,960.6 387.5,963.2 387.8,965.4 388.1,966.4 388.5,968.5 388.8,969.8 389.1,968.7 389.5,968.9 389.8,968.3 390.2,968.6 390.5,968.8 390.8,971.6 391.2,969.2 391.5,970.6 391.9,970.8 392.2,972.3 392.6,970.7 392.9,969.5 393.2,971.6 393.6,970.8 393.9,970.2 394.3,971.6 394.6,971.5 395.0,972.1 395.3,971.2 395.6,971.7 396.0,971.0 396.3,972.4 396.7,971.2 397.0,971.0 397.3,971.7 397.7,971.4 398.0,970.9 398.4,971.8 398.7,972.5 399.1,972.0 399.4,973.2 399.7,972.5 400.1,971.8 400.4,972.0 400.8,972.0 401.1,972.6 401.4,972.3 401.8,971.7 402.1,971.9 402.5,972.3 402.8,972.8 403.2,972.6 403.5,970.3 403.8,970.7 404.2,972.6 404.5,971.4 404.9,972.0 405.2,972.7 405.6,970.4 405.9,972.2 406.2,971.4 406.6,971.1 406.9,969.8 407.3,972.0 407.6,972.3 407.9,972.1 408.3,971.3 408.6,971.2 409.0,974.0 409.3,970.9 409.7,972.1 410.0,971.9 410.3,971.5 410.7,972.8 411.0,971.1 411.4,971.8 411.7,972.8 412.1,971.3 412.4,973.5 412.7,972.1 413.1,970.3 413.4,971.3 413.8,972.4 414.1,972.3 414.4,972.0 414.8,972.6 415.1,971.9 415.5,971.3 415.8,972.2 416.2,971.8 416.5,970.7 416.8,971.8 417.2,971.7 417.5,971.3 417.9,971.7 418.2,971.5 418.5,971.7 418.9,971.0 419.2,971.5 419.6,971.4 419.9,972.8 420.3,970.0 420.6,970.6 420.9,971.1 421.3,970.4 421.6,971.2 422.0,971.9 422.3,970.8 422.7,971.6 423.0,971.3 423.3,972.9 423.7,970.9 424.0,972.1 424.4,971.0 424.7,970.7 425.0,971.1 425.4,971.4 425.7,971.0 426.1,972.3 426.4,972.4 426.8,971.5 427.1,971.8 427.4,971.5 427.8,970.7 428.1,972.5 428.5,971.0 428.8,972.3 429.2,971.9 429.5,971.3 429.8,971.4 430.2,971.8 430.5,971.1 430.9,970.8 431.2,970.6 431.5,972.7 431.9,971.6 432.2,971.6 432.6,973.0 432.9,972.0 433.3,973.0 433.6,972.5 433.9,972.3 434.3,971.2 434.6,970.5 435.0,971.5 435.3,972.2 435.6,972.4 436.0,972.5 436.3,971.1 436.7,972.2 437.0,972.3 437.4,972.1 437.7,973.5 438.0,972.5 438.4,973.8 438.7,974.2 439.1,971.0 439.4,971.4 439.8,972.4 440.1,972.5 440.4,973.5 440.8,971.0 441.1,972.1 441.5,969.9 441.8,971.8 442.1,972.6 442.5,971.8 442.8,971.5 443.2,971.9 443.5,971.5 443.9,972.2 444.2,973.0 444.5,972.9 444.9,970.4 445.2,971.7 445.6,972.4 445.9,973.1 446.3,973.1 446.6,970.2 446.9,972.4 447.3,972.9 447.6,972.1 448.0,972.3 448.3,972.2 448.6,972.5 449.0,972.9 449.3,972.8 449.7,971.1 450.0,972.7 450.4,971.9 450.7,970.3 451.0,972.4 451.4,973.4 451.7,972.3 452.1,972.3 452.4,971.2 452.7,970.9 453.1,972.6 453.4,971.6 453.8,971.5 454.1,971.8 454.5,970.7 454.8,970.6 455.1,972.1 455.5,972.7 455.8,971.5 456.2,971.8 456.5,972.6 456.9,969.9 457.2,972.0 457.5,973.3 457.9,972.3 458.2,972.2 458.6,971.1 458.9,972.8 459.2,971.8 459.6,971.6 459.9,972.3 460.3,972.4 460.6,971.8 461.0,971.4 461.3,972.1 461.6,972.3 462.0,971.7 462.3,972.1 462.7,971.0 463.0,971.1 463.4,972.0 463.7,972.8 464.0,972.0 464.4,973.0 464.7,972.0 465.1,972.2 465.4,973.2 465.7,971.6 466.1,973.0 466.4,972.1 466.8,971.6 467.1,973.0 467.5,969.7 467.8,972.6 468.1,971.5 468.5,970.3 468.8,972.7 469.2,972.8 469.5,973.2 469.8,973.3 470.2,972.0 470.5,972.6 470.9,973.6 471.2,972.6 471.6,970.4 471.9,972.1 472.2,971.2 472.6,972.0 472.9,970.5 473.3,972.2 473.6,973.5 474.0,972.8 474.3,970.3 474.6,970.9 475.0,973.0 475.3,972.9 475.7,971.8 476.0,972.7 476.3,972.2 476.7,972.5 476.7,970.4 477.0,971.8 477.2,970.7 477.4,969.9 477.7,971.8 477.7,972.0 478.1,971.4 478.2,969.1 478.4,970.7 478.7,966.8 478.7,967.2 479.1,965.0 479.2,965.0 479.4,962.5 479.7,962.1 479.8,962.3 480.1,964.3 480.2,964.2 480.5,965.2 480.7,966.5 480.8,969.5 481.1,971.4 481.2,969.9 481.5,971.4 481.8,971.9 481.8,971.9 482.2,972.1 482.3,971.4 482.5,973.1 482.8,971.4 482.8,971.8 483.2,972.7 483.5,971.1 483.9,972.5 484.2,971.4 484.6,972.2 484.9,971.2 485.2,971.3 485.6,972.2 485.9,971.4 486.3,971.7 486.6,973.2 486.9,971.0 487.3,971.1 487.6,972.5 488.0,972.3 488.3,973.3 488.7,971.1 489.0,971.9 489.3,972.0 489.7,971.3 490.0,972.2 490.4,973.4 490.7,970.6 491.1,971.1 491.4,971.1 491.7,972.4 492.1,971.9 492.4,971.7 492.8,971.7 493.1,971.3 493.4,972.3 493.8,971.5 494.1,972.6 494.5,972.6 494.8,972.9 495.2,971.8 495.5,971.9 495.8,971.6 496.2,971.7 496.5,972.4 496.9,970.2 497.2,971.5 497.6,972.0 497.9,972.8 498.2,972.8 498.6,973.0 498.9,972.2 499.3,972.7 499.6,971.2 499.9,971.6 500.3,971.5 500.6,970.5 501.0,969.7 501.3,971.3 501.7,971.5 502.0,972.8 502.3,972.5 502.7,972.9 503.0,971.4 503.4,972.1 503.7,972.7 504.0,971.7 504.4,971.8 504.7,970.9 505.1,972.5 505.4,970.0 505.8,971.1 506.1,971.1 506.4,971.6 506.8,969.2 506.9,971.1 507.1,971.8 507.3,971.3 507.5,969.9 507.7,967.1 507.8,969.2 508.2,963.2 508.2,965.7 508.5,958.2 508.6,954.7 508.8,948.7 509.0,944.5 509.2,940.6 509.4,939.5 509.5,939.5 509.8,944.3 509.9,947.0 510.2,958.5 510.2,956.1 510.5,964.8 510.6,966.1 510.9,968.5 511.0,970.9 511.2,969.4 511.4,970.1 511.6,971.0 511.8,969.1 511.9,970.7 512.3,970.8 512.6,972.1 512.9,970.3 513.3,970.1 513.6,971.0 514.0,972.5 514.3,971.8 514.7,971.4 515.0,971.9 515.3,971.6 515.7,970.3 516.0,972.5 516.4,971.8 516.7,971.1 517.0,971.7 517.4,973.5 517.7,972.9 518.1,971.4 518.4,970.6 518.8,971.2 519.1,973.1 519.2,979.7"/>
<line x1="25.2" y1="979.7" x2="25.2" y2="948.1" stroke="#5555ff" stroke-width="1.5"/>
<line x1="519.2" y1="979.7" x2="519.1" y2="973.1" stroke="#0000ff" stroke-width="1.5"/>
<polyline fill="none" stroke="#0000ff" stroke-width="2.8" stroke-linejoin="round" points="25.2,948.1 25.6,949.5 25.9,951.1 26.3,952.8 26.6,949.6 27.0,950.0 27.3,951.3 27.6,951.1 28.0,952.2 28.3,951.0 28.7,950.7 29.0,948.1 29.4,952.1 29.7,952.5 30.0,953.9 30.4,953.9 30.7,953.1 31.1,948.1 31.4,954.6 31.7,949.8 32.1,954.8 32.4,948.2 32.8,950.7 33.1,950.8 33.5,949.0 33.8,949.7 34.1,950.4 34.5,950.6 34.8,950.8 35.2,953.3 35.5,953.7 35.9,946.6 36.2,950.2 36.5,948.9 36.9,950.8 37.2,947.1 37.6,950.6 37.9,948.2 38.2,950.3 38.6,951.6 38.9,953.6 39.3,950.8 39.6,953.2 40.0,951.7 40.3,949.0 40.6,951.2 41.0,949.0 41.3,950.3 41.7,951.9 42.0,950.8 42.3,951.1 42.7,949.0 43.0,949.5 43.4,950.9 43.7,951.4 44.1,954.3 44.4,951.4 44.7,949.5 45.1,952.1 45.4,951.8 45.8,951.6 46.1,950.4 46.5,951.8 46.8,950.7 47.1,953.9 47.5,949.0 47.8,949.1 48.2,953.5 48.5,947.0 48.8,951.4 49.2,947.7 49.5,952.9 49.9,950.1 50.2,949.5 50.6,953.0 50.9,950.6 51.2,951.5 51.6,950.6 51.9,950.2 52.3,953.9 52.6,950.9 53.0,950.7 53.3,952.4 53.6,949.8 54.0,949.5 54.3,950.6 54.7,953.6 55.0,950.9 55.3,949.7 55.7,950.5 56.0,952.2 56.4,950.5 56.7,949.3 57.1,951.7 57.4,947.3 57.7,952.8 58.1,949.7 58.4,953.9 58.8,949.3 59.1,950.0 59.4,948.1 59.8,950.9 60.1,949.2 60.5,948.9 60.8,951.6 61.2,947.1 61.5,949.8 61.8,949.5 62.2,949.8 62.5,953.5 62.9,948.0 63.2,947.3 63.6,952.0 63.9,950.5 64.2,946.9 64.6,946.7 64.9,949.4 65.3,951.2 65.6,953.1 65.9,949.0 66.3,952.2 66.6,949.6 67.0,949.7 67.3,948.1 67.7,950.7 68.0,946.7 68.3,950.4 68.7,948.1 69.0,948.4 69.4,951.9 69.7,950.6 70.1,947.6 70.4,948.4 70.7,949.7 71.1,947.5 71.4,951.1 71.8,950.4 72.1,947.0 72.4,948.9 72.8,950.0 73.1,946.3 73.5,952.1 73.8,949.3 74.2,946.9 74.5,947.2 74.8,946.3 75.2,946.8 75.5,950.7 75.9,945.2 76.2,950.3 76.5,946.1 76.9,945.3 77.2,944.9 77.6,948.2 77.9,948.2 78.3,945.9 78.6,947.4 78.9,948.8 79.3,946.4 79.6,948.1 80.0,947.6 80.3,947.6 80.7,945.3 81.0,947.8 81.3,946.2 81.7,946.6 82.0,947.6 82.4,945.9 82.7,944.2 83.0,946.8 83.4,946.6 83.7,947.6 84.1,948.5 84.4,948.0 84.8,945.8 85.1,946.5 85.4,947.8 85.8,948.1 86.1,946.4 86.5,950.4 86.8,947.6 87.2,948.1 87.5,946.8 87.8,947.4 88.2,950.3 88.5,947.3 88.9,950.3 89.2,948.3 89.5,950.1 89.9,947.8 90.2,949.2 90.6,948.8 90.9,950.7 91.3,948.4 91.6,949.6 91.9,947.5 92.3,946.0 92.6,947.1 93.0,948.6 93.3,946.8 93.6,950.8 94.0,949.0 94.3,949.3 94.7,947.8 95.0,949.8 95.4,948.5 95.7,947.6 96.0,948.0 96.4,949.3 96.7,950.2 97.1,948.8 97.4,945.5 97.8,947.8 98.1,948.6 98.4,947.5 98.8,949.1 99.1,949.2 99.5,949.9 99.8,950.4 100.1,948.3 100.5,948.2 100.8,950.2 101.2,949.1 101.5,948.1 101.9,951.0 102.2,951.2 102.5,949.1 102.9,949.6 103.2,949.1 103.6,949.6 103.9,948.3 104.3,948.8 104.6,951.9 104.9,951.6 105.3,949.4 105.6,948.3 106.0,950.1 106.3,948.6 106.6,950.8 107.0,948.2 107.3,952.1 107.7,951.4 108.0,950.1 108.4,954.0 108.7,951.6 109.0,955.1 109.4,952.6 109.7,951.7 110.1,954.2 110.4,950.7 110.7,950.7 111.1,950.8 111.4,952.6 111.8,953.0 112.1,951.1 112.5,950.7 112.8,950.7 113.1,954.1 113.5,954.7 113.8,951.2 114.2,949.5 114.5,953.8 114.9,950.6 115.2,952.8 115.5,951.6 115.9,955.5 116.2,954.3 116.6,950.4 116.9,952.4 117.2,954.0 117.6,951.9 117.9,952.3 118.3,951.5 118.6,954.6 119.0,950.3 119.3,953.9 119.6,954.1 120.0,954.8 120.3,954.4 120.7,954.2 121.0,953.2 121.4,954.2 121.7,953.4 122.0,952.7 122.4,951.8 122.7,953.2 123.1,955.1 123.4,954.6 123.7,954.6 124.1,955.2 124.4,952.2 124.8,954.9 125.1,954.4 125.5,954.6 125.8,956.7 126.1,957.1 126.5,951.6 126.8,952.7 127.2,957.9 127.5,956.5 127.8,954.1 128.2,953.9 128.5,955.9 128.9,955.6 129.2,957.2 129.6,957.1 129.9,954.1 130.2,956.6 130.6,956.2 130.9,954.9 131.3,957.2 131.6,953.2 132.0,957.2 132.3,956.6 132.6,955.2 133.0,954.8 133.3,957.2 133.7,953.1 134.0,957.0 134.3,954.7 134.7,954.9 135.0,958.5 135.4,958.5 135.7,953.9 136.1,958.2 136.4,955.8 136.7,955.4 137.1,956.1 137.4,956.3 137.8,957.3 138.1,955.2 138.5,956.5 138.8,957.9 139.1,955.0 139.5,958.7 139.8,956.7 140.2,958.3 140.5,955.6 140.8,956.6 141.2,958.3 141.5,958.7 141.9,955.8 142.2,959.1 142.6,960.0 142.9,956.2 143.2,958.7 143.6,956.0 143.9,957.2 144.3,957.0 144.6,959.4 144.9,958.3 145.3,959.4 145.6,957.2 146.0,957.7 146.3,959.8 146.7,958.8 147.0,960.3 147.3,956.5 147.7,958.6 148.0,959.4 148.4,960.1 148.7,956.4 149.1,960.0 149.4,960.7 149.7,960.7 150.1,958.0 150.4,958.1 150.8,959.7 151.1,958.1 151.4,959.8 151.8,961.5 152.1,960.7 152.5,959.0 152.8,960.9 153.2,957.8 153.5,959.2 153.8,959.7 154.2,959.0 154.5,960.9 154.9,961.8 155.2,960.6 155.6,962.9 155.9,960.1 156.2,958.2 156.6,961.2 156.9,960.9 157.3,960.5 157.6,961.3 157.9,959.6 158.3,960.3 158.6,960.0 159.0,960.4 159.3,961.8 159.7,961.3 160.0,960.4 160.3,962.1 160.7,960.2 161.0,962.1 161.4,963.2 161.7,962.0 162.0,961.9 162.4,962.0 162.7,964.4 163.1,963.3 163.4,963.2 163.8,963.0 164.1,961.7 164.4,961.3 164.8,961.3 165.1,962.9 165.5,962.1 165.8,961.5 166.2,963.4 166.5,960.9 166.8,963.6 167.2,964.0 167.5,963.9 167.9,961.3 168.2,962.2 168.5,965.4 168.9,963.7 169.2,962.3 169.6,960.5 169.9,962.7 170.3,962.4 170.6,964.9 170.9,962.3 171.3,965.7 171.6,962.2 172.0,963.8 172.3,963.0 172.7,964.3 173.0,964.6 173.3,965.2 173.7,962.5 174.0,964.3 174.4,964.0 174.7,964.5 175.0,963.5 175.4,964.0 175.7,963.9 176.1,963.9 176.4,964.2 176.8,965.6 177.1,963.6 177.4,963.6 177.8,965.0 178.1,964.0 178.5,966.8 178.8,965.3 179.1,964.9 179.5,965.4 179.8,966.4 180.2,966.7 180.5,964.5 180.9,964.3 181.2,965.5 181.5,963.4 181.9,966.0 182.2,965.7 182.6,966.3 182.9,966.2 183.3,966.6 183.6,966.4 183.9,965.4 184.3,966.6 184.6,965.6 185.0,967.5 185.3,965.0 185.6,965.6 186.0,965.8 186.3,967.0 186.7,965.5 187.0,967.9 187.4,965.8 187.7,964.9 188.0,968.5 188.4,965.9 188.7,965.8 189.1,965.6 189.4,965.8 189.8,964.8 190.1,965.5 190.4,966.5 190.8,968.2 190.8,967.1 191.1,966.0 191.2,962.9 191.5,963.7 191.6,963.6 191.8,961.2 192.0,958.2 192.1,957.2 192.4,950.3 192.5,949.0 192.8,940.4 192.8,941.0 193.2,934.7 193.2,933.1 193.5,937.1 193.6,939.7 193.9,946.3 194.0,953.0 194.2,955.1 194.4,959.5 194.5,961.1 194.8,965.5 194.9,963.5 195.2,965.0 195.2,966.1 195.6,965.2 195.6,965.5 195.9,965.3 196.2,966.4 196.6,966.8 196.9,967.3 197.3,969.4 197.6,966.8 198.0,964.9 198.3,966.8 198.6,965.8 199.0,966.7 199.3,967.2 199.7,967.3 200.0,969.6 200.4,968.2 200.7,967.1 201.0,966.0 201.4,966.1 201.7,968.1 202.1,968.3 202.4,967.8 202.7,969.0 203.1,969.8 203.4,968.0 203.8,966.9 204.1,967.5 204.5,965.3 204.8,966.1 205.1,968.4 205.5,967.7 205.8,969.6 206.2,965.9 206.5,967.0 206.9,966.6 207.2,966.5 207.5,966.9 207.9,967.7 208.2,968.3 208.6,966.5 208.9,968.1 209.2,965.6 209.6,967.4 209.9,967.1 210.3,968.6 210.6,967.3 211.0,967.6 211.3,967.1 211.6,966.1 212.0,966.3 212.3,969.1 212.7,967.1 213.0,967.3 213.3,968.3 213.7,967.7 214.0,968.6 214.4,968.0 214.7,967.3 215.1,969.6 215.4,968.3 215.7,966.4 216.1,967.1 216.4,965.3 216.8,966.0 217.1,967.7 217.5,967.5 217.8,967.8 218.1,968.4 218.5,968.3 218.8,966.0 219.2,965.5 219.5,966.4 219.8,966.4 220.2,968.8 220.5,967.0 220.9,968.3 221.2,966.1 221.6,966.1 221.9,966.5 222.2,967.5 222.6,966.9 222.9,965.3 223.3,965.9 223.6,969.0 224.0,967.6 224.3,965.6 224.6,965.9 225.0,966.7 225.3,967.4 225.7,966.9 226.0,966.3 226.3,966.3 226.7,965.3 227.0,966.1 227.4,966.7 227.7,964.5 228.1,966.9 228.4,964.9 228.7,967.0 229.1,965.1 229.4,966.2 229.8,964.9 230.1,967.2 230.4,968.2 230.8,966.1 231.1,966.1 231.5,966.1 231.8,968.2 232.2,967.1 232.5,966.2 232.8,966.2 233.2,963.2 233.5,966.4 233.9,964.0 234.2,964.8 234.6,962.9 234.9,962.0 235.2,959.9 235.6,960.2 235.9,957.6 236.3,956.8 236.6,953.4 236.8,954.1 236.9,950.0 237.0,947.8 237.3,940.8 237.3,937.5 237.6,914.2 237.6,908.2 237.9,861.7 238.0,836.2 238.2,793.2 238.3,763.4 238.4,756.7 238.7,779.8 238.7,793.1 239.0,862.7 239.0,867.3 239.3,913.1 239.3,922.5 239.5,938.6 239.7,945.2 239.8,948.8 240.0,949.0 240.1,952.9 240.4,955.0 240.7,958.7 241.1,960.1 241.4,961.5 241.7,963.0 242.1,963.9 242.4,963.9 242.8,962.9 243.1,965.7 243.4,964.5 243.8,963.5 244.1,963.8 244.5,967.7 244.8,967.2 245.2,966.4 245.5,966.3 245.8,966.3 246.2,966.2 246.5,966.4 246.9,965.8 247.2,967.0 247.5,965.7 247.9,966.9 248.2,967.2 248.6,964.8 248.9,967.1 249.3,969.0 249.6,966.5 249.9,966.2 250.3,968.1 250.6,966.4 251.0,967.5 251.3,968.2 251.7,967.1 252.0,967.4 252.3,967.4 252.7,966.2 253.0,968.2 253.4,967.4 253.7,965.4 254.0,966.7 254.4,967.3 254.7,967.5 255.1,968.7 255.4,966.9 255.8,967.1 256.1,967.5 256.4,966.6 256.8,965.7 257.1,967.0 257.5,966.5 257.8,966.2 258.2,968.1 258.5,968.8 258.8,968.1 259.2,967.8 259.5,967.2 259.9,967.2 260.2,966.5 260.5,966.3 260.9,966.1 261.2,967.4 261.6,969.6 261.9,967.3 262.3,966.6 262.6,967.6 262.9,968.8 263.3,968.3 263.6,969.8 264.0,968.0 264.3,969.2 264.6,967.9 265.0,967.8 265.3,966.5 265.7,967.2 266.0,967.8 266.4,968.6 266.7,967.5 267.0,970.3 267.4,966.7 267.7,969.0 268.1,969.0 268.4,967.0 268.8,968.9 269.1,969.8 269.4,968.9 269.8,966.2 270.1,968.6 270.5,969.6 270.8,967.8 271.1,966.0 271.5,969.5 271.8,968.2 272.2,967.6 272.5,968.0 272.9,968.5 273.2,970.3 273.5,968.9 273.9,965.8 274.2,967.5 274.6,968.7 274.9,968.3 275.3,969.4 275.6,968.2 275.9,967.4 276.3,967.3 276.6,968.3 277.0,969.3 277.3,969.5 277.6,969.2 278.0,970.1 278.3,968.7 278.7,970.4 279.0,966.9 279.4,968.1 279.7,968.6 280.0,970.0 280.4,968.3 280.7,969.7 281.1,968.8 281.4,969.9 281.7,968.3 282.1,969.5 282.4,969.1 282.8,968.1 283.1,970.7 283.5,970.8 283.8,969.8 284.1,968.9 284.5,967.1 284.8,968.2 285.2,967.5 285.5,969.6 285.9,966.3 286.2,969.1 286.5,968.9 286.9,967.8 287.2,969.8 287.6,968.5 287.9,970.0 288.2,968.5 288.6,969.9 288.9,967.7 289.3,968.4 289.6,969.4 290.0,969.4 290.3,969.3 290.6,969.4 291.0,969.8 291.3,970.0 291.7,967.3 292.0,969.3 292.4,968.3 292.7,969.5 293.0,968.6 293.4,969.3 293.7,968.7 294.1,969.7 294.4,968.9 294.7,968.7 295.1,970.0 295.4,968.7 295.8,969.4 296.1,970.3 296.5,968.9 296.8,970.0 297.1,969.3 297.5,970.1 297.8,970.6 298.2,969.2 298.5,970.9 298.8,969.7 299.2,969.1 299.5,969.2 299.9,970.7 300.2,970.9 300.6,970.3 300.9,970.1 301.2,971.0 301.6,969.1 301.9,968.7 302.3,968.0 302.6,969.4 303.0,970.7 303.3,969.3 303.6,968.6 304.0,969.6 304.3,970.7 304.7,970.4 305.0,969.6 305.3,970.3 305.7,967.6 306.0,971.2 306.4,969.4 306.7,969.8 307.1,970.1 307.4,968.9 307.7,968.9 308.1,969.5 308.4,968.7 308.8,969.2 309.1,970.3 309.5,969.2 309.8,970.9 310.1,970.1 310.5,970.1 310.8,968.6 311.2,969.8 311.5,971.3 311.8,969.0 312.2,969.1 312.5,969.2 312.9,968.9 313.2,970.2 313.6,970.6 313.9,969.1 314.2,969.3 314.6,970.7 314.9,968.6 315.3,970.2 315.6,968.1 315.9,970.6 316.3,969.0 316.6,971.8 317.0,970.6 317.3,970.0 317.7,970.0 318.0,970.7 318.3,970.2 318.7,971.4 319.0,971.1 319.4,971.1 319.7,970.0 320.1,970.1 320.4,970.1 320.7,970.8 321.1,969.1 321.4,970.4 321.8,971.1 322.1,970.1 322.4,970.7 322.8,969.8 323.1,971.2 323.5,969.1 323.8,970.8 324.2,970.5 324.5,970.2 324.8,970.7 325.2,970.6 325.5,971.3 325.9,970.4 326.2,971.0 326.6,971.0 326.9,971.4 327.2,969.5 327.6,970.4 327.9,968.9 328.3,970.3 328.6,971.6 328.9,969.8 329.3,971.6 329.6,970.5 330.0,971.8 330.3,969.6 330.7,969.4 331.0,971.2 331.3,969.1 331.7,970.5 332.0,970.4 332.4,972.2 332.7,972.7 333.0,968.4 333.4,970.5 333.7,970.4 334.1,971.2 334.4,971.4 334.8,971.1 335.1,970.9 335.4,971.2 335.8,972.3 336.1,970.2 336.5,972.2 336.8,970.1 337.2,971.4 337.5,971.7 337.8,970.8 338.2,971.9 338.5,970.8 338.9,970.2 339.2,970.4 339.5,969.7 339.9,972.0 340.2,970.2 340.6,970.9 340.9,971.1 341.3,971.3 341.6,971.0 341.9,969.9 342.3,970.5 342.6,972.1 343.0,971.0 343.3,970.1 343.7,970.3 344.0,970.5 344.3,970.1 344.7,971.2 345.0,970.3 345.4,970.4 345.7,972.3 346.0,970.4 346.4,970.3 346.7,971.8 347.1,970.0 347.4,970.8 347.8,971.8 348.1,972.0 348.4,971.2 348.8,972.8 349.1,971.5 349.5,972.1 349.8,970.9 350.1,971.9 350.5,971.1 350.8,971.4 351.2,969.8 351.5,970.8 351.9,970.9 352.2,970.0 352.5,971.0 352.9,971.3 353.2,971.0 353.6,971.6 353.9,971.8 354.3,970.5 354.6,970.7 354.9,969.2 355.3,971.1 355.6,970.4 356.0,970.4 356.3,971.1 356.6,970.0 357.0,970.3 357.3,969.0 357.7,970.9 358.0,971.4 358.4,970.0 358.7,970.3 359.0,971.1 359.4,972.5 359.7,970.0 360.1,970.6 360.4,970.2 360.8,972.2 361.1,973.1 361.4,969.8 361.8,970.2 362.1,972.5 362.5,972.7 362.8,971.4 363.1,971.7 363.5,973.0 363.8,969.7 364.2,971.1 364.5,970.7 364.9,972.9 365.2,970.1 365.5,970.1 365.9,971.0 366.2,969.9 366.6,971.8 366.9,971.7 367.2,971.5 367.6,969.7 367.9,970.6 368.3,972.8 368.6,971.7 369.0,970.6 369.3,971.9 369.6,970.6 370.0,970.6 370.3,970.3 370.7,971.8 371.0,973.3 371.4,972.0 371.7,972.5 372.0,971.6 372.4,971.5 372.7,970.7 373.1,971.8 373.4,971.3 373.7,971.8 374.1,971.3 374.4,971.2 374.8,971.4 375.1,971.6 375.5,970.6 375.8,970.9 376.1,971.4 376.5,971.0 376.8,971.2 377.2,971.3 377.5,970.2 377.9,971.2 378.2,971.1 378.5,971.2 378.9,971.9 379.2,970.8 379.6,971.6 379.9,970.5 380.2,970.8 380.6,970.4 380.9,970.1 381.3,969.0 381.6,970.4 382.0,969.3 382.3,969.0 382.6,967.7 383.0,968.9 383.3,969.2 383.7,965.4 384.0,964.5 384.2,963.9 384.3,964.2 384.5,961.7 384.7,957.0 384.8,955.5 385.0,942.2 385.0,942.8 385.3,913.4 385.4,905.7 385.6,876.0 385.7,861.8 385.9,857.2 386.1,866.2 386.1,875.5 386.4,910.1 386.4,914.4 386.7,942.0 386.7,946.1 387.0,956.3 387.1,958.4 387.3,961.1 387.4,960.6 387.5,963.2 387.8,965.4 388.1,966.4 388.5,968.5 388.8,969.8 389.1,968.7 389.5,968.9 389.8,968.3 390.2,968.6 390.5,968.8 390.8,971.6 391.2,969.2 391.5,970.6 391.9,970.8 392.2,972.3 392.6,970.7 392.9,969.5 393.2,971.6 393.6,970.8 393.9,970.2 394.3,971.6 394.6,971.5 395.0,972.1 395.3,971.2 395.6,971.7 396.0,971.0 396.3,972.4 396.7,971.2 397.0,971.0 397.3,971.7 397.7,971.4 398.0,970.9 398.4,971.8 398.7,972.5 399.1,972.0 399.4,973.2 399.7,972.5 400.1,971.8 400.4,972.0 400.8,972.0 401.1,972.6 401.4,972.3 401.8,971.7 402.1,971.9 402.5,972.3 402.8,972.8 403.2,972.6 403.5,970.3 403.8,970.7 404.2,972.6 404.5,971.4 404.9,972.0 405.2,972.7 405.6,970.4 405.9,972.2 406.2,971.4 406.6,971.1 406.9,969.8 407.3,972.0 407.6,972.3 407.9,972.1 408.3,971.3 408.6,971.2 409.0,974.0 409.3,970.9 409.7,972.1 410.0,971.9 410.3,971.5 410.7,972.8 411.0,971.1 411.4,971.8 411.7,972.8 412.1,971.3 412.4,973.5 412.7,972.1 413.1,970.3 413.4,971.3 413.8,972.4 414.1,972.3 414.4,972.0 414.8,972.6 415.1,971.9 415.5,971.3 415.8,972.2 416.2,971.8 416.5,970.7 416.8,971.8 417.2,971.7 417.5,971.3 417.9,971.7 418.2,971.5 418.5,971.7 418.9,971.0 419.2,971.5 419.6,971.4 419.9,972.8 420.3,970.0 420.6,970.6 420.9,971.1 421.3,970.4 421.6,971.2 422.0,971.9 422.3,970.8 422.7,971.6 423.0,971.3 423.3,972.9 423.7,970.9 424.0,972.1 424.4,971.0 424.7,970.7 425.0,971.1 425.4,971.4 425.7,971.0 426.1,972.3 426.4,972.4 426.8,971.5 427.1,971.8 427.4,971.5 427.8,970.7 428.1,972.5 428.5,971.0 428.8,972.3 429.2,971.9 429.5,971.3 429.8,971.4 430.2,971.8 430.5,971.1 430.9,970.8 431.2,970.6 431.5,972.7 431.9,971.6 432.2,971.6 432.6,973.0 432.9,972.0 433.3,973.0 433.6,972.5 433.9,972.3 434.3,971.2 434.6,970.5 435.0,971.5 435.3,972.2 435.6,972.4 436.0,972.5 436.3,971.1 436.7,972.2 437.0,972.3 437.4,972.1 437.7,973.5 438.0,972.5 438.4,973.8 438.7,974.2 439.1,971.0 439.4,971.4 439.8,972.4 440.1,972.5 440.4,973.5 440.8,971.0 441.1,972.1 441.5,969.9 441.8,971.8 442.1,972.6 442.5,971.8 442.8,971.5 443.2,971.9 443.5,971.5 443.9,972.2 444.2,973.0 444.5,972.9 444.9,970.4 445.2,971.7 445.6,972.4 445.9,973.1 446.3,973.1 446.6,970.2 446.9,972.4 447.3,972.9 447.6,972.1 448.0,972.3 448.3,972.2 448.6,972.5 449.0,972.9 449.3,972.8 449.7,971.1 450.0,972.7 450.4,971.9 450.7,970.3 451.0,972.4 451.4,973.4 451.7,972.3 452.1,972.3 452.4,971.2 452.7,970.9 453.1,972.6 453.4,971.6 453.8,971.5 454.1,971.8 454.5,970.7 454.8,970.6 455.1,972.1 455.5,972.7 455.8,971.5 456.2,971.8 456.5,972.6 456.9,969.9 457.2,972.0 457.5,973.3 457.9,972.3 458.2,972.2 458.6,971.1 458.9,972.8 459.2,971.8 459.6,971.6 459.9,972.3 460.3,972.4 460.6,971.8 461.0,971.4 461.3,972.1 461.6,972.3 462.0,971.7 462.3,972.1 462.7,971.0 463.0,971.1 463.4,972.0 463.7,972.8 464.0,972.0 464.4,973.0 464.7,972.0 465.1,972.2 465.4,973.2 465.7,971.6 466.1,973.0 466.4,972.1 466.8,971.6 467.1,973.0 467.5,969.7 467.8,972.6 468.1,971.5 468.5,970.3 468.8,972.7 469.2,972.8 469.5,973.2 469.8,973.3 470.2,972.0 470.5,972.6 470.9,973.6 471.2,972.6 471.6,970.4 471.9,972.1 472.2,971.2 472.6,972.0 472.9,970.5 473.3,972.2 473.6,973.5 474.0,972.8 474.3,970.3 474.6,970.9 475.0,973.0 475.3,972.9 475.7,971.8 476.0,972.7 476.3,972.2 476.7,972.5 476.7,970.4 477.0,971.8 477.2,970.7 477.4,969.9 477.7,971.8 477.7,972.0 478.1,971.4 478.2,969.1 478.4,970.7 478.7,966.8 478.7,967.2 479.1,965.0 479.2,965.0 479.4,962.5 479.7,962.1 479.8,962.3 480.1,964.3 480.2,964.2 480.5,965.2 480.7,966.5 480.8,969.5 481.1,971.4 481.2,969.9 481.5,971.4 481.8,971.9 481.8,971.9 482.2,972.1 482.3,971.4 482.5,973.1 482.8,971.4 482.8,971.8 483.2,972.7 483.5,971.1 483.9,972.5 484.2,971.4 484.6,972.2 484.9,971.2 485.2,971.3 485.6,972.2 485.9,971.4 486.3,971.7 486.6,973.2 486.9,971.0 487.3,971.1 487.6,972.5 488.0,972.3 488.3,973.3 488.7,971.1 489.0,971.9 489.3,972.0 489.7,971.3 490.0,972.2 490.4,973.4 490.7,970.6 491.1,971.1 491.4,971.1 491.7,972.4 492.1,971.9 492.4,971.7 492.8,971.7 493.1,971.3 493.4,972.3 493.8,971.5 494.1,972.6 494.5,972.6 494.8,972.9 495.2,971.8 495.5,971.9 495.8,971.6 496.2,971.7 496.5,972.4 496.9,970.2 497.2,971.5 497.6,972.0 497.9,972.8 498.2,972.8 498.6,973.0 498.9,972.2 499.3,972.7 499.6,971.2 499.9,971.6 500.3,971.5 500.6,970.5 501.0,969.7 501.3,971.3 501.7,971.5 502.0,972.8 502.3,972.5 502.7,972.9 503.0,971.4 503.4,972.1 503.7,972.7 504.0,971.7 504.4,971.8 504.7,970.9 505.1,972.5 505.4,970.0 505.8,971.1 506.1,971.1 506.4,971.6 506.8,969.2 506.9,971.1 507.1,971.8 507.3,971.3 507.5,969.9 507.7,967.1 507.8,969.2 508.2,963.2 508.2,965.7 508.5,958.2 508.6,954.7 508.8,948.7 509.0,944.5 509.2,940.6 509.4,939.5 509.5,939.5 509.8,944.3 509.9,947.0 510.2,958.5 510.2,956.1 510.5,964.8 510.6,966.1 510.9,968.5 511.0,970.9 511.2,969.4 511.4,970.1 511.6,971.0 511.8,969.1 511.9,970.7 512.3,970.8 512.6,972.1 512.9,970.3 513.3,970.1 513.6,971.0 514.0,972.5 514.3,971.8 514.7,971.4 515.0,971.9 515.3,971.6 515.7,970.3 516.0,972.5 516.4,971.8 516.7,971.1 517.0,971.7 517.4,973.5 517.7,972.9 518.1,971.4 518.4,970.6 518.8,971.2 519.1,973.1"/>
<path d="M163.5 580.7L5.5 781.5V1004.8" stroke="#333" stroke-width="1.6" fill="none"/>
<path d="M5.5 1004.8H499.5L657.5 804.0" stroke="#444" stroke-width="1.7" fill="none"/>
<path d="M163.5 580.7H657.5" stroke="#7a7a7a" stroke-width="2.2" fill="none"/>
<path d="M657.5 579.7V804.0" stroke="#808080" stroke-width="2" fill="none"/>
<path d="M657.5 804.0h6.2 M657.5 795.1h3.5 M657.5 786.1h3.5 M657.5 777.2h3.5 M657.5 768.3h3.5 M657.5 759.3h6.2 M657.5 750.4h3.5 M657.5 741.5h3.5 M657.5 732.5h3.5 M657.5 723.6h3.5 M657.5 714.7h6.2 M657.5 705.7h3.5 M657.5 696.8h3.5 M657.5 687.9h3.5 M657.5 679.0h3.5 M657.5 670.0h6.2 M657.5 661.1h3.5 M657.5 652.2h3.5 M657.5 643.2h3.5 M657.5 634.3h3.5 M657.5 625.4h6.2 M657.5 616.4h3.5 M657.5 607.5h3.5 M657.5 598.6h3.5 M657.5 589.6h3.5 M657.5 580.7h6.2" stroke="#555" stroke-width="1.3" fill="none"/>
<path d="M13.1 1004.8v3.6 M28.3 1004.8v3.6 M43.5 1004.8v5.6 M58.7 1004.8v3.6 M73.9 1004.8v3.6 M89.1 1004.8v3.6 M104.3 1004.8v3.6 M119.5 1004.8v5.6 M134.7 1004.8v3.6 M149.9 1004.8v3.6 M165.1 1004.8v3.6 M180.3 1004.8v3.6 M195.5 1004.8v5.6 M210.7 1004.8v3.6 M225.9 1004.8v3.6 M241.1 1004.8v3.6 M256.3 1004.8v3.6 M271.5 1004.8v5.6 M286.7 1004.8v3.6 M301.9 1004.8v3.6 M317.1 1004.8v3.6 M332.3 1004.8v3.6 M347.5 1004.8v5.6 M362.7 1004.8v3.6 M377.9 1004.8v3.6 M393.1 1004.8v3.6 M408.3 1004.8v3.6 M423.5 1004.8v5.6 M438.7 1004.8v3.6 M453.9 1004.8v3.6 M469.1 1004.8v3.6 M484.3 1004.8v3.6 M499.5 1004.8v5.6" stroke="#333" stroke-width="1.3" fill="none"/>
<g transform="translate(31.69 1030.40)"><text font-size="21.0" fill="#111">20</text></g>
<g transform="translate(107.79 1030.40)"><text font-size="21.0" fill="#111">30</text></g>
<g transform="translate(184.00 1030.40)"><text font-size="21.0" fill="#111">40</text></g>
<g transform="translate(259.79 1030.40)"><text font-size="21.0" fill="#111">50</text></g>
<g transform="translate(335.69 1030.40)"><text font-size="21.0" fill="#111">60</text></g>
<g transform="translate(411.69 1030.40)"><text font-size="21.0" fill="#111">70</text></g>
<g transform="translate(487.74 1030.40)"><text font-size="21.0" fill="#111">80</text></g>
<path d="M637.8 829.1h5.5" stroke="#333" stroke-width="1.3"/>
<g transform="translate(645.4 834.1) skewX(-31) scale(1 0.76)"><text font-size="19.9" fill="#111">BCNS</text></g>
<path d="M598.2 879.3h5.5" stroke="#333" stroke-width="1.3"/>
<g transform="translate(605.9 884.3) skewX(-31) scale(1 0.76)"><text x="0.00" font-size="19.9" fill="#111">ACNS</text><path transform="translate(55.29 0) scale(19.9)" d="M0.339 0V-0.688H0.262C0.225 -0.61 0.16 -0.56 0.096 -0.535V-0.455C0.15 -0.475 0.21 -0.51 0.251 -0.545V0Z" fill="#111" stroke="#111" stroke-width="0.0151"/></g>
<path d="M558.8 929.5h5.5" stroke="#333" stroke-width="1.3"/>
<g transform="translate(566.4 934.5) skewX(-31) scale(1 0.76)"><text font-size="19.9" fill="#111">ACNS2</text></g>
<path d="M519.2 979.7h5.5" stroke="#333" stroke-width="1.3"/>
<g transform="translate(526.9 984.7) skewX(-31) scale(1 0.76)"><text font-size="19.9" fill="#111">ACNS3</text></g>
<g transform="translate(183.78 1066.20) scale(1.0793 1.0000)"><text font-size="22.6" fill="#111">2θ (degrees)</text></g>
<g transform="translate(692.50 785.28) rotate(-90) scale(0.9879 1.0000)"><text font-size="24.5" fill="#111">Intensity (a.u.)</text></g>
<g transform="translate(625.96 781.90) scale(0.8456 1.0000)"><text font-size="31.6" font-weight="bold" fill="#000">B</text></g>
<g transform="translate(214.70 780.68) rotate(-90) scale(1.0025 1.0000)"><text font-size="21.5" fill="#111">C (002)</text></g>
<g transform="translate(249.40 749.44) rotate(-90) scale(1.0098 1.0000)"><text font-size="21.5" fill="#111">NiO(200)</text></g>
<g transform="translate(366.60 806.38) rotate(-90) scale(1.0025 1.0000)"><text x="0.00" font-size="21.5" fill="#111">C (</text><path transform="translate(28.66 0) scale(21.5)" d="M0.339 0V-0.688H0.262C0.225 -0.61 0.16 -0.56 0.096 -0.535V-0.455C0.15 -0.475 0.21 -0.51 0.251 -0.545V0Z" fill="#111" stroke="#111" stroke-width="0.0140"/><text x="40.62" font-size="21.5" fill="#111">00)</text></g>
<g transform="translate(396.80 847.40) rotate(-90) scale(0.9896 1.0000)"><text font-size="21.5" fill="#111">NiO(220)</text></g>
<g transform="translate(202.10 930.39) rotate(-90) scale(1.0414 1.0000)"><text x="0.00" font-size="21.5" fill="#111">NiO(</text><path transform="translate(44.19 0) scale(21.5)" d="M0.339 0V-0.688H0.262C0.225 -0.61 0.16 -0.56 0.096 -0.535V-0.455C0.15 -0.475 0.21 -0.51 0.251 -0.545V0Z" fill="#111" stroke="#111" stroke-width="0.0140"/><path transform="translate(56.14 0) scale(21.5)" d="M0.339 0V-0.688H0.262C0.225 -0.61 0.16 -0.56 0.096 -0.535V-0.455C0.15 -0.475 0.21 -0.51 0.251 -0.545V0Z" fill="#111" stroke="#111" stroke-width="0.0140"/><path transform="translate(66.51 0) scale(21.5)" d="M0.339 0V-0.688H0.262C0.225 -0.61 0.16 -0.56 0.096 -0.535V-0.455C0.15 -0.475 0.21 -0.51 0.251 -0.545V0Z" fill="#111" stroke="#111" stroke-width="0.0140"/><text x="76.87" font-size="21.5" fill="#111">)</text></g>
<g transform="translate(490.00 958.94) rotate(-90) scale(1.0114 1.0000)"><text x="0.00" font-size="21.5" fill="#111">NiO(</text><path transform="translate(44.19 0) scale(21.5)" d="M0.339 0V-0.688H0.262C0.225 -0.61 0.16 -0.56 0.096 -0.535V-0.455C0.15 -0.475 0.21 -0.51 0.251 -0.545V0Z" fill="#111" stroke="#111" stroke-width="0.0140"/><path transform="translate(56.14 0) scale(21.5)" d="M0.339 0V-0.688H0.262C0.225 -0.61 0.16 -0.56 0.096 -0.535V-0.455C0.15 -0.475 0.21 -0.51 0.251 -0.545V0Z" fill="#111" stroke="#111" stroke-width="0.0140"/><text x="66.51" font-size="21.5" fill="#111">3)</text></g>
<g transform="translate(518.40 934.62) rotate(-90) scale(1.0003 1.0000)"><text font-size="21.5" fill="#111">NiO(222)</text></g>
<clipPath id="cr"><rect x="183" y="830" width="24" height="40"/><rect x="500" y="845" width="22" height="40"/></clipPath>
<polyline clip-path="url(#cr)" fill="none" stroke="#ff0000" stroke-width="2.8" stroke-linejoin="round" points="104.2,844.5 104.6,844.6 104.9,838.7 105.3,837.6 105.6,838.8 106.0,839.9 106.3,840.0 106.6,839.5 107.0,836.6 107.3,842.8 107.7,843.2 108.0,836.4 108.4,840.5 108.7,838.2 109.0,838.7 109.4,838.1 109.7,838.2 110.1,840.5 110.4,840.9 110.7,841.8 111.1,840.7 111.4,838.0 111.8,838.0 112.1,841.5 112.5,838.8 112.8,841.4 113.1,840.5 113.5,842.0 113.8,842.9 114.2,837.2 114.5,839.1 114.9,842.3 115.2,836.4 115.5,840.4 115.9,837.8 116.2,842.0 116.6,845.4 116.9,843.1 117.2,842.5 117.6,838.9 117.9,839.8 118.3,844.7 118.6,839.9 119.0,844.9 119.3,837.6 119.6,839.2 120.0,839.3 120.3,844.0 120.7,839.2 121.0,842.4 121.3,839.2 121.7,845.1 122.0,840.2 122.4,841.0 122.7,841.5 123.1,837.5 123.4,842.0 123.7,841.4 124.1,840.5 124.4,840.5 124.8,842.0 125.1,841.3 125.5,840.5 125.8,841.1 126.1,838.2 126.5,841.4 126.8,839.6 127.2,845.1 127.5,839.2 127.8,840.2 128.2,842.6 128.5,841.6 128.9,840.6 129.2,841.3 129.6,843.9 129.9,837.9 130.2,844.4 130.6,840.9 130.9,843.0 131.3,841.4 131.6,841.4 132.0,841.3 132.3,842.6 132.6,841.2 133.0,842.2 133.3,837.4 133.7,842.2 134.0,842.5 134.3,842.8 134.7,839.2 135.0,839.8 135.4,841.4 135.7,840.2 136.1,839.6 136.4,842.4 136.7,838.9 137.1,840.4 137.4,838.3 137.8,839.2 138.1,844.1 138.4,839.1 138.8,845.2 139.1,839.7 139.5,842.0 139.8,836.4 140.2,839.5 140.5,843.5 140.8,841.8 141.2,839.3 141.5,845.9 141.9,840.9 142.2,840.4 142.6,843.6 142.9,836.8 143.2,841.2 143.6,844.0 143.9,840.5 144.3,845.3 144.6,842.3 144.9,842.3 145.3,839.1 145.6,841.5 146.0,840.6 146.3,842.0 146.7,841.6 147.0,844.0 147.3,841.0 147.7,841.1 148.0,837.6 148.4,840.9 148.7,843.7 149.1,840.9 149.4,839.4 149.7,842.9 150.1,842.4 150.4,842.4 150.8,838.6 151.1,844.7 151.4,839.9 151.8,841.2 152.1,840.2 152.5,840.9 152.8,841.7 153.2,840.3 153.5,841.3 153.8,841.1 154.2,841.7 154.5,843.5 154.9,842.3 155.2,844.0 155.5,844.9 155.9,841.9 156.2,843.8 156.6,844.9 156.9,842.7 157.3,840.0 157.6,841.9 157.9,845.3 158.3,841.0 158.6,846.5 159.0,843.8 159.3,841.8 159.7,840.7 160.0,838.8 160.3,843.9 160.7,842.2 161.0,843.3 161.4,840.8 161.7,844.7 162.0,842.6 162.4,843.6 162.7,843.9 163.1,839.4 163.4,841.9 163.8,846.7 164.1,842.3 164.4,843.1 164.8,841.1 165.1,844.0 165.5,845.1 165.8,847.1 166.2,846.6 166.5,841.3 166.8,839.5 167.2,843.8 167.5,842.4 167.9,842.2 168.2,845.6 168.5,844.0 168.9,843.5 169.2,843.4 169.6,842.3 169.9,843.1 170.3,842.8 170.6,842.6 170.9,841.4 171.3,842.8 171.6,845.8 172.0,839.4 172.3,844.4 172.6,841.3 173.0,840.6 173.3,843.5 173.7,844.8 174.0,844.5 174.4,842.5 174.7,843.3 175.0,843.8 175.4,843.3 175.7,843.2 176.1,843.6 176.4,845.2 176.8,843.9 177.1,845.6 177.4,845.5 177.8,844.9 178.1,839.7 178.5,846.3 178.8,844.1 179.1,841.8 179.5,847.9 179.8,846.2 180.2,845.9 180.5,843.4 180.9,843.1 181.2,846.6 181.5,841.0 181.9,846.4 182.2,844.4 182.6,845.1 182.9,843.2 183.3,846.3 183.6,846.0 183.9,844.5 184.3,844.7 184.6,842.8 185.0,845.3 185.3,842.9 185.6,847.5 186.0,844.2 186.3,845.2 186.7,846.1 187.0,845.7 187.4,844.7 187.7,844.5 188.0,850.1 188.4,844.8 188.7,844.8 189.1,844.2 189.4,847.0 189.7,845.8 190.1,847.5 190.4,847.7 190.8,845.5 191.1,847.1 191.5,844.0 191.8,848.0 192.1,848.8 192.5,849.7 192.8,845.5 193.2,845.9 193.5,849.7 193.9,848.0 194.2,846.2 194.5,848.8 194.9,846.8 195.2,847.4 195.6,849.9 195.9,845.5 196.2,852.7 196.6,851.5 196.9,847.0 197.3,846.9 197.6,849.3 198.0,847.0 198.3,849.9 198.6,845.0 199.0,850.2 199.3,848.3 199.7,850.8 200.0,848.9 200.4,849.2 200.7,849.1 201.0,848.7 201.4,852.1 201.7,846.4 202.1,851.5 202.4,848.0 202.7,851.4 203.1,850.0 203.4,850.9 203.8,852.6 204.1,851.3 204.5,847.6 204.8,848.8 205.1,848.6 205.5,851.4 205.8,848.2 206.2,850.2 206.5,849.6 206.8,846.2 207.2,850.1 207.5,849.3 207.9,849.0 208.2,852.4 208.6,854.0 208.9,848.9 209.2,850.0 209.6,851.6 209.9,850.5 210.3,849.9 210.6,851.6 211.0,851.3 211.3,848.1 211.6,851.5 212.0,852.1 212.3,848.6 212.7,851.4 213.0,854.0 213.3,851.4 213.7,853.2 214.0,849.6 214.4,850.1 214.7,850.4 215.1,850.4 215.4,854.8 215.7,851.3 216.1,849.3 216.4,851.4 216.8,848.3 217.1,853.3 217.5,851.7 217.8,850.9 218.1,853.0 218.5,852.8 218.8,851.9 219.2,851.7 219.5,850.6 219.8,854.0 220.2,851.8 220.5,851.0 220.9,852.3 221.2,850.7 221.6,857.7 221.9,855.3 222.2,856.0 222.6,853.4 222.9,851.9 223.3,851.0 223.6,854.8 223.9,853.1 224.3,853.8 224.6,853.0 225.0,853.5 225.3,853.8 225.7,854.1 226.0,854.5 226.3,856.5 226.7,852.7 227.0,856.4 227.4,854.5 227.7,855.1 228.1,852.7 228.4,857.2 228.7,852.0 229.1,854.3 229.4,854.1 229.8,854.2 230.1,855.0 230.4,856.1 230.8,857.2 231.1,856.3 231.5,858.4 231.8,858.2 232.2,853.5 232.5,855.9 232.8,855.6 233.2,856.0 233.5,854.3 233.9,854.7 234.2,857.0 234.6,857.0 234.9,853.4 235.2,858.1 235.6,854.4 235.9,858.4 236.3,857.3 236.6,855.2 236.9,856.0 237.3,858.1 237.6,854.7 238.0,857.9 238.3,857.4 238.7,859.2 239.0,856.9 239.3,856.3 239.7,855.9 240.0,856.0 240.4,858.8 240.7,855.5 241.0,858.8 241.4,859.4 241.7,858.7 242.1,855.1 242.4,858.6 242.8,860.0 243.1,857.0 243.4,859.6 243.8,855.2 244.1,856.1 244.5,853.9 244.8,857.8 245.2,858.9 245.5,857.1 245.8,856.7 246.2,857.5 246.5,857.5 246.9,857.1 247.2,857.8 247.5,856.2 247.9,860.6 248.2,856.6 248.6,860.2 248.9,856.6 249.3,857.6 249.6,856.9 249.9,858.4 250.3,856.9 250.6,857.2 251.0,859.0 251.3,858.0 251.7,859.3 252.0,858.7 252.3,857.2 252.7,859.5 253.0,858.3 253.4,859.5 253.7,860.1 254.0,856.3 254.4,860.1 254.7,859.4 255.1,857.8 255.4,857.1 255.8,859.2 256.1,859.1 256.4,857.9 256.8,859.2 257.1,856.7 257.5,860.3 257.8,857.7 258.1,858.0 258.5,860.3 258.8,859.9 259.2,857.8 259.5,859.2 259.9,859.5 260.2,858.7 260.5,859.6 260.9,858.7 261.2,862.3 261.6,860.0 261.9,861.2 262.3,859.1 262.6,860.2 262.9,858.7 263.3,860.8 263.6,857.9 264.0,859.9 264.3,861.3 264.6,860.9 265.0,861.1 265.3,857.6 265.7,861.8 266.0,860.5 266.4,858.7 266.7,861.5 267.0,860.4 267.4,857.4 267.7,860.3 268.1,861.0 268.4,859.0 268.8,861.6 269.1,857.0 269.2,859.0 269.4,858.3 269.7,861.6 269.8,857.9 270.1,858.3 270.2,861.8 270.5,856.3 270.7,856.5 270.8,857.7 271.1,853.8 271.2,854.9 271.5,850.9 271.7,849.7 271.8,848.8 272.2,845.4 272.2,849.7 272.5,849.1 272.7,850.7 272.9,851.0 273.2,854.9 273.2,856.1 273.5,857.9 273.7,858.6 273.9,859.4 274.2,862.1 274.2,860.4 274.6,861.4 274.7,861.4 274.9,860.9 275.2,859.1 275.2,859.6 275.6,862.0 275.9,861.4 276.3,861.3 276.6,861.7 277.0,861.3 277.3,862.7 277.6,861.0 278.0,858.6 278.3,861.2 278.7,861.5 279.0,861.1 279.4,861.6 279.7,859.5 280.0,860.2 280.4,862.8 280.7,861.4 281.1,863.4 281.4,862.9 281.7,863.8 282.1,862.6 282.4,860.9 282.8,862.8 283.1,861.1 283.5,861.4 283.8,862.8 284.1,859.6 284.5,864.6 284.8,863.7 285.2,860.7 285.5,865.1 285.9,861.4 286.2,860.6 286.5,864.6 286.9,863.2 287.2,863.1 287.6,860.8 287.9,862.8 288.2,862.3 288.6,860.5 288.9,861.9 289.3,861.4 289.6,861.6 290.0,863.4 290.3,861.6 290.6,862.1 291.0,863.9 291.3,862.5 291.7,863.9 292.0,861.6 292.3,864.8 292.7,863.2 293.0,861.5 293.4,864.6 293.7,862.5 294.1,866.2 294.4,861.4 294.7,863.4 295.1,864.5 295.4,863.4 295.8,864.1 296.1,862.6 296.5,865.3 296.8,864.2 297.1,863.5 297.5,862.4 297.8,861.4 298.2,862.3 298.5,863.7 298.8,862.8 299.2,864.0 299.5,862.0 299.9,863.3 300.2,864.1 300.6,863.8 300.9,864.4 301.2,864.8 301.6,864.6 301.9,863.0 302.3,865.3 302.6,864.2 303.0,862.7 303.3,863.6 303.6,862.8 304.0,863.3 304.3,864.1 304.7,863.5 305.0,862.5 305.3,861.6 305.7,861.8 306.0,863.1 306.4,860.0 306.7,861.3 307.1,862.5 307.4,863.2 307.7,863.1 308.1,863.9 308.4,862.2 308.8,863.6 309.1,865.2 309.4,864.1 309.8,864.1 310.1,864.8 310.5,866.8 310.8,859.8 311.2,860.1 311.5,860.6 311.8,861.7 312.2,861.1 312.5,861.2 312.9,860.9 313.2,860.5 313.6,863.4 313.9,862.0 314.2,861.0 314.6,861.4 314.9,859.4 315.2,858.5 315.3,857.8 315.6,859.3 315.7,856.1 315.9,852.8 316.1,850.7 316.3,843.6 316.5,834.5 316.6,825.2 316.9,793.2 317.0,792.1 317.3,747.2 317.4,739.5 317.7,715.2 317.8,709.4 318.0,715.3 318.2,736.9 318.3,749.1 318.7,792.5 318.7,795.9 319.0,830.3 319.1,833.2 319.4,846.1 319.5,850.2 319.7,853.3 320.0,856.7 320.1,858.7 320.4,860.1 320.4,859.6 320.7,857.9 321.1,860.7 321.4,860.5 321.8,862.8 322.1,862.1 322.4,861.1 322.8,862.5 323.1,862.0 323.5,862.5 323.8,862.2 324.2,861.5 324.5,862.9 324.8,864.6 325.2,864.3 325.5,865.6 325.9,865.9 326.2,865.0 326.5,865.1 326.9,864.1 327.2,865.7 327.6,864.9 327.9,865.1 328.3,868.1 328.6,864.8 328.9,866.0 329.3,865.5 329.6,864.4 330.0,863.1 330.3,863.0 330.7,867.8 331.0,865.5 331.3,864.8 331.7,865.4 332.0,862.8 332.4,864.1 332.7,864.3 333.0,866.8 333.4,862.8 333.7,865.4 334.1,867.6 334.4,865.8 334.8,865.2 335.1,864.1 335.4,866.5 335.8,866.7 336.1,865.6 336.5,866.4 336.8,867.1 337.2,866.4 337.5,864.2 337.8,864.9 338.2,864.8 338.5,866.6 338.9,866.1 339.2,865.9 339.5,863.1 339.9,866.6 340.2,865.6 340.6,864.6 340.9,867.8 341.3,864.2 341.6,866.6 341.9,866.2 342.3,863.5 342.6,865.5 343.0,865.8 343.3,865.8 343.6,865.0 344.0,863.8 344.3,867.5 344.7,864.9 345.0,864.5 345.4,866.0 345.7,864.7 346.0,864.6 346.4,865.0 346.7,864.8 347.1,865.7 347.4,865.6 347.8,867.0 348.1,865.1 348.4,867.0 348.8,866.3 349.1,865.4 349.5,863.5 349.8,864.2 350.1,863.8 350.5,867.0 350.8,865.3 351.2,865.9 351.5,865.1 351.9,864.3 352.2,865.8 352.5,864.7 352.9,864.6 353.2,867.1 353.6,865.7 353.9,865.0 354.3,865.3 354.6,865.6 354.9,864.9 355.3,866.4 355.6,866.2 356.0,867.2 356.3,868.0 356.6,866.1 357.0,865.7 357.3,867.8 357.7,868.6 358.0,866.7 358.4,866.8 358.7,867.6 359.0,866.8 359.4,866.1 359.7,865.9 360.1,866.9 360.4,869.1 360.7,867.2 361.1,866.7 361.4,866.3 361.8,867.1 362.1,865.0 362.5,869.5 362.8,870.1 363.1,866.9 363.5,865.3 363.8,867.3 364.2,868.1 364.5,867.4 364.9,866.6 365.2,866.8 365.5,866.1 365.9,866.9 366.2,866.9 366.6,867.8 366.9,866.9 367.2,866.5 367.6,866.6 367.9,867.2 368.3,865.6 368.6,866.7 369.0,866.7 369.3,865.8 369.6,866.1 370.0,865.6 370.3,867.1 370.7,867.4 371.0,867.2 371.4,868.8 371.7,868.7 372.0,864.8 372.4,866.6 372.7,867.6 373.1,869.0 373.4,867.1 373.7,868.9 374.1,865.5 374.4,867.3 374.8,868.4 375.1,867.0 375.5,867.1 375.8,867.7 376.1,865.9 376.5,865.7 376.8,868.1 377.2,867.7 377.5,867.7 377.8,866.5 378.2,866.2 378.5,868.7 378.9,865.6 379.2,867.7 379.6,865.8 379.9,867.0 380.2,867.7 380.6,869.4 380.9,870.0 381.3,869.7 381.6,868.2 382.0,866.3 382.3,866.9 382.6,868.8 383.0,867.8 383.3,869.8 383.7,866.0 384.0,867.8 384.3,868.8 384.7,866.9 385.0,866.0 385.4,870.0 385.7,867.9 386.1,868.1 386.4,867.4 386.7,867.1 387.1,867.2 387.4,867.8 387.8,866.8 388.1,869.4 388.5,867.9 388.8,866.7 389.1,868.4 389.5,868.9 389.8,869.8 390.2,865.2 390.5,868.3 390.8,868.9 391.2,869.2 391.5,867.6 391.9,868.4 392.2,867.1 392.6,868.4 392.9,866.3 393.2,868.5 393.6,869.4 393.9,868.1 394.3,868.6 394.6,868.5 394.9,867.4 395.3,869.4 395.6,868.3 396.0,869.3 396.3,867.3 396.7,869.3 397.0,868.7 397.3,868.5 397.7,867.5 398.0,868.1 398.4,868.1 398.7,868.2 399.1,869.1 399.4,869.7 399.7,868.8 400.1,867.3 400.4,866.9 400.8,870.0 401.1,866.4 401.4,867.5 401.8,869.5 402.1,868.1 402.5,868.3 402.8,869.5 403.2,868.1 403.5,869.2 403.8,867.9 404.2,868.4 404.5,868.7 404.9,870.5 405.2,869.3 405.6,869.7 405.9,867.7 406.2,868.8 406.6,868.4 406.9,868.0 407.3,866.7 407.6,869.3 407.9,870.0 408.3,867.5 408.6,870.2 409.0,867.6 409.3,869.4 409.7,867.9 410.0,868.8 410.3,867.5 410.7,867.7 411.0,868.7 411.4,867.8 411.7,867.2 412.0,867.5 412.4,868.9 412.7,868.0 413.1,866.8 413.4,868.2 413.8,867.9 414.1,869.7 414.4,867.3 414.8,866.9 415.1,868.7 415.5,867.8 415.8,868.9 416.2,867.4 416.5,866.1 416.8,870.3 417.2,868.8 417.5,867.2 417.9,866.7 418.2,865.6 418.5,870.1 418.9,868.6 419.2,867.9 419.6,868.6 419.9,867.1 420.3,866.4 420.6,867.2 420.9,867.3 421.3,870.4 421.6,868.2 422.0,868.7 422.3,869.6 422.7,868.6 423.0,866.9 423.3,869.3 423.7,867.9 424.0,867.5 424.4,868.8 424.7,867.2 425.0,869.4 425.4,868.0 425.7,867.0 426.1,868.1 426.4,867.6 426.8,868.7 427.1,868.5 427.4,868.4 427.8,868.7 428.1,868.2 428.5,869.3 428.8,867.6 429.1,867.9 429.5,867.8 429.8,867.1 430.2,869.6 430.5,869.8 430.9,866.6 431.2,868.8 431.5,868.9 431.9,867.9 432.2,869.0 432.6,868.6 432.9,868.5 433.3,868.8 433.6,867.9 433.9,866.9 434.3,870.3 434.6,869.8 435.0,865.8 435.3,867.4 435.6,868.7 436.0,868.7 436.3,870.0 436.7,868.6 437.0,866.5 437.4,870.6 437.7,866.9 438.0,867.7 438.4,869.1 438.7,870.2 439.1,867.4 439.4,869.4 439.8,867.6 440.1,868.7 440.4,868.2 440.8,866.5 441.1,866.9 441.5,867.8 441.8,867.1 442.1,869.7 442.5,867.2 442.8,867.5 443.2,870.4 443.5,866.7 443.9,867.2 444.2,867.4 444.5,868.7 444.9,868.3 445.2,868.9 445.6,870.0 445.9,869.5 446.2,870.3 446.6,866.7 446.9,868.5 447.3,868.5 447.6,869.4 448.0,868.2 448.3,868.3 448.6,867.1 449.0,868.9 449.3,869.6 449.7,869.2 450.0,869.0 450.4,868.4 450.7,869.5 451.0,870.6 451.4,866.5 451.7,866.8 452.1,867.7 452.4,868.3 452.7,869.5 453.1,870.4 453.4,868.8 453.8,870.1 454.1,870.4 454.5,869.6 454.8,869.9 455.1,867.4 455.5,868.8 455.8,868.7 456.2,869.4 456.5,869.9 456.9,869.3 457.2,869.8 457.5,869.0 457.9,869.4 458.2,869.1 458.6,867.2 458.9,869.9 459.2,867.6 459.6,868.4 459.9,870.1 460.3,868.4 460.6,867.5 461.0,867.7 461.3,868.5 461.6,868.0 462.0,868.0 462.3,865.4 462.7,867.2 462.7,864.6 463.0,864.4 463.1,864.2 463.3,862.6 463.5,862.2 463.7,861.1 464.0,854.3 464.0,849.9 464.4,837.4 464.4,835.3 464.7,816.4 464.8,809.8 465.1,799.7 465.2,797.9 465.4,799.0 465.7,808.9 465.7,815.8 466.1,833.5 466.1,834.7 466.4,849.5 466.5,852.9 466.8,860.4 467.0,863.0 467.1,865.5 467.4,865.4 467.5,865.4 467.8,869.0 467.8,865.9 468.1,866.7 468.5,868.0 468.8,869.1 469.2,869.5 469.5,868.5 469.8,870.1 470.2,870.8 470.5,868.3 470.9,868.3 471.2,869.5 471.6,870.0 471.9,871.2 472.2,868.0 472.6,870.9 472.9,867.7 473.3,870.6 473.6,870.7 474.0,869.5 474.3,868.6 474.6,868.9 475.0,870.2 475.3,870.8 475.7,871.0 476.0,868.8 476.3,869.5 476.7,869.4 477.0,870.4 477.4,871.1 477.7,870.2 478.1,871.2 478.4,869.2 478.7,868.3 479.1,870.9 479.4,870.5 479.8,872.4 480.1,869.7 480.4,869.3 480.8,871.2 481.1,870.8 481.5,870.0 481.8,869.1 482.2,869.7 482.5,870.8 482.8,867.9 483.2,871.2 483.5,871.0 483.9,867.9 484.2,869.6 484.6,870.3 484.9,869.0 485.2,868.9 485.6,870.3 485.9,869.5 486.3,871.1 486.6,870.0 486.9,871.1 487.3,870.7 487.6,871.5 488.0,869.2 488.3,870.6 488.7,870.3 489.0,868.7 489.3,871.0 489.7,871.2 490.0,869.9 490.4,870.3 490.7,869.7 491.1,868.0 491.4,870.6 491.7,869.1 492.1,869.5 492.4,870.4 492.8,868.7 493.1,869.8 493.4,868.8 493.8,869.0 494.1,870.2 494.3,871.6 494.5,868.1 494.8,868.8 494.9,869.9 495.2,870.5 495.5,868.5 495.5,870.7 495.8,869.6 496.1,870.5 496.2,870.2 496.5,870.3 496.7,869.4 496.9,870.2 497.2,869.1 497.3,866.5 497.5,866.1 497.9,866.8 497.9,865.4 498.2,866.7 498.5,865.8 498.6,867.3 498.9,869.4 499.1,868.1 499.3,869.0 499.6,870.3 499.8,870.1 499.9,870.0 500.3,870.8 500.4,870.3 500.6,869.2 501.0,869.6 501.0,869.8 501.3,870.6 501.6,869.2 501.7,871.5 502.0,871.2 502.3,871.5 502.7,872.8 503.0,872.7 503.4,868.9 503.7,870.6 504.0,871.0 504.4,869.3 504.7,871.7 505.1,869.0 505.4,868.7 505.8,869.6 506.1,869.7 506.4,869.4 506.8,870.9 507.1,869.8 507.5,870.3 507.8,870.4 508.2,871.5 508.5,867.7 508.8,871.6 509.2,870.5 509.5,871.7 509.9,870.6 510.2,869.6 510.5,869.6 510.9,871.4 511.2,872.0 511.6,871.4 511.9,869.3 512.3,869.0 512.6,870.3 512.9,868.2 513.3,870.0 513.6,870.7 514.0,870.5 514.3,869.9 514.6,873.3 515.0,869.6 515.3,869.3 515.7,871.0 516.0,868.6 516.4,871.0 516.7,871.1 517.0,870.3 517.4,871.5 517.7,868.4 518.1,868.8 518.4,872.1 518.8,870.7 519.1,871.7 519.4,869.7 519.8,871.1 520.1,870.7 520.5,869.5 520.8,869.5 521.1,871.0 521.5,871.2 521.8,872.8 522.2,869.0 522.5,870.4 522.9,871.1 523.2,871.2 523.5,871.2 523.9,871.9 524.2,870.9 524.6,869.1 524.9,869.9 525.3,870.1 525.6,869.9 525.9,871.7 526.3,871.0 526.6,870.6 527.0,869.4 527.3,869.1 527.6,869.4 528.0,870.3 528.3,870.7 528.7,870.1 529.0,871.8 529.4,871.1 529.7,870.4 530.0,870.4 530.4,873.1 530.7,869.4 531.1,872.3 531.4,871.3 531.7,870.0 532.1,871.6 532.4,870.2 532.8,871.1 533.1,872.0 533.5,870.3 533.8,871.0 534.1,871.7 534.5,871.8 534.8,870.0 535.2,870.1 535.5,871.4 535.9,870.4 536.2,871.7 536.5,870.3 536.9,871.8 537.2,871.9 537.6,869.2 537.9,871.0 538.2,869.9 538.6,871.4 538.9,871.6 539.3,868.9 539.6,869.6 540.0,870.8 540.3,872.9 540.6,870.6 541.0,871.0 541.3,869.7 541.7,870.2 542.0,871.6 542.4,871.2 542.7,871.8 543.0,872.8 543.4,871.0 543.7,871.0 544.1,868.9 544.4,871.3 544.7,871.7 545.1,868.8 545.4,870.8 545.8,870.7 546.1,871.2 546.5,869.9 546.8,871.3 547.1,870.5 547.5,870.7 547.8,871.0 548.2,870.2 548.5,872.3 548.8,870.5 549.2,870.3 549.5,871.3 549.9,872.1 550.2,871.2 550.6,869.7 550.9,870.2 551.2,871.2 551.6,870.8 551.9,872.1 552.3,871.8 552.6,871.5 553.0,870.5 553.3,870.0 553.6,869.9 554.0,871.3 554.3,870.3 554.7,870.5 555.0,869.9 555.3,872.1 555.7,869.9 555.7,872.2 556.0,869.1 556.2,871.5 556.4,871.2 556.7,870.0 556.7,869.5 557.1,870.3 557.2,870.9 557.4,868.0 557.7,866.5 557.7,866.5 558.1,865.1 558.2,863.2 558.4,860.9 558.7,860.9 558.8,861.8 559.1,862.8 559.2,863.6 559.5,862.7 559.7,867.1 559.8,868.2 560.1,868.4 560.2,869.6 560.5,870.7 560.8,869.4 560.8,872.3 561.2,870.9 561.3,870.2 561.5,871.9 561.8,872.3 561.8,871.0 562.2,870.5 562.5,871.2 562.9,872.7 563.2,870.5 563.6,873.2 563.9,872.7 564.2,870.5 564.6,871.1 564.9,870.5 565.3,871.6 565.6,871.8 565.9,871.7 566.3,871.1 566.6,872.5 567.0,870.5 567.3,871.0 567.7,869.7 568.0,871.2 568.3,873.4 568.7,872.6 569.0,871.5 569.4,870.2 569.7,872.5 570.1,869.8 570.4,871.1 570.7,872.8 571.1,871.1 571.4,871.5 571.8,871.8 572.1,871.5 572.4,872.3 572.8,872.9 573.1,872.9 573.5,872.3 573.8,872.7 574.2,870.5 574.5,871.4 574.8,869.8 575.2,870.8 575.5,871.7 575.9,871.5 576.2,871.6 576.6,871.2 576.9,871.9 577.2,871.1 577.6,869.3 577.9,872.0 578.3,870.4 578.6,872.5 578.9,870.5 579.3,871.6 579.6,871.6 580.0,870.5 580.3,871.6 580.7,872.7 581.0,869.6 581.3,872.3 581.7,870.1 582.0,872.0 582.4,870.5 582.7,871.0 583.0,871.7 583.4,871.2 583.7,871.0 584.1,871.4 584.4,870.6 584.8,871.7 585.1,870.1 585.4,870.1 585.8,870.4 586.1,870.5 586.1,869.8 586.5,871.6 586.6,872.3 586.8,870.0 587.1,872.1 587.2,868.8 587.5,869.1 587.6,867.5 587.8,865.1 588.1,862.7 588.2,860.5 588.5,856.9 588.6,854.3 588.9,851.1 589.1,850.2 589.2,849.2 589.5,853.2 589.6,855.2 589.9,858.7 590.1,862.2 590.2,861.8 590.6,867.2 590.6,867.5 590.9,869.4 591.2,869.3 591.3,870.5 591.6,870.1 591.7,872.1 591.9,871.6 592.2,872.4 592.3,871.1 592.6,873.0 593.0,871.2 593.3,871.8 593.7,872.4 594.0,871.5 594.3,871.6 594.7,870.7 595.0,872.3 595.4,872.3 595.7,872.1 596.0,870.7 596.4,870.0 596.7,873.6 597.1,871.3 597.4,871.9 597.8,871.7 598.1,871.8"/>
</svg>
</body></html>
